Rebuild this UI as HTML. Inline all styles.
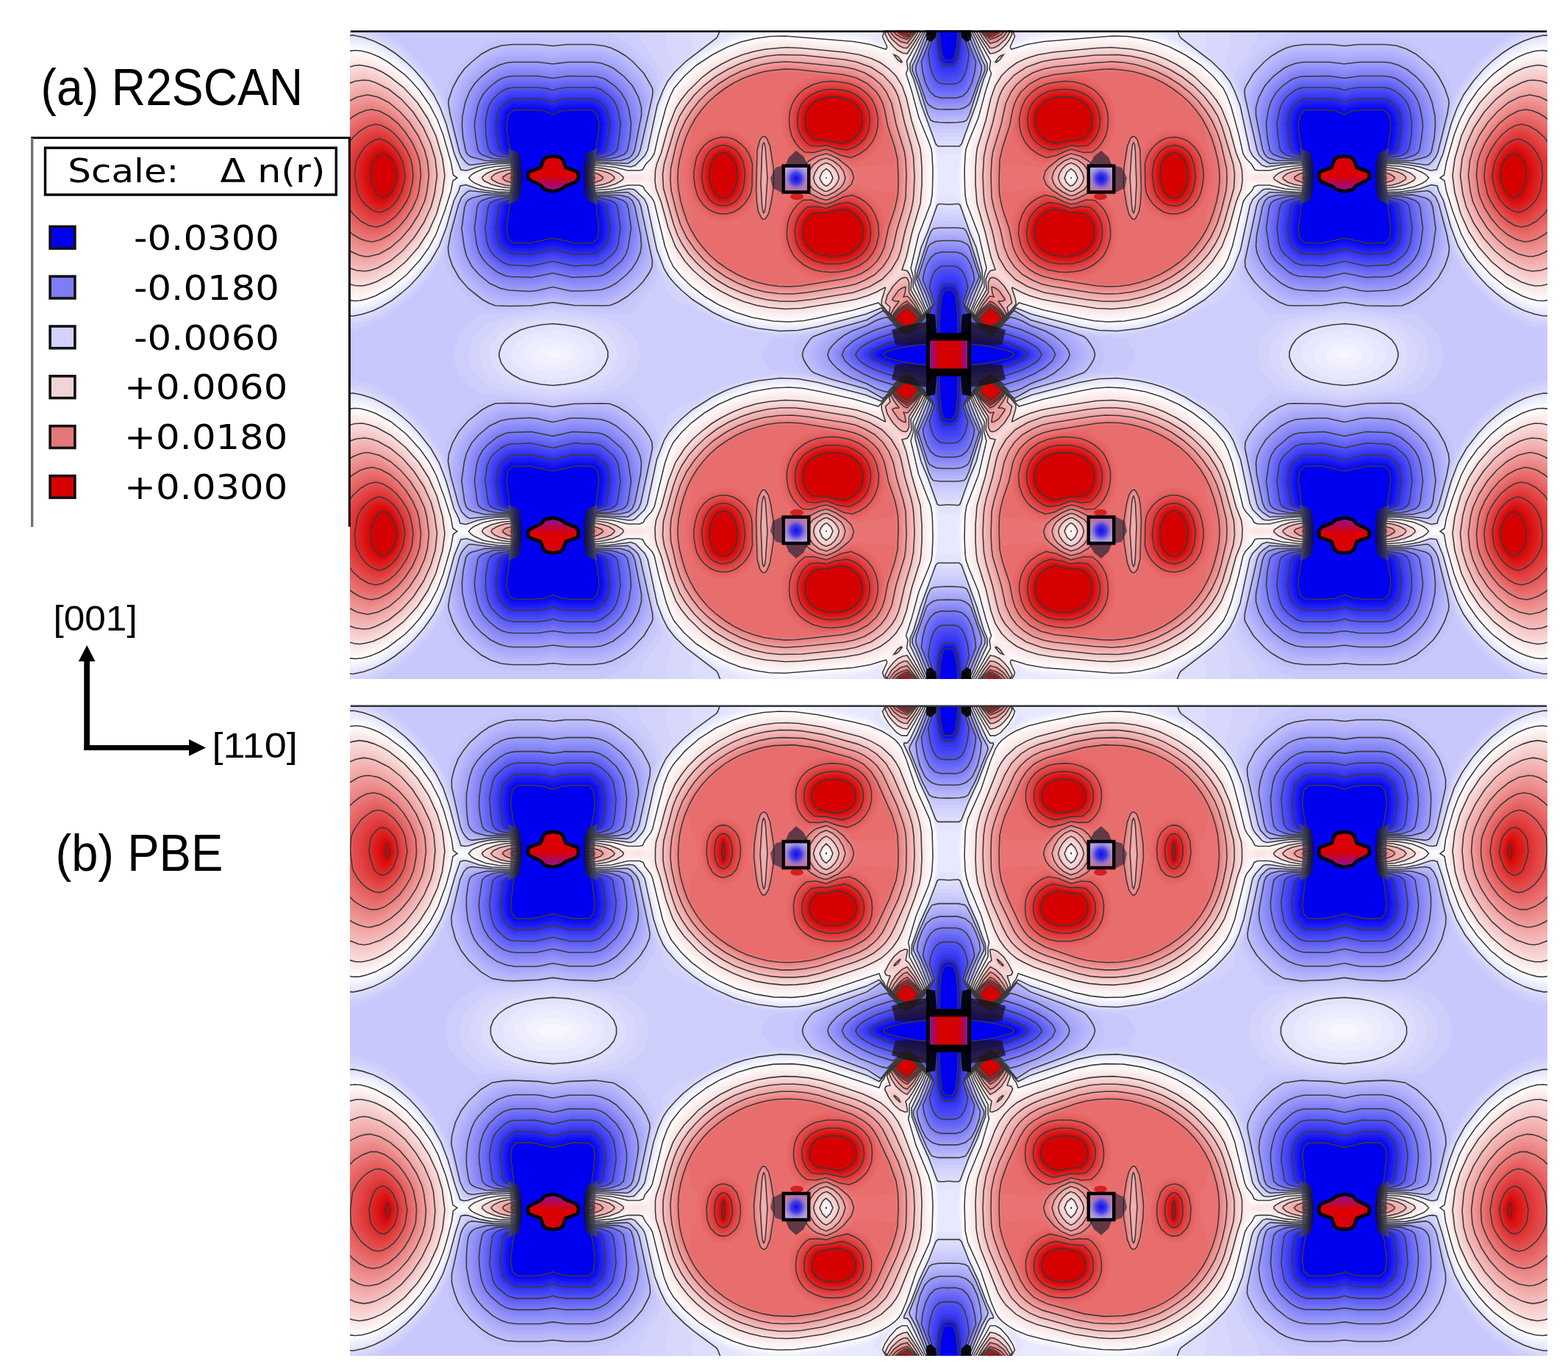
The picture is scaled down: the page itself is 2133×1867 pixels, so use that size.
<!DOCTYPE html>
<html><head><meta charset="utf-8"><title>Charge density difference</title>
<style>
html,body{margin:0;padding:0;background:#fff;}
body{width:2133px;height:1867px;position:relative;overflow:hidden;font-family:"Liberation Sans",sans-serif;color:#000;}
.t{position:absolute;white-space:nowrap;line-height:1;}
</style></head><body>
<svg width="2133" height="1867" viewBox="0 0 2133 1867" style="position:absolute;left:0;top:0">
<defs><linearGradient id="sgl" x1="0" y1="0" x2="0" y2="1"><stop offset="0" stop-color="#b0a8e8"/><stop offset="1" stop-color="#c07098"/></linearGradient><radialGradient id="sg" cx="0.5" cy="0.48" r="0.55"><stop offset="0" stop-color="#0c0cec"/><stop offset="0.45" stop-color="#3030ea" stop-opacity="0.85"/><stop offset="1" stop-color="#9080e0" stop-opacity="0"/></radialGradient><linearGradient id="hl" x1="0" y1="0" x2="1" y2="0"><stop offset="0" stop-color="#505060"/><stop offset="1" stop-color="#101020"/></linearGradient><linearGradient id="hr" x1="1" y1="0" x2="0" y2="0"><stop offset="0" stop-color="#505060"/><stop offset="1" stop-color="#101020"/></linearGradient><linearGradient id="bg1" x1="0" y1="0" x2="0" y2="1"><stop offset="0" stop-color="#d80010"/><stop offset="0.55" stop-color="#dc0000"/><stop offset="1" stop-color="#8a10a8"/></linearGradient><linearGradient id="cg" x1="0" y1="0" x2="1" y2="0"><stop offset="0" stop-color="#8a10a0"/><stop offset="0.35" stop-color="#d40000"/><stop offset="1" stop-color="#d80000"/></linearGradient><path id="a41" d="M1638 892l0-904 -80 0 3 8 -3 8 -43 80 2 20 -2 12 1 6 34 114 28 66 8 22 2 14 2 66 -2 42 -4 22 -35 86 -23 92 5 22 0 28 27 54 5 16 -7 14 -12 13 -16 14 -14 8 -14-7 -17-14 -45-50 -66 20 -78 18 -52 10 -44 4 -48-2 -46-7 -46-13 -44-17 -40-22 -38-27 -34-30 -26-31 -12-21 -13-40 -28-118 -6-12 -20-20 -6-10 -9-4 -24 0 -44 9 -48 4 -2-1 -7-12 -3-7 0-9 -2-2 0-18 2-2 4-14 4-5 50 4 46 9 24 0 8-4 7-10 19-20 7-12 17-75 13-49 12-34 11-20 24-29 30-28 34-25 36-21 42-19 44-13 44-8 46-3 41 2 155 14 36 6 46 17 2-7 -10-24 15-28 -1473 0 0 61 24-3 22 3 30 10 30 15 28 18 28 24 26 26 24 30 24 37 19 41 15 45 20 69 4 24 2 2 10 3 18 2 8-2 22-13 24-8 32-5 40-2 4 5 4 14 2 2 0 14 -5 22 -7 12 -2 1 -42-3 -28-5 -21-7 -23-13 -8-3 -20 2 -10 4 -6 26 -20 66 -22 57 -24 43 -34 44 -24 24 -24 21 -24 17 -26 15 -26 11 -24 6 -18 2 -22-3 0 153 1650 0z"/><path id="a40" d="M1638 892l0-904 -79 0 3 8 -2 6 -44 84 2 32 24 83 14 41 24 52 6 19 6 32 3 59 -3 44 -4 23 -36 85 -11 38 -13 54 4 20 0 28 28 56 4 14 -8 14 -12 14 -16 13 -14 8 -14-7 -16-13 -44-48 -92 27 -96 20 -54 6 -46-1 -48-8 -46-12 -46-19 -40-21 -38-27 -34-30 -26-31 -17-31 -11-34 -26-118 -7-12 -21-20 -6-9 -8-3 -20 0 -41 8 -51 4 -3-2 -6-12 -3-6 0-10 -2-2 0-18 2-2 4-14 4-6 54 4 42 8 20 0 8-3 6-10 20-19 8-12 30-128 9-26 15-28 24-29 30-28 34-25 36-21 42-19 44-13 44-8 48-3 46 2 150 13 36 7 42 17 3-1 0-4 -9-20 5-12 12-18 -1473 0 0 54 22-3 26 4 28 10 30 15 28 18 28 23 26 27 24 29 26 39 18 40 13 38 15 54 9 26 5 24 10 4 18 1 32-14 23-7 30-4 39-2 4 6 4 14 2 2 0 14 -2 16 -5 12 -7 8 -34-2 -31-4 -25-7 -30-14 -18 1 -11 4 -5 20 -22 70 -22 59 -24 43 -34 44 -24 25 -24 21 -24 17 -26 15 -26 11 -26 8 -20 2 -20-3 0 146 1650 0zM556 890l-17-2 -6-4 -1-4 6-6 12-2 12 1 9 5 1 4 -3 4 -13 4z"/><path id="a39" d="M1638 892l0-904 -79 0 4 8 -2 6 -43 86 2 30 23 78 16 44 17 37 12 39 7 42 2 46 -3 42 -6 34 -6 19 -18 38 -15 37 -19 76 3 16 0 28 27 56 5 14 -6 12 -13 16 -18 16 -14 8 -12-6 -16-13 -17-17 -13-16 -16-15 -42 14 -58 16 -90 20 -52 5 -48-1 -48-8 -48-13 -44-18 -42-23 -38-27 -34-30 -25-30 -13-24 -14-34 -28-128 -7-12 -17-15 -8-11 -8-4 -18-1 -42 8 -50 3 -3-2 -7-12 -2-6 0-10 -2-2 0-18 2-2 4-14 4-7 54 4 42 8 18-1 8-4 8-11 16-15 8-12 30-132 13-32 13-22 23-28 31-29 34-25 36-21 42-19 44-13 48-9 46-3 48 2 150 13 34 7 40 19 2-4 -7-18 8-16 9-14 -1472 0 0 47 22-2 26 4 28 9 30 15 28 19 28 23 26 26 24 29 26 39 18 39 16 46 14 52 11 30 5 20 10 3 14 1 35-14 24-6 65-5 4 7 4 14 2 2 0 14 -2 16 -5 12 -7 8 -40-1 -26-4 -24-7 -30-12 -16 1 -10 3 -30 98 -22 57 -24 42 -33 43 -24 24 -25 22 -24 17 -26 15 -26 12 -26 7 -20 2 -20-2 0 139 516 0 -3-6 -1-8 8-12 20-10 24-3 24 3 20 10 8 12 -1 8 -3 6 1038 0z"/><path id="a38" d="M1638 892l0-904 -79 0 4 8 -1 6 -43 86 3 28 22 74 32 83 15 47 8 52 1 32 -3 40 -8 38 -11 34 -28 64 -18 72 2 12 0 28 28 60 3 12 -6 12 -13 16 -16 15 -16 9 -14-7 -16-13 -42-45 -40 14 -70 19 -84 19 -50 5 -48-1 -48-7 -48-13 -46-19 -42-23 -38-27 -36-32 -25-30 -14-28 -17-46 -22-108 -3-10 -7-9 -15-13 -10-12 -7-2 -16-1 -38 7 -52 3 -10-15 -2-6 0-10 -2-2 0-18 2-2 3-14 5-7 46 2 46 8 18-1 6-2 26-26 6-8 4-10 24-113 15-41 15-28 24-29 32-30 36-26 38-22 44-20 46-14 46-8 48-3 42 1 150 14 32 7 38 21 2-1 -4-12 1-6 17-28 -1472 0 0 40 20-2 26 4 28 9 30 15 28 18 28 23 26 25 25 30 26 38 19 38 16 45 17 63 11 28 6 20 20 3 34-12 22-6 27-3 41-1 5 7 3 14 2 2 1 14 -5 22 -10 15 -42-2 -25-3 -23-6 -30-11 -12 0 -10 3 -5 18 -13 30 -16 58 -20 52 -24 42 -33 42 -23 24 -24 21 -26 19 -26 15 -26 12 -26 8 -22 3 -20-2 0 132 482 0 -2-10 2-11 6-10 10-9 14-8 16-5 36-5 36 5 16 5 14 8 10 9 6 10 2 11 -2 10 1004 0z"/><path id="a37" d="M1638 892l0-441 -30-2 -8 3 -24 74 -19 42 -8 24 -15 60 0 36 32 74 -12 22 -24 23 -16 9 -8-3 -26-21 -25-28 -13-11 -42 16 -122 31 -54 10 -46 3 -32-2 -32-5 -32-7 -30-9 -30-11 -30-14 -54-34 -28-22 -24-23 -17-20 -13-22 -22-57 -23-113 -4-10 -6-8 -25-24 -6-3 -14 0 -36 6 -32 2 -22 1 -4-4 -8-18 0-10 -3-4 1-16 2-2 0-6 3-8 5-8 48 2 46 7 14-1 6-2 29-30 6-12 23-111 9-27 11-26 10-20 10-14 18-20 40-35 46-31 52-27 67-27 -1109 0 0 32 20-1 26 5 28 9 30 15 28 18 28 23 26 25 24 28 27 38 19 38 16 44 20 74 17 44 19 2 30-10 26-6 28-3 38-1 8 16 0 6 2 2 1 14 -5 22 -10 16 -42-2 -24-3 -23-5 -31-11 -10 0 -9 3 -5 16 -12 26 -18 64 -20 54 -24 42 -33 42 -23 24 -24 22 -26 19 -26 15 -28 13 -26 8 -24 4 -18-1 0 124 450 0 -2-14 4-14 8-12 14-12 18-10 21-8 25-5 24-2 26 2 24 4 22 8 18 9 14 12 10 14 4 14 -2 14 972 0zM1438 22l7-14 13-20 -22 0 4 14 -5 16 1 4 2 0zM1619 336l19-4 0-344 -78 0 4 8 -1 4 -42 88 1 20 27 90 15 37 32 93 6 8 17 0z"/><path id="a36" d="M1638 892l0-419 -32-2 -6 0 -4 3 -26 73 -18 43 -16 62 -1 34 32 76 -6 12 -9 13 -24 22 -14 8 -12-6 -25-21 -33-36 -42 17 -130 34 -54 10 -50 2 -58-7 -35-8 -32-10 -25-10 -33-16 -54-34 -31-26 -20-20 -15-18 -12-20 -20-52 -26-122 -8-16 -25-24 -6-3 -12-1 -38 6 -36 3 -16 0 -4-5 -8-18 -3-18 3-21 8-15 38 0 62 8 12-4 26-26 8-16 26-121 15-39 13-26 20-26 31-30 82-62 4-6 6-16 6-10 -1023 0 0 25 20-1 28 6 28 10 28 14 28 18 28 22 26 25 25 29 27 38 18 36 16 43 22 81 18 44 16 2 31-10 21-4 32-4 36-1 3 1 7 15 0 7 2 2 1 14 -5 23 -10 16 -34-1 -34-4 -20-4 -32-11 -16 3 -4 14 -13 26 -21 74 -19 50 -23 40 -32 41 -24 26 -24 21 -26 20 -27 16 -25 12 -28 9 -24 5 -20-1 0 117 417 0 -1-16 6-19 12-17 18-14 22-12 22-7 34-7 32-3 32 3 34 6 26 8 20 10 20 16 11 16 7 18 -1 18 939 0zM1625 314l13-2 0-324 -78 0 4 8 0 4 -42 90 0 18 10 24 19 64 41 112 6 6 27 0z"/><path id="a35" d="M1638 892l0-406 -32-1 -8 1 -4 2 -39 102 -18 66 -1 28 32 76 -5 12 -10 14 -25 23 -14 8 -12-6 -23-19 -25-28 -10-8 -42 18 -132 36 -52 9 -52 1 -34-3 -32-6 -62-17 -58-27 -28-16 -28-20 -26-22 -21-21 -15-18 -12-20 -18-47 -28-128 -3-9 -6-8 -25-23 -8-3 -56 6 -40 2 -10-16 -3-18 -2-2 1-18 2-2 0-8 8-15 38 0 62 7 9-4 20-18 9-11 4-11 27-122 11-32 12-26 13-20 61-68 3-8 -4-18 0-14 3-14 7-14 -949 0 0 18 24 0 32 8 32 13 34 20 46 36 42 45 28 38 20 39 14 38 24 91 19 42 9 2 8-1 29-9 29-5 58-3 3 2 7 14 0 8 2 2 1 14 -5 24 -10 16 -34-1 -32-4 -22-4 -32-9 -13 2 -18 40 -23 81 -16 43 -24 42 -32 42 -24 25 -26 24 -26 19 -26 16 -28 13 -26 9 -24 4 -20 0 0 110 391 0 0-22 7-20 14-18 22-18 22-10 24-8 42-8 40-4 42 4 44 8 25 8 20 10 21 16 16 20 8 20 0 22 912 0zM1633 300l5 0 0-312 -78 0 5 12 -42 92 0 16 13 31 36 112 18 45 4 3 6 1 33 0z"/><path id="a34" d="M1638 892l0-395 -28-1 -16 2 -4 4 -6 14 -28 78 -19 70 0 22 27 60 4 16 -9 16 -13 16 -18 16 -14 7 -12-6 -18-14 -38-40 -44 20 -110 31 -50 10 -36 5 -34 0 -36-2 -36-6 -32-8 -32-10 -34-14 -30-16 -30-18 -28-20 -26-23 -21-22 -20-32 -16-40 -30-136 -9-18 -24-22 -8-3 -56 6 -38 1 -10-16 -5-22 1-16 2-2 0-8 7-14 3-2 40 1 56 6 7-3 16-14 15-18 34-144 12-32 33-62 -1-7 -14-37 -4-20 1-22 7-20 -878 0 0 10 22 1 30 6 30 12 32 18 26 18 24 20 24 23 23 26 28 38 20 38 14 40 26 96 19 40 14 1 28-8 30-5 58-3 3 3 7 14 0 8 2 2 1 14 -5 24 -10 16 -56-2 -30-5 -30-9 -8 0 -5 2 -20 40 -25 88 -16 42 -21 38 -32 42 -25 26 -26 24 -26 19 -26 16 -28 14 -26 9 -26 6 -20 0 0 102 362 0 1-24 8-22 16-22 23-18 24-11 34-10 94-13 94 13 36 9 27 12 23 18 16 22 8 22 0 24 884 0zM1638 288l0-300 -77 0 5 10 -1 4 -41 90 0 16 18 44 30 95 16 38 4 3 12 1 34-1z"/><path id="a33" d="M1638 892l0-385 -28 0 -18 1 -4 5 -6 13 -16 44 -28 94 0 20 26 59 5 17 -8 16 -13 16 -18 16 -16 10 -12-6 -16-12 -40-42 -44 22 -114 32 -34 7 -34 6 -32 2 -32 0 -36-4 -56-12 -52-17 -34-16 -50-26 -36-14 -12-7 -10-9 -11-18 -5-22 -25-64 -32-142 -5-14 -14-14 -14-12 -6-2 -56 6 -36 1 -10-17 -3-18 -2-2 1-18 2-2 0-8 6-14 4-3 38 1 58 5 26-21 6-8 5-10 32-140 19-48 2-14 -3-10 -12-22 -44-64 -6-20 0-20 -797 0 0 1 28 2 24 6 26 10 26 14 28 18 26 20 26 24 24 27 31 40 20 38 15 42 28 104 19 38 11 1 27-7 29-4 60-3 4 3 6 14 0 8 2 2 1 14 -5 24 -9 16 -3 1 -58-3 -27-4 -29-8 -10 2 -21 38 -26 94 -16 44 -20 36 -32 42 -23 25 -26 23 -26 21 -28 17 -28 14 -28 11 -26 5 -20 1 0 93 333 0 0-26 10-26 18-24 23-19 28-11 44-10 106-14 108 14 48 10 28 11 25 19 18 24 9 26 -1 26 853 0zM1638 278l0-290 -77 0 5 10 0 4 -41 92 0 14 17 41 24 77 18 46 4 4 8 2 42 0z"/><path id="a32" d="M281 892l0-16 2-16 6-18 8-16 12-16 15-15 18-14 16-8 56-3 136-16 134 15 30 2 24-2 18 3 18-17 30-34 17-23 13-24 4-10 -1-12 -11-34 -32-142 -5-14 -11-12 -20-14 -60 5 -32 0 -10-17 -3-18 -2-2 1-18 2-2 0-8 6-14 4-4 40 1 53 5 5-2 25-22 7-14 32-142 13-38 0-10 -6-14 -14-22 -17-21 -42-39 -20-15 -22-12 -34-14 -44-11 -587 0 25 11 24 14 44 32 40 39 37 46 21 38 12 34 36 132 21 36 7 1 30-7 28-4 58-2 4 4 6 14 3 20 -3 20 -7 18 -7 8 -56-3 -30-4 -26-6 -9 1 -15 24 -6 12 -28 102 -21 58 -16 28 -14 20 -19 24 -26 27 -46 38 -46 28 -24 10 -24 8 -20 4 -18 1 0 78 293 0zM1638 268l0-280 -77 0 6 14 -41 92 0 14 17 40 23 76 16 38 4 4 12 2 40 0zM1638 892l0-375 -22 0 -26 2 -6 7 -17 42 -27 90 -1 26 31 74 -5 12 -11 16 -24 23 -16 9 -8-3 -26-20 -28-32 -6-3 -42 22 -122 34 -64 14 -73 8 -5 4 -9 14 -20 36 527 0z"/><path id="a31" d="M1638 258l0-270 -76 0 5 10 0 6 -31 74 -9 18 0 12 17 40 24 77 12 28 6 3 14 3 38-1zM694 758l34-3 18-10 20-14 26-25 19-22 16-28 2-14 -38-166 -7-16 -10-10 -18-12 -88 4 -4-2 -8-16 -3-18 -2-2 0-18 3-2 0-8 2-6 4-8 4-5 90 6 7-3 23-20 7-16 38-162 1-12 -2-8 -22-36 -32-34 -22-18 -18-11 -20-9 -22-7 -36-5 -68-1 -38 3 -38-4 -72 0 -32 3 -34 11 -20 11 -18 12 -24 21 -21 22 -16 24 -12 24 -8 22 1 14 38 148 8 16 16 20 58-8 60-3 4 5 6 14 0 8 3 2 0 18 -2 2 -3 18 -8 16 -4 3 -60-3 -54-9 -16 18 -7 11 -4 12 -37 138 0 14 9 24 17 32 24 28 38 33 32 17 14-1 34 1 68-4 60-9 52 8 92 5zM1638 892l0-366 -32 0 -18 3 -6 7 -10 22 -32 102 -1 16 1 7 25 57 6 18 -6 12 -11 16 -20 20 -18 12 -8-2 -28-21 -32-34 -46 24 -172 49 -9 6 -10 14 -6 14 -3 12 2 12 434 0z"/><path id="a30" d="M1638 248l0-260 -76 0 5 10 1 6 -30 72 -10 20 0 11 18 44 24 76 8 16 8 4 16 2 36 1 0-2zM687 748l19-1 22-9 24-15 26-22 18-19 16-23 8-17 1-16 -32-150 -6-14 -11-11 -18-12 -86 4 -4-3 -8-16 -3-18 -2-2 0-18 2-2 3-14 8-13 90 4 18-12 10-11 6-14 33-146 1-18 -4-10 -20-34 -30-32 -20-16 -18-11 -20-10 -20-6 -32-4 -70 0 -38 4 -38-4 -72 0 -30 3 -28 9 -26 14 -26 21 -21 20 -16 22 -15 28 -11 32 -1 12 4 27 26 105 6 13 10 13 8 7 6 2 56-7 54-1 5 5 5 14 1 8 2 2 0 18 -2 2 0 10 -3 2 -2 11 -6 11 -4 3 -50-2 -58-6 -8 4 -14 14 -9 21 -21 78 -7 38 2 20 10 30 18 32 25 29 38 30 18 10 18 7 38 1 58-1 60-9 58 8 79 1zM1638 892l0-356 -34 0 -18 2 -6 6 -8 18 -31 98 -1 16 32 80 -5 12 -9 14 -22 23 -18 12 -4 2 -4-1 -28-20 -30-34 -4-2 -44 25 -103 29 -42 16 -9 8 -10 14 -8 14 -3 12 3 12 406 0z"/><path id="a29" d="M1638 242l0-254 -76 0 7 12 0 6 -29 70 -11 22 0 8 17 42 22 70 8 18 8 4 14 2 40 0zM688 742l22-6 22-10 18-12 27-24 17-19 14-21 8-18 0-14 -30-142 -6-14 -16-15 -12-6 -84 3 -4-4 -8-16 -3-18 -2-2 0-18 2-2 3-15 8-13 88 3 10-5 18-16 6-14 30-138 1-18 -5-14 -21-34 -29-30 -20-16 -16-10 -18-8 -20-6 -30-3 -70 0 -38 4 -38-5 -72 0 -28 4 -28 9 -24 13 -26 21 -20 20 -15 21 -14 28 -10 32 -3 18 4 24 22 94 6 12 8 10 10 7 16 3 52-5 46-1 5 6 5 14 1 8 2 2 0 18 -2 2 0 10 -2 2 -3 12 -6 10 -4 4 -98-6 -18 5 -13 13 -8 20 -17 66 -6 34 3 30 11 32 19 32 24 26 37 29 18 9 20 7 12 2 74-2 60-9 58 9 80 1zM1638 892l0-350 -34 0 -20 4 -6 6 -6 13 -30 95 -1 14 0 6 21 46 11 30 -15 26 -20 22 -20 14 -4 2 -4-2 -26-18 -32-35 -4-1 -44 26 -87 24 -37 14 -12 10 -13 16 -8 14 -3 12 2 12 392 0z"/><path id="a28" d="M1638 236l0-248 -75 0 7 14 0 4 -27 66 -13 27 0 7 16 40 28 82 8 5 16 4 38 0 2-1zM678 736l20-4 18-7 18-10 16-11 22-20 16-17 14-22 9-21 -1-23 -27-125 -6-14 -15-14 -13-6 -81 2 -10-14 -7-28 0-16 2-2 1-8 5-14 5-7 84 3 14-6 16-16 6-14 28-130 0-16 -6-16 -20-34 -26-28 -36-26 -18-8 -20-6 -26-3 -68-1 -42 5 -38-4 -72-1 -26 4 -26 8 -24 13 -26 21 -20 20 -14 20 -12 24 -10 30 -4 26 2 22 20 86 6 12 6 8 10 7 22 4 92-4 5 7 5 14 1 8 2 2 0 18 -2 2 0 10 -2 2 -3 12 -10 14 -90-3 -24 5 -13 12 -8 18 -15 61 -5 27 5 36 10 32 17 30 23 26 36 29 18 9 20 7 24 4 32-3 28 1 60-9 54 9 74 1zM1638 892l0-344 -34 0 -20 4 -6 4 -6 13 -29 93 -2 12 25 58 7 24 -14 26 -19 20 -22 16 -4 2 -4-1 -28-20 -32-35 -46 28 -77 22 -32 12 -13 10 -14 16 -9 14 -4 14 3 12 380 0z"/><path id="a27" d="M1638 230l0-242 -75 0 8 18 -25 63 -15 31 0 6 16 38 21 66 6 12 10 5 14 4 40 1 0-2zM679 728l23-6 20-9 18-11 22-19 14-14 13-17 10-18 7-18 -1-24 -24-116 -6-14 -15-13 -14-5 -78 1 -10-15 -3-12 -2-2 0-10 -2-2 0-18 2-2 1-8 5-14 5-7 82 1 14-5 15-15 6-14 25-122 1-16 -8-22 -19-32 -26-27 -34-24 -18-9 -18-5 -24-3 -68 0 -42 5 -38-5 -72 0 -26 4 -24 8 -22 12 -24 19 -18 18 -15 19 -11 22 -9 26 -7 36 0 16 19 84 3 10 6 8 10 7 28 6 86-2 5 7 3 12 2 2 1 8 2 2 0 18 -2 2 0 10 -2 2 -3 12 -10 15 -84-2 -30 7 -12 11 -6 16 -17 77 6 44 10 32 17 30 22 23 34 27 18 9 18 6 26 4 46 0 22-1 48-8 58 9 52 1 19-2zM1638 892l0-338 -30 0 -18 2 -10 3 -6 9 -31 94 -1 10 1 6 22 48 9 28 -5 12 -10 16 -19 21 -22 16 -4 2 -4-2 -26-18 -34-35 -46 29 -67 19 -30 12 -15 12 -14 16 -8 14 -4 12 3 12 369 0z"/><path id="a26" d="M1638 224l0-236 -75 0 7 12 2 7 -38 91 -1 10 15 36 24 70 10 7 16 4 40 1 0-2zM638 722l30 0 20-4 22-7 20-11 29-24 15-16 16-24 10-24 2-12 -2-15 -22-107 -6-16 -14-12 -16-5 -74 1 -10-16 -7-28 0-16 2-2 1-8 2-2 3-12 5-8 78 1 18-6 13-13 5-14 23-110 1-18 -6-20 -16-32 -26-29 -34-26 -16-8 -18-5 -28-4 -70 0 -38 5 -38-5 -70 0 -22 2 -20 6 -24 12 -24 18 -20 19 -14 19 -12 22 -9 28 -7 38 0 20 16 72 4 10 6 8 14 6 27 6 79-2 5 8 3 12 3 2 0 8 2 2 0 18 -2 2 0 10 -2 2 -3 12 -10 16 -78-2 -32 8 -8 4 -5 6 -6 14 -14 68 6 48 7 26 15 30 21 25 34 28 32 15 26 5 56 3 22-2 42-9 52 10 18 1 18-2zM1638 892l0-333 -30 0 -18 3 -12 5 -6 10 -28 87 -1 8 23 54 9 28 -15 28 -18 20 -20 15 -8 4 -2-1 -26-17 -35-35 -47 29 -68 21 -16 8 -17 14 -14 14 -8 14 -4 12 3 12 358 0z"/><path id="a25" d="M1638 220l0-232 -74 0 7 12 2 8 -37 88 -1 8 1 8 14 36 16 48 6 12 10 6 14 5 42 1zM622 716l60-4 20-6 20-10 30-24 16-16 15-22 11-26 2-20 -4-30 -16-80 -6-14 -12-12 -20-6 -70 0 -10-16 -7-28 0-16 2-2 0-8 2-2 3-12 6-8 72 0 22-6 12-12 6-14 20-102 0-20 -5-20 -8-18 -9-15 -24-28 -33-25 -17-8 -16-5 -24-3 -68 0 -42 5 -38-5 -70 0 -20 2 -18 5 -24 11 -24 18 -20 20 -14 19 -10 21 -9 26 -7 38 0 26 12 60 9 16 15 8 28 6 76 0 6 8 3 12 2 2 0 8 2 2 0 18 -2 2 0 10 -2 2 -3 12 -10 16 -74 0 -33 8 -8 4 -5 5 -6 17 -10 56 0 18 5 32 6 26 15 30 19 24 33 27 30 15 26 6 58 2 20-2 42-9 46 10 26 1zM1638 892l0-327 -30 0 -16 2 -14 6 -6 8 -28 89 1 6 20 44 11 32 -15 28 -19 22 -16 13 -12 7 -12-6 -13-10 -33-32 -6 0 -14 6 -30 19 -53 17 -20 10 -18 14 -14 14 -9 14 -4 12 3 12 347 0z"/><path id="a24" d="M1638 214l0-226 -74 0 10 20 -36 88 0 10 2 12 26 74 6 9 12 8 12 4 42 1zM626 708l40-2 18-2 20-7 18-10 28-23 15-16 14-22 9-22 3-18 -2-30 -16-78 -7-16 -10-9 -24-6 -64 0 -10-17 -7-28 0-16 2-2 0-8 2-2 3-12 6-9 70 0 23-7 7-6 4-6 5-12 18-92 0-22 -8-28 -16-30 -23-26 -30-23 -18-8 -14-5 -22-3 -68 0 -42 5 -40-5 -68 0 -18 2 -20 6 -24 12 -24 19 -19 20 -14 22 -11 28 -8 38 -1 26 3 34 8 38 6 8 8 5 38 10 71 1 5 8 3 12 2 2 0 8 2 2 0 18 -2 2 0 10 -2 2 0 6 -5 12 -8 11 -68-1 -34 9 -9 5 -6 6 -5 14 -8 58 7 50 6 24 14 28 19 22 30 25 30 14 24 5 56 3 18-2 44-10 48 11 28 0zM1638 892l0-321 -30 0 -16 2 -16 8 -6 9 -26 80 22 49 11 33 -15 28 -20 23 -16 12 -12 7 -22-13 -32-30 -16 4 -16 6 -24 13 -40 15 -22 12 -18 14 -13 13 -9 12 -4 12 4 12 336 0z"/><path id="a23" d="M1638 208l0-220 -73 0 8 16 2 6 -34 84 0 16 5 21 18 51 4 8 6 7 10 6 14 5 20 1 20-1zM622 702l56-4 20-5 18-9 29-24 14-14 13-20 10-24 4-22 0-26 -15-76 -6-14 -11-9 -25-7 -61-1 -10-17 -7-28 0-16 2-2 0-8 2-2 3-12 6-9 66-1 26-8 10-10 5-14 16-84 0-20 -9-32 -15-30 -23-25 -30-23 -30-12 -20-2 -68 0 -42 5 -38-5 -70 0 -18 2 -16 4 -22 11 -26 20 -18 19 -14 22 -11 30 -8 38 0 22 3 36 6 32 6 8 10 6 36 10 64 0 4 2 9 22 0 8 2 2 0 18 -2 2 0 10 -2 2 0 6 -5 12 -8 11 -66 1 -32 9 -9 5 -5 6 -5 12 -7 58 6 48 6 22 12 26 18 22 32 26 28 13 22 5 58 2 16-2 44-9 48 10 24 1zM1638 892l0-316 -30 0 -16 3 -14 6 -8 10 -24 75 22 50 10 30 -5 12 -11 18 -20 23 -16 13 -12 7 -19-11 -33-30 -22 7 -66 27 -28 16 -28 24 -9 12 -4 12 3 12 330 0z"/><path id="a22" d="M1638 202l0-214 -73 0 11 22 -15 40 -15 34 -3 12 3 26 6 21 14 37 14 15 10 5 14 3 34 1 0-2zM617 696l59-4 18-4 18-9 29-23 13-14 14-20 9-22 5-30 0-20 -14-72 -4-12 -5-6 -7-4 -26-7 -58-1 -8-12 -5-12 -2-18 -2-4 0-16 2-2 0-8 2-2 3-13 6-8 64-3 24-7 8-5 4-5 4-13 15-78 -2-22 -8-34 -15-28 -21-24 -29-22 -14-7 -16-5 -20-2 -66 0 -42 5 -38-5 -70 0 -16 2 -16 4 -22 10 -25 20 -17 18 -14 22 -10 28 -7 36 -1 20 3 36 6 32 5 8 9 6 17 7 20 4 60 1 4 2 6 14 3 16 2 2 0 18 -2 2 0 10 -2 2 -3 12 -10 18 -62 1 -30 9 -14 10 -5 12 -7 58 6 46 5 22 13 26 17 20 29 24 28 14 22 4 56 2 16-2 44-10 46 10 21 2zM1638 892l0-311 -30 0 -16 3 -16 9 -8 11 -21 66 25 56 7 24 -15 28 -22 25 -15 13 -13 7 -19-11 -29-26 -28 8 -55 22 -33 19 -27 23 -8 12 -3 10 3 12 323 0z"/><path id="a21" d="M1638 198l0-210 -72 0 8 16 3 8 -14 36 -15 34 -3 12 4 30 7 25 12 27 8 10 8 6 20 6 34 0zM633 688l29 0 16-2 18-6 18-10 26-21 12-14 12-19 8-22 6-34 0-16 -12-64 -5-14 -11-8 -27-8 -55-2 -11-18 -2-12 -2-2 0-10 -2-2 0-18 2-2 0-8 2-2 3-14 6-8 62-3 24-7 8-6 4-5 10-42 7-45 -6-36 -7-24 -14-25 -20-21 -28-21 -28-11 -18-2 -66 0 -42 6 -40-6 -68 0 -18 2 -16 5 -20 11 -23 18 -16 18 -12 20 -9 26 -7 36 -1 20 3 34 6 32 6 8 7 5 16 7 20 4 56 1 4 3 4 6 3 14 2 2 0 8 2 2 0 18 -2 2 0 10 -2 2 -2 12 -11 19 -60 1 -30 10 -11 10 -4 12 -7 58 6 46 6 22 12 22 18 20 28 23 28 12 18 3 56 2 58-12 52 11 16 1 15-2zM1638 892l0-306 -32 1 -16 3 -14 10 -10 15 -16 47 -1 8 25 59 6 19 -6 14 -10 16 -22 26 -15 12 -13 8 -17-10 -29-25 -32 10 -48 19 -35 20 -25 22 -7 10 -3 10 3 12 317 0z"/><path id="a20" d="M1638 192l0-204 -72 0 12 24 -12 33 -16 35 -2 10 4 31 8 29 12 24 8 9 8 5 20 5 30 1 0-2zM631 682l45-2 18-6 16-8 26-22 12-13 12-19 7-20 6-38 0-14 -10-60 -4-12 -11-9 -26-8 -12-1 -42-1 -6-8 -5-11 -2-12 -2-2 0-10 -2-2 0-18 2-2 0-8 2-2 3-14 6-8 47-2 17-3 22-8 10-11 8-36 6-42 -6-40 -7-22 -13-24 -20-22 -27-20 -27-10 -16-2 -66 0 -42 6 -40-6 -68 0 -16 2 -16 5 -18 9 -24 20 -15 16 -11 20 -9 24 -7 36 0 18 3 34 6 32 6 8 10 6 15 6 18 4 50 1 4 2 4 7 3 14 2 2 0 8 2 2 0 18 -2 2 0 10 -2 2 -2 12 -5 11 -6 8 -44 1 -14 2 -24 8 -13 10 -4 12 -7 56 6 46 5 20 11 22 16 18 28 23 26 11 18 3 54 3 60-13 52 12 29-1zM1638 892l0-300 -30 0 -16 3 -14 9 -12 17 -12 35 -3 16 3 10 24 54 3 12 -16 30 -23 26 -14 12 -14 8 -16-9 -28-23 -36 12 -42 17 -34 19 -23 20 -7 10 -4 10 4 12 310 0z"/><path id="a19" d="M1638 188l0-200 -72 0 10 16 3 10 -8 22 -19 44 -2 8 5 30 7 28 12 24 14 12 18 6 32 0zM629 676l45-2 16-5 16-8 26-21 11-12 11-18 7-20 7-38 0-16 -8-54 -4-12 -10-9 -22-7 -16-3 -40-1 -6-8 -5-12 -2-12 -2-2 0-10 -2-2 0-18 2-2 0-8 2-2 3-14 6-9 44-2 18-4 22-8 9-11 8-38 3-36 -6-40 -7-22 -13-24 -18-19 -26-20 -26-9 -14-1 -68 0 -40 6 -40-6 -68 0 -16 1 -14 5 -18 9 -22 18 -14 16 -11 18 -8 24 -7 34 0 16 2 34 6 32 5 8 8 6 13 6 18 4 50 2 4 3 4 7 3 14 2 2 0 8 2 2 0 18 -2 2 0 10 -2 2 -2 12 -5 12 -6 8 -42 1 -16 3 -23 8 -9 10 -4 10 -6 56 5 44 6 20 10 20 15 18 28 22 24 11 16 2 54 2 60-12 52 12 27-1zM1638 892l0-295 -32 0 -16 5 -13 10 -11 17 -8 25 -4 22 28 70 -6 14 -11 18 -10 14 -13 13 -16 13 -12 6 -16-8 -24-20 -41 12 -39 16 -32 19 -22 19 -7 10 -2 8 3 12 304 0z"/><path id="a18" d="M1638 182l0-194 -71 0 13 26 -27 70 3 26 8 32 12 23 14 13 18 5 30-1zM628 670l44-2 16-4 14-8 35-30 12-18 6-18 8-54 -8-54 -4-12 -9-8 -23-8 -17-3 -34-1 -6-8 -5-12 -2-12 -2-2 0-10 -2-2 0-18 2-2 0-8 2-2 3-14 6-9 2-1 40-2 18-4 20-8 9-10 7-36 3-38 -6-38 -8-24 -13-22 -18-19 -26-18 -24-7 -78-1 -40 6 -40-6 -68 0 -16 2 -14 4 -14 8 -22 18 -15 17 -9 16 -7 20 -7 36 -1 16 4 34 5 30 5 8 8 6 29 10 46 2 5 4 6 14 0 6 2 2 0 8 2 2 0 18 -2 2 0 10 -2 2 -2 12 -5 12 -6 8 -36 1 -17 3 -22 8 -9 8 -4 12 -7 56 6 44 6 20 10 18 15 17 24 19 24 11 14 2 56 2 58-12 54 12 24-1zM1638 892l0-290 -30 0 -16 4 -14 11 -10 17 -8 24 -3 20 22 54 4 14 -6 14 -12 18 -22 26 -17 14 -12 7 -12-6 -26-20 -46 14 -36 16 -29 17 -20 18 -8 16 4 12 297 0z"/><path id="a17" d="M1638 176l0-188 -71 0 11 18 3 10 -25 64 4 30 8 30 11 20 13 12 18 4 28 0zM617 666l53-3 14-3 14-7 26-21 10-10 10-16 7-18 7-52 -7-54 -3-10 -8-8 -20-8 -19-4 -33-1 -6-9 -5-12 -2-12 -2-2 0-10 -2-2 0-18 2-2 0-8 2-2 3-14 6-9 2-2 36-1 23-6 16-8 8-10 6-34 3-38 -6-38 -6-18 -11-22 -17-18 -24-18 -24-9 -80-1 -26 3 -14 3 -14-3 -26-3 -66 0 -26 4 -16 8 -20 16 -15 16 -10 16 -8 22 -6 32 -1 16 3 30 5 34 4 8 7 6 13 6 20 5 40 2 6 5 2 6 1 6 2 2 0 6 2 2 0 8 2 2 0 18 -2 2 0 10 -2 2 -2 12 -5 12 -6 9 -35 1 -17 4 -18 6 -10 10 -3 10 -7 56 5 42 5 16 9 18 13 16 26 22 22 9 14 3 54 2 60-13 50 12 17 1zM1638 892l0-284 -28 1 -15 3 -13 9 -10 15 -8 24 -4 22 24 62 -6 14 -13 22 -23 26 -16 13 -12 6 -12-6 -22-16 -50 15 -34 14 -26 16 -18 16 -6 8 -3 8 4 12 291 0z"/><path id="a16" d="M1638 170l0-182 -70 0 10 18 4 10 -22 60 3 30 8 30 11 20 12 10 16 4 28 0zM625 660l45-2 14-4 12-6 34-29 10-15 6-18 7-50 -7-52 -3-12 -8-8 -19-7 -18-4 -30-2 -6-9 -5-12 -2-12 -2-2 0-10 -2-2 0-18 2-2 0-8 2-2 3-14 6-10 2-2 34-1 19-5 17-8 8-10 6-34 3-38 -6-36 -6-20 -11-20 -16-17 -23-17 -23-8 -78-1 -26 3 -14 4 -14-4 -26-3 -68 0 -24 5 -15 8 -20 16 -13 14 -9 16 -7 20 -7 32 2 44 6 34 9 12 10 6 21 6 39 2 6 6 3 12 2 2 0 6 2 2 0 8 2 2 0 18 -2 2 0 10 -2 2 -2 12 -2 2 -3 10 -6 10 -30 1 -17 3 -19 7 -9 9 -3 12 -7 54 5 42 5 16 9 17 13 15 25 20 22 9 66 4 58-13 52 12 23 0zM1638 892l0-277 -26 0 -15 3 -12 8 -10 14 -7 20 -5 24 21 60 -6 14 -13 22 -21 24 -18 15 -12 7 -32-20 -56 17 -30 14 -24 15 -15 14 -7 14 4 12 284 0z"/><path id="a15" d="M1638 164l0-176 -70 0 14 28 -3 12 -14 36 -3 10 5 30 7 28 10 18 12 10 14 4 28 0zM629 654l39-1 14-4 12-6 24-19 9-10 10-16 5-16 6-48 -6-50 -4-12 -9-8 -15-6 -18-4 -28-2 -6-10 -3-10 -2-2 -2-12 -2-2 0-10 -2-2 0-18 2-2 0-8 2-2 0-6 2-2 3-12 4-5 2-1 30-2 23-6 14-8 7-10 6-34 2-36 -6-36 -6-20 -10-17 -16-17 -22-16 -22-7 -76-1 -26 3 -14 4 -14-4 -26-3 -68 0 -24 5 -14 8 -18 15 -12 13 -9 15 -7 20 -6 30 2 44 6 32 3 8 6 6 11 6 18 5 36 3 6 6 3 12 2 2 0 6 2 2 0 8 2 2 0 18 -2 2 -2 18 -7 18 -6 10 -28 2 -18 4 -16 6 -8 8 -4 12 -6 54 5 40 5 18 12 20 24 22 14 9 16 5 64 3 58-12 54 12 25-1zM1638 892l0-271 -26 0 -14 3 -11 8 -9 13 -8 21 -4 22 17 46 2 10 -6 14 -12 20 -10 14 -10 10 -19 16 -14 8 -30-17 -60 19 -26 12 -22 14 -15 14 -5 12 4 12 278 0z"/><path id="a14" d="M1638 156l0-168 -69 0 10 18 4 12 -15 41 -2 11 4 32 8 27 10 17 12 9 18 3 20 0 0-2zM622 650l46-2 22-8 33-28 9-14 5-16 6-34 0-14 -6-50 -4-12 -9-8 -14-5 -20-5 -24-3 -11-27 -2-18 -2-2 0-18 2-2 0-8 2-2 0-6 2-2 3-13 4-4 2-2 28-2 22-6 12-7 7-10 6-34 2-36 -5-34 -6-19 -10-17 -14-15 -22-16 -20-7 -76 0 -26 3 -14 4 -16-5 -26-2 -68 0 -20 4 -12 7 -18 14 -12 13 -9 14 -6 18 -6 30 2 42 6 34 7 12 9 6 19 6 34 3 6 6 3 13 2 2 0 6 2 2 0 8 2 2 0 18 -2 2 -2 18 -11 27 -26 3 -22 6 -13 6 -7 8 -3 10 -6 54 5 40 4 15 8 14 11 13 23 19 20 8 62 3 60-12 54 12 18 0zM1638 892l0-265 -26 1 -12 2 -11 8 -9 13 -7 21 -4 20 17 50 -9 20 -22 34 -27 22 -14 9 -26-15 -36 10 -32 12 -24 12 -18 12 -11 12 -5 10 5 12 271 0z"/><path id="a13" d="M1638 150l0-162 -69 0 15 30 -14 40 -1 8 4 32 8 26 9 16 10 8 16 3 22 0 0-1zM626 644l40-1 22-8 31-27 9-14 5-14 6-44 -7-52 -3-10 -7-8 -13-6 -43-8 -11-28 -2-18 -2-2 0-18 2-2 0-8 2-2 0-6 2-2 3-13 4-5 2-1 26-3 20-6 13-8 5-10 6-34 3-34 -6-34 -6-18 -9-15 -14-15 -20-14 -20-7 -74 0 -24 3 -16 4 -16-4 -26-3 -66 0 -20 4 -12 6 -18 15 -11 12 -8 14 -5 16 -6 30 2 40 5 32 3 8 5 6 10 6 13 4 34 4 6 6 3 14 2 2 0 6 2 2 0 8 2 2 0 18 -2 2 -2 18 -11 28 -24 3 -19 5 -13 6 -7 8 -3 11 -7 53 5 38 5 16 11 18 22 20 12 7 14 5 60 3 60-13 56 13 20-1zM1638 892l0-258 -24 0 -12 2 -11 8 -9 14 -6 18 -4 20 15 46 -8 18 -15 24 -4 14 -16 8 -18 14 -12 7 -20-11 -4-1 -36 11 -30 11 -22 10 -17 11 -12 12 -5 10 5 12 265 0z"/><path id="a12" d="M1638 144l0-156 -68 0 15 30 -12 36 -1 10 4 30 8 27 8 13 10 8 14 3 22-1zM618 640l12-2 34 0 20-6 31-26 8-12 5-14 6-44 -7-50 -3-12 -5-6 -11-6 -42-10 -11-28 -2-18 -3-2 1-18 2-2 0-8 2-2 0-6 2-2 3-14 4-5 30-5 17-6 11-8 4-8 5-34 3-34 -6-32 -5-16 -7-14 -14-15 -20-15 -18-6 -74 0 -24 3 -16 5 -16-5 -26-3 -66 0 -18 4 -12 6 -16 13 -12 13 -7 12 -5 16 -5 28 1 38 6 34 6 12 8 6 14 5 32 5 6 6 3 14 2 2 0 6 2 2 0 8 2 2 1 18 -3 2 -2 18 -11 28 -40 9 -12 6 -6 7 -3 12 -7 52 5 38 4 12 7 14 9 10 21 17 18 8 60 3 60-13 54 12 14 1zM1638 892l0-252 -1 0 -21 0 -12 2 -11 8 -9 14 -6 19 -3 17 13 40 -6 14 -14 26 -2 16 -4 7 -22 7 -26 17 -20-9 -34 10 -30 10 -22 11 -18 11 -10 10 -6 10 6 12 258 0z"/><path id="a11" d="M1638 136l0-148 -66 0 14 32 -10 38 4 32 8 25 8 13 10 7 12 2 20-1zM624 634l40-1 18-6 30-25 7-12 4-12 6-42 -7-50 -3-12 -5-6 -11-6 -33-7 -5-3 -10-28 -3-18 -2-2 1-18 2-2 0-8 2-2 0-6 2-2 3-14 4-5 24-5 18-6 9-6 5-8 6-36 3-32 -6-34 -5-16 -10-16 -20-17 -12-8 -14-4 -72 0 -24 3 -16 5 -16-5 -26-3 -66 0 -18 4 -26 19 -9 10 -7 12 -5 16 -6 28 2 36 5 32 3 8 4 6 7 5 12 5 30 5 6 7 3 14 2 2 0 6 2 2 0 8 2 2 1 18 -2 2 -3 18 -10 28 -5 3 -12 1 -21 6 -11 6 -5 6 -3 12 -7 52 5 36 4 14 10 16 20 17 10 7 12 4 58 3 60-13 56 12 18 0zM1638 892l0-244 -2 0 -22 1 -10 2 -9 7 -7 12 -6 16 -3 18 9 36 -14 30 -3 26 -5 10 -8 4 -22 4 -22 14 -16-7 -32 9 -30 10 -22 10 -17 10 -11 10 -5 10 1 6 4 6 252 0z"/><path id="a10" d="M1638 128l0-140 -62 0 0 8 11 24 -7 26 0 8 4 32 7 22 7 12 10 7 12 2 18-1zM627 628l35 0 18-6 28-24 7-10 4-12 5-40 -9-60 -4-6 -9-6 -32-8 -5-4 -10-28 -3-18 -2-2 0-18 3-2 0-8 2-2 5-22 4-6 36-10 10-6 5-8 7-36 2-32 -5-32 -5-16 -8-12 -12-12 -16-12 -16-5 -72-1 -22 3 -18 5 -18-5 -24-3 -66 0 -16 4 -24 17 -10 11 -6 11 -5 15 -5 26 2 36 5 32 3 8 4 6 18 9 26 6 6 7 5 22 2 2 0 8 3 2 0 18 -2 2 -3 18 -8 20 -2 8 -5 4 -32 8 -9 6 -4 6 -9 62 5 36 3 12 9 14 19 17 10 6 12 4 56 3 60-13 58 12 19-1zM1638 892l0-235 -2-1 -20 1 -10 2 -8 7 -7 12 -8 32 6 30 -11 24 -3 34 -5 11 -10 4 -28 5 -18 10 -12-4 -62 18 -22 10 -16 10 -11 10 -4 8 1 6 5 6 245 0z"/><path id="a9" d="M1638 120l0-132 -58 0 1 14 7 20 -4 20 1 18 4 24 6 18 7 12 8 5 10 2 18-1zM621 624l41-2 16-5 26-22 6-9 4-12 5-38 -9-60 -4-6 -6-4 -10-4 -20-5 -6-5 -1-8 -8-20 -3-18 -2-2 0-18 2-2 1-8 2-2 4-22 4-6 36-12 6-4 5-8 7-38 2-30 -5-30 -5-16 -6-10 -11-11 -16-12 -14-5 -70-1 -24 3 -18 6 -18-6 -24-3 -66 0 -14 4 -24 17 -9 10 -5 10 -9 40 2 32 5 32 6 14 6 5 10 5 24 6 7 8 4 22 2 2 1 8 2 2 0 18 -2 2 -3 18 -8 20 -1 8 -6 5 -18 4 -13 5 -5 4 -4 6 -9 62 4 34 4 12 9 14 18 15 10 6 10 3 54 2 60-13 56 13 15 0zM1638 892l0-227 -4 0 -18 0 -8 2 -8 7 -6 11 -8 31 4 22 -8 22 -2 40 -5 12 -11 5 -36 6 -14 6 -8-2 -18 4 -42 13 -37 18 -12 10 -4 8 2 6 4 6 239 0z"/><path id="a8" d="M1637 112l1-124 -53 0 0 20 4 14 -2 16 2 18 4 22 5 17 6 10 8 6 25 1zM624 618l38-1 14-4 24-21 7-10 3-10 5-36 -10-60 -7-8 -12-6 -16-4 -6-6 -1-8 -9-20 -2-18 -2-2 0-18 2-2 0-8 2-2 5-22 4-6 5-4 16-4 13-6 9-12 6-36 3-30 -6-30 -4-14 -8-12 -19-16 -8-5 -10-2 -68 0 -24 2 -18 6 -18-6 -24-2 -66 0 -12 2 -22 16 -8 9 -6 10 -8 38 2 32 5 32 6 14 11 8 22 6 5 4 4 6 5 22 2 2 0 8 2 2 0 18 -2 2 -2 18 -9 20 -1 8 -6 6 -25 8 -6 4 -4 6 -10 62 5 34 3 10 8 12 17 14 8 6 10 3 54 2 60-13 58 13 16-1zM1638 892l0-219 -4 0 -16 0 -8 2 -8 7 -5 10 -7 28 2 16 -5 16 -3 52 -2 8 -3 4 -13 5 -72 13 -42 12 -36 16 -12 10 -5 8 2 6 5 6 232 0z"/><path id="a7" d="M1634 104l4-1 0-115 -49 0 4 60 7 38 6 11 6 5 8 2 14 0zM618 614l8-2 34 0 12-3 24-20 5-7 4-10 5-36 -10-60 -7-8 -23-9 -6-6 -1-9 -9-20 -2-18 -2-2 0-18 2-2 0-8 2-2 5-22 4-6 5-5 24-9 4-4 5-8 6-36 3-30 -5-28 -5-14 -6-10 -18-15 -16-7 -68 0 -22 2 -20 7 -20-7 -22-2 -64 0 -12 2 -19 14 -12 14 -6 16 -5 32 3 26 7 38 8 10 24 9 6 5 5 14 3 14 2 2 0 8 2 2 0 18 -2 2 -2 18 -9 20 -1 9 -6 6 -23 9 -7 8 -10 62 5 32 3 10 6 10 18 15 16 7 52 2 60-13 58 13 10 0zM1638 892l0-210 -6-1 -20 2 -6 5 -6 12 -5 18 -3 24 -4 66 -4 11 -10 4 -68 12 -50 13 -35 16 -10 8 -5 8 1 6 6 6 225 0z"/><path id="a6" d="M1638 94l0-106 -45 0 4 62 4 22 4 12 5 8 6 3 20 1 2-2zM622 608l38-1 10-3 22-18 6-8 2-8 5-34 -9-60 -4-5 -7-5 -15-5 -6-7 -1-10 -2-2 -5-16 -2-2 0-6 -2-2 0-10 -2-2 0-18 2-2 0-8 2-2 3-14 5-14 6-7 11-3 10-6 6-8 3-10 7-58 -5-28 -4-12 -6-8 -18-16 -14-5 -66 0 -22 3 -20 6 -20-6 -22-3 -64 0 -12 3 -16 12 -11 12 -5 14 -5 30 2 26 7 38 7 10 10 6 11 3 6 7 5 14 3 14 2 2 0 8 2 2 0 18 -2 2 0 10 -2 2 0 6 -2 2 -5 16 -2 2 -1 10 -6 7 -10 3 -11 6 -5 8 -9 60 7 40 6 8 16 14 14 7 38 0 12 2 62-14 60 14 12-1zM1638 892l0-202 -6-1 -18 1 -7 8 -4 8 -6 32 -5 77 -4 7 -10 5 -66 10 -50 13 -36 16 -10 7 -4 7 2 6 6 6 218 0z"/><path id="a5" d="M1638 92l0-104 -43 0 3 54 3 22 5 16 4 8 6 4 14 1 8-1zM624 602l36 0 8-2 21-18 7-14 4-32 -9-58 -6-8 -15-7 -6-9 -1-10 -9-20 -2-18 -2-2 0-18 2-2 0-8 2-2 3-14 2-2 0-6 3-7 6-7 18-10 5-8 2-10 7-56 -5-26 -4-12 -9-11 -12-10 -12-5 -66 0 -20 2 -22 8 -22-8 -20-2 -64 0 -10 2 -16 13 -9 11 -4 12 -5 28 2 26 7 38 7 10 16 8 6 7 3 7 0 6 2 2 1 6 2 2 0 6 2 2 0 8 2 2 0 18 -2 2 -2 18 -9 20 -1 10 -6 9 -16 7 -5 8 -9 60 7 38 5 7 16 14 12 5 36 0 12 2 62-14 60 14 14-2zM1638 892l0-199 -6-1 -12 0 -6 2 -6 6 -4 10 -6 34 -4 74 -2 8 -10 4 -66 10 -48 12 -35 14 -11 8 -4 6 2 6 7 6 211 0z"/><path id="a4" d="M1637 90l1 0 0-102 -42 0 3 56 8 34 4 8 5 4 21 0zM619 598l45-2 22-18 5-10 4-32 -9-58 -3-6 -14-8 -6-10 0-10 -9-20 -2-18 -2-2 0-18 2-2 0-8 2-2 5-22 7-14 17-12 6-18 6-54 -5-26 -3-10 -9-10 -10-8 -10-5 -66 0 -20 3 -22 7 -22-7 -20-3 -64 0 -8 2 -14 11 -9 10 -8 34 2 28 6 38 6 10 15 10 4 6 3 8 1 6 2 2 0 6 2 2 0 6 2 2 0 8 2 2 0 18 -2 2 0 10 -2 2 0 6 -2 2 -4 16 -2 2 -1 10 -6 10 -16 10 -4 16 -6 48 6 36 19 18 10 5 36 0 12 2 62-14 60 13 9 0zM1638 892l0-197 -6-1 -12 0 -6 3 -6 7 -4 10 -5 32 -4 76 -2 10 -75 12 -42 9 -36 14 -11 7 -5 6 3 6 7 6 204 0z"/><path id="a3" d="M1634 88l4-1 0-99 -40 0 3 54 6 32 4 8 5 5 18 1zM620 592l42-1 20-16 4-9 4-28 -8-60 -3-4 -11-10 -2-8 -3-2 -1-10 -8-20 -2-18 -2-2 0-18 2-2 0-8 2-2 5-22 6-14 13-12 6-20 6-52 -7-32 -8-10 -11-9 -6-2 -66 0 -20 2 -22 8 -22-8 -20-2 -64-1 -6 2 -20 18 -8 32 2 28 6 38 4 8 8 6 8 12 4 14 2 2 0 6 2 2 0 6 2 2 0 8 2 2 0 18 -2 2 0 10 -2 2 0 6 -2 2 -4 16 -2 2 -1 10 -3 2 -2 8 -13 12 -3 14 -6 48 5 32 3 5 15 13 7 3 38 1 10 1 64-13 60 13 8-1zM1638 892l0-194 -6-1 -12 0 -6 3 -5 6 -4 10 -5 32 -3 78 -3 10 -72 11 -42 9 -35 12 -10 6 -4 6 2 6 9 6 196 0z"/><path id="a2" d="M1638 84l0-96 -39 0 3 54 7 32 3 6 6 5 14 1 6-2zM616 588l4-2 40 0 18-14 3-6 5-28 -7-46 -3-16 -10-12 -1-8 -2-2 -1-10 -8-20 -2-18 -2-2 0-18 2-2 0-8 2-2 4-22 6-14 10-14 5-18 7-52 -7-30 -7-8 -12-9 -4-1 -62 0 -6 2 -14 0 -24 8 -24-8 -14 0 -6-2 -66 1 -18 15 -8 32 2 8 1 18 6 36 3 8 5 6 8 14 3 14 2 2 0 6 2 2 0 6 2 2 0 8 2 2 0 18 -2 2 -2 18 -8 20 -1 10 -2 2 -1 8 -10 12 -3 16 -7 46 5 30 17 16 6 2 38 0 6 2 50-12 16-2 64 14zM1638 892l0-191 -6-2 -12 1 -5 2 -5 6 -4 11 -5 33 -3 78 -3 10 -3 2 -68 8 -40 8 -32 11 -10 5 -5 6 3 6 9 6 189 0z"/><path id="a1" d="M1637 82l1-1 0-93 -38 0 3 54 7 30 4 7 4 3 12 1 7-1zM617 582l43-1 15-13 2-4 0-10 4-16 -6-34 0-10 -3-16 -6-12 -1-10 -3-2 0-10 -8-20 -2-18 -2-2 0-18 2-2 0-8 2-2 0-6 2-2 5-22 11-28 7-38 0-18 2-6 -7-28 -18-15 -62 0 -4 2 -14 0 -26 8 -26-8 -14 0 -4-2 -64 0 -16 15 -7 28 2 6 0 18 6 36 7 20 3 2 0 6 2 2 5 22 2 2 0 6 2 2 0 8 2 2 0 18 -2 2 0 10 -2 2 0 6 -2 2 -4 16 -2 2 0 10 -3 2 -1 10 -6 12 -3 16 0 10 -6 34 5 28 18 15 40 0 4 2 48-12 20-2 60 14 3-1zM1638 892l0-188 -6-2 -10 0 -6 2 -5 6 -4 12 -5 40 -3 72 -3 11 -66 8 -40 7 -32 10 -10 5 -5 5 4 6 11 6 180 0z"/><path id="a0" d="M1635 80l3-2 0-90 -37 0 3 50 6 30 4 8 4 4 17 0zM615 578l43-1 15-13 0-12 2-2 0-10 2-2 -2-2 -2-26 -2-2 -2-30 -2-2 0-8 -3-2 -2-22 -8-20 -2-18 -2-2 0-18 2-2 0-8 2-2 4-22 2-2 5-24 2-2 2-18 2-2 0-12 2-2 0-10 2-2 0-22 2-2 -2-2 0-8 -2-2 -2-14 -15-13 -62 0 -2 2 -16 0 -26 10 -26-10 -16 0 -2-2 -62 0 -15 13 -2 14 -2 2 0 8 -2 2 2 2 0 22 2 2 4 34 2 2 0 8 2 2 5 24 2 2 0 6 2 2 0 6 2 2 0 6 2 2 0 8 2 2 0 18 -2 2 0 10 -2 2 0 6 -2 2 -4 16 -2 2 -2 22 -3 2 0 8 -2 2 0 14 -2 2 0 14 -2 2 -2 26 -2 2 2 2 0 10 2 2 0 12 15 13 42 0 2 2 10-4 8 0 2-2 16-2 10-4 8 0 2-2 16 0 2 2 8 0 10 4 8 0 10 4 8 0 2 2 9 1zM1638 892l0-185 -8-3 -10 1 -4 2 -5 7 -4 12 -4 40 -2 72 -3 10 -4 2 -56 5 -44 8 -30 8 -11 5 -4 4 4 6 14 6 171 0z"/><path id="a42" d="M1514 815l-14-8 -18-15 -46-52 -68 20 -94 21 -42 8 -38 3 -44-2 -58-10 -45-14 -45-20 -40-24 -34-26 -28-27 -22-27 -11-22 -12-34 -29-120 -7-12 -18-20 -5-10 -10-4 -32 0 -42 10 -48 4 -7-12 -3-7 0-9 -2-2 0-18 2-2 4-14 4-4 16 1 40 4 36 9 30 0 10-2 8-14 17-18 7-12 12-53 20-73 11-30 11-22 27-32 33-30 44-29 41-21 37-14 38-9 40-6 42-1 186 15 46 8 42 13 3-4 0-4 -12-26 3-10 12-18 96 0 3 6 -4 10 -44 78 3 22 -5 12 15 46 20 74 27 66 7 20 2 16 2 42 -1 48 -1 20 -4 22 -33 86 -21 90 7 24 -1 28 27 52 6 16 -6 12 -13 15 -16 14 -14 8zM26 734l-16 1 -22-3 0-676 24-3 20 2 22 6 24 10 24 14 44 33 22 22 20 23 27 39 21 40 16 42 21 74 6 34 11 8 -12 8 -5 28 -17 54 -23 62 -19 36 -24 34 -38 42 -42 34 -42 23 -22 8 -20 5zM436 434l-44-3 -32-7 -23-10 -9-6 -7-8 7-8 9-6 25-11 32-6 44-3 4 4 4 14 2 2 0 18 -2 2 0 9 -3 7 -7 12zM1294 402l0-4 0 4z"/><path id="a43" d="M1514 814l-16-9 -18-15 -46-55 -66 21 -88 19 -46 8 -40 3 -48-2 -48-9 -48-14 -44-20 -38-22 -34-26 -30-28 -23-29 -11-22 -10-28 -30-120 -7-12 -17-20 -6-14 -6-3 -40 0 -39 11 -51 5 -7-11 -3-8 0-8 -2-2 0-17 7-17 3-3 41 3 22 4 29 9 40 0 6-3 6-14 18-22 6-10 12-52 20-72 10-27 11-21 27-33 35-31 41-28 42-21 38-14 38-9 40-5 40-1 182 14 48 9 42 13 5-6 1-6 -14-30 14-26 96 0 2 6 -6 14 -36 63 -4 6 -4 1 5 24 -1 3 -6 4 -2 3 17 50 19 74 29 72 6 28 1 70 -3 56 -6 22 -27 72 -20 88 8 26 -1 28 27 52 6 16 -6 12 -12 15 -16 13 -14 8zM20 728l-14 0 -18-4 0-660 26-4 20 2 24 7 22 9 24 14 24 17 22 19 22 23 19 23 29 43 22 49 28 94 6 40 -8 40 -17 56 -12 34 -21 44 -28 42 -40 44 -42 33 -24 15 -22 10 -22 7 -20 3zM436 433l-42-3 -32-8 -25-12 -7-6 -1-6 14-12 24-10 30-6 41-3 3 3 7 17 0 17 -2 2 0 8 -3 8 -7 11zM1294 406l4-6 -4-7 -4 7 4 6z"/><path id="a44" d="M1518 812l-4 2 -8-4 -26-20 -36-42 -6-10 -2-8 -68 21 -84 18 -48 8 -42 3 -48-2 -46-8 -46-14 -44-19 -38-22 -34-26 -30-29 -24-30 -10-19 -10-28 -31-119 -6-10 -15-20 -6-18 -6-3 -34 3 -12-2 -40 13 -50 5 -7-10 -3-8 0-8 -2-2 0-16 7-18 3-2 45 4 21 5 26 9 12-2 32 3 6-1 3-4 5-16 20-30 34-123 9-25 11-20 28-34 34-31 40-27 43-22 39-14 40-9 40-5 44-1 178 15 50 12 42 16 -2-12 4-8 0-4 -17-30 4-10 10-16 95 0 1 6 -3 7 -34 61 -8 11 -8 2 7 25 -1 2 -10 3 -2 3 19 52 22 82 27 74 4 20 1 42 -2 70 -2 18 -30 88 -20 88 10 30 -1 28 28 53 6 15 -7 12 -11 12 -26 20zM32 720l-20 1 -24-4 0-646 28-5 20 3 22 6 22 10 24 13 22 16 22 19 40 44 30 45 22 48 12 36 14 52 5 36 -5 40 -22 74 -22 51 -28 44 -36 43 -42 36 -42 24 -22 9 -20 5zM436 432l-40-4 -28-6 -25-12 -6-6 -2-6 5-6 9-6 25-10 28-5 36-3 3 2 7 17 0 17 -2 2 0 8 -3 8 -7 10zM1294 410l6-10 -2-6 -4-5 -4 5 -2 6 2 6 4 4z"/><path id="a45" d="M1516 813l-6-1 -12-7 -27-25 -13-18 -16-18 -3-6 1-10 -2-4 -46 15 -46 12 -94 18 -56 5 -48-2 -46-8 -46-13 -44-20 -38-22 -35-27 -31-30 -22-29 -18-41 -33-118 -5-12 -13-20 -7-22 -6-2 -14 4 -18 1 -18-3 -38 14 -52 7 -7-9 -3-16 -2-2 0-16 7-18 3-1 10 0 37 5 22 6 23 10 18-3 18 1 14 4 6-2 7-24 13-19 5-11 14-54 21-67 9-23 10-18 27-34 34-31 40-27 44-23 42-15 42-9 44-4 48 0 138 12 34 5 30 7 24 8 19 9 23 14 1 0 -1-4 -12-24 5-10 -15-23 -6-13 13-24 94 0 1 6 -4 9 -38 65 -4 3 -10-1 -1 2 9 20 1 6 -9 1 -13-3 15 32 10 27 23 87 24 68 5 26 1 70 -2 56 -6 22 -24 70 -19 86 1 6 11 26 -1 30 28 50 6 16 -7 12 -10 12 -14 12 -14 9zM28 714l-18 0 -22-4 0-632 30-5 20 3 22 6 22 10 22 12 22 16 21 18 39 43 30 45 22 48 12 36 12 46 5 38 -5 42 -22 72 -22 50 -28 44 -37 42 -41 34 -42 24 -22 8 -20 4zM436 431l-38-4 -29-7 -22-12 -6-6 0-4 11-10 23-10 27-6 36-3 3 1 7 18 0 16 -2 2 0 8 -3 8 -7 9zM1297 412l6-12 -3-9 -6-6 -6 6 -3 9 5 11 4 3 3-2z"/><path id="a46" d="M1508 95l-8 0 -8-4 -9-9 -10-14 -4-8 3-4 6-1 0-3 -22-31 -4-9 1-6 11-18 93 0 1 4 -6 13 -36 60 -4 3 -16-3 -2 1 12 21 2 8zM1516 813l-4 0 -8-5 -18-13 -41-47 -4-8 2-20 -1-3 -36 13 -38 11 -112 22 -60 5 -60-3 -34-7 -32-9 -32-12 -30-15 -28-16 -28-21 -24-21 -22-24 -19-26 -11-24 -22-66 -16-60 -17-34 -6-30 6-30 17-34 18-66 28-76 10-18 17-22 40-38 24-18 25-15 26-14 28-11 28-9 30-7 60-6 44 1 124 11 44 6 34 9 26 11 24 15 18 17 14 22 12 32 21 82 23 68 5 28 1 70 -3 56 -5 22 -22 66 -20 88 16 34 -2 28 28 50 6 16 -4 10 -12 14 -14 12 -14 9zM22 708l-16-1 -18-5 0-616 32-6 18 2 22 6 22 10 22 12 42 33 38 42 30 45 23 50 12 36 9 38 6 40 -6 44 -20 67 -23 51 -29 44 -38 43 -42 33 -22 13 -22 10 -20 6 -20 3zM436 430l-38-4 -24-7 -21-11 -6-6 0-4 12-10 24-10 25-5 32-3 8 18 0 16 -2 2 -3 16 -7 8zM670 430l-6 0 -3-2 -9-24 0-16 8-18 24 1 32 7 18 6 20 11 20-5 14 2 12 4 5 4 -5 4 -12 4 -14 2 -20-5 -20 11 -17 6 -47 8zM1296 416l6-6 4-10 -4-11 -8-7 -8 7 -4 11 6 13 6 4 2-1z"/><path id="a47" d="M1514 65l-12-2 -14-7 -12-10 -14-19 -9-17 4-10 7-12 93 0 -1 7 -12 22 -30 48zM1516 812l-2 1 -8-4 -20-15 -42-48 -2-8 6-30 -40 16 -38 12 -108 20 -62 6 -60-3 -34-6 -32-9 -32-12 -30-14 -30-18 -27-20 -25-22 -20-22 -22-32 -23-56 -23-82 -15-36 -3-20 1-26 2-16 15-34 20-74 25-62 13-20 16-20 38-37 24-18 26-16 26-13 28-12 28-9 30-6 60-6 40 1 124 11 44 7 32 9 28 12 22 15 18 17 14 21 10 25 22 87 20 60 5 26 2 42 1 44 -5 52 -23 80 -23 94 9 9 10 20 -1 31 29 50 6 16 -8 12 -10 12 -14 11 -12 7zM1504 91l-8-2 -10-8 -13-17 1-3 8 1 8 5 11 15 3 6 0 3zM34 700l-20 1 -26-6 0-602 18-5 16-1 18 2 22 6 20 9 22 13 40 31 38 41 30 45 22 48 20 66 6 44 -5 44 -17 60 -22 50 -28 44 -34 40 -40 35 -40 23 -20 8 -20 4zM438 429l-28-2 -30-8 -21-11 -6-6 0-4 11-10 22-9 24-6 30-3 8 18 0 16 -2 2 -4 16 -4 7zM680 428l-18 1 -7-15 -1-8 -2-2 0-13 4-13 4-8 30 3 24 6 22 9 11 10 0 4 -3 4 -16 10 -20 7 -28 5zM1295 420l9-8 5-12 -6-14 -9-8 -9 8 -6 14 7 14 9 6zM786 404l-8 1 -10-5 12-5 12 3 1 2 -1 2 -6 2z"/><path id="a48" d="M1514 62l-12-2 -14-7 -12-11 -13-16 -9-18 11-20 91 0 -1 8 -13 23 -28 43zM1514 813l-14-8 -18-15 -38-46 1-12 10-32 -1-2 -24 13 -24 10 -30 9 -30 6 -120 19 -44 2 -44-4 -34-6 -34-10 -30-12 -32-16 -26-16 -26-20 -26-23 -21-24 -25-38 -20-52 -19-70 -14-36 -3-22 1-28 4-18 12-30 18-66 22-56 14-22 19-24 40-39 24-18 26-16 28-14 30-12 32-9 30-6 56-5 42 2 116 11 42 7 32 10 26 12 22 16 19 19 17 27 12 34 14 61 23 74 3 22 2 34 0 44 -4 52 -23 80 -15 65 -12 35 14 3 6 9 6 14 -2 29 28 48 7 17 -5 10 -12 13 -14 12 -14 8zM1498 86l-10-7 -10-14 6 2 6 4 10 13 -2 2zM1500 86l0-1 0 1zM32 694l-20-1 -24-6 0-586 20-6 16-2 18 3 20 5 22 10 20 12 40 31 38 42 28 43 22 47 18 62 6 46 -6 46 -16 57 -22 49 -27 42 -35 40 -40 33 -40 22 -20 7 -18 4zM438 428l-28-3 -27-7 -20-10 -5-6 0-4 12-10 18-8 25-6 27-3 7 17 1 16 -2 2 -4 16 -4 6zM672 428l-10 0 -4-6 -4-16 -2-2 1-16 7-17 27 3 25 6 18 8 12 10 0 4 -3 4 -17 10 -24 8 -26 4zM1297 422l10-10 5-12 -7-16 -11-9 -11 9 -7 16 4 10 6 8 6 4 5 0z"/><path id="a49" d="M1514 59l-12-1 -12-6 -12-10 -13-16 -10-18 3-8 7-12 91 0 -2 8 -16 28 -24 35zM1514 812l-14-7 -18-15 -13-14 -10-16 -13-14 -1-6 2-10 16-38 1-2 -2-2 -24 15 -24 11 -29 10 -29 7 -128 21 -40 1 -40-2 -34-6 -34-8 -32-12 -31-15 -29-17 -28-21 -26-23 -22-25 -25-38 -21-52 -18-68 -14-36 -2-22 0-28 3-16 12-30 18-64 22-56 13-22 17-22 21-22 22-20 24-18 26-16 28-14 28-11 28-9 30-6 30-4 32-2 40 2 112 11 44 7 32 10 26 13 22 15 20 20 14 23 12 30 15 65 21 70 6 42 1 54 -4 60 -23 78 -15 66 -17 44 2 1 16-4 4 1 4 6 7 16 -2 28 21 34 14 30 -5 10 -11 13 -16 13 -12 6zM42 686l-24 1 -30-7 0-572 18-5 18-3 18 2 20 6 20 8 20 11 40 32 36 39 28 42 23 48 17 54 4 26 3 24 -5 44 -14 51 -21 49 -26 42 -33 40 -36 31 -38 24 -20 8 -18 5zM438 428l-30-4 -24-7 -19-11 -3-4 0-4 12-10 18-8 22-5 26-3 7 16 1 16 -2 2 -4 16 -4 6zM662 428l-4-6 -4-16 -2-2 1-16 7-16 26 3 22 5 18 8 12 10 0 4 -3 4 -19 11 -25 7 -29 4zM1298 424l11-10 6-14 -8-18 -7-7 -6-3 -6 3 -7 7 -8 18 4 10 7 10 8 5 6-1z"/><path id="a50" d="M1514 57l-12-2 -12-6 -12-10 -12-15 -10-18 9-18 90 0 -3 9 -16 28 -22 32zM1190 750l-38-2 -36-6 -36-9 -34-13 -34-17 -31-19 -29-23 -26-26 -19-23 -16-24 -11-24 -12-34 -17-64 -14-38 -2-36 4-28 11-28 13-52 11-32 13-32 13-22 23-30 29-29 32-25 36-22 36-16 36-12 38-8 38-4 50 1 118 11 28 4 26 6 32 12 26 14 22 19 18 23 10 19 8 21 14 64 21 72 4 26 2 44 -2 70 -5 26 -19 64 -14 64 -13 31 -19 27 -26 22 -31 17 -36 13 -34 8 -104 16 -54 4zM40 680l-22 0 -30-8 0-556 20-7 18-2 16 1 20 6 20 8 20 12 38 29 36 39 28 42 23 48 15 50 7 50 -5 44 -12 48 -21 48 -27 43 -32 38 -36 32 -38 23 -20 8 -18 4zM1295 428l7-4 8-7 8-17 -3-10 -6-10 -7-7 -8-4 -8 4 -7 7 -6 10 -3 10 4 10 6 9 8 7 7 2zM438 427l-28-4 -23-7 -18-10 -3-4 0-4 9-8 17-8 22-6 26-3 7 15 1 15 -6 19 -4 5zM672 426l-10 1 -4-5 -6-19 1-15 7-15 26 3 22 6 17 8 9 8 0 4 -3 4 -13 8 -22 8 -24 4zM1518 810l-4 2 -6-2 -22-16 -18-20 -8-16 -14-14 2-12 6-17 18-31 8-9 12-10 16-7 6 1 9 19 -1 29 20 32 16 31 -3 8 -11 13 -14 12 -12 7z"/><path id="a51" d="M1514 54l-10-1 -14-7 -10-8 -12-14 -11-18 2-6 7-12 89 0 -21 38 -20 28zM1210 746l-38 0 -38-4 -38-8 -36-12 -34-15 -33-19 -31-23 -27-25 -21-24 -18-26 -11-22 -12-30 -20-74 -12-34 -2-34 3-30 11-30 13-50 10-30 13-32 12-22 23-30 28-28 30-24 35-22 33-16 36-13 38-9 38-4 32-1 32 2 116 11 34 6 44 15 34 21 14 13 12 14 10 16 8 17 8 26 11 52 18 60 6 30 3 76 -2 44 -5 26 -19 64 -12 55 -8 23 -17 30 -11 14 -14 12 -17 12 -19 10 -48 17 -114 20 -48 5zM36 674l-22-1 -26-8 0-542 20-6 20-4 16 2 20 6 38 19 38 29 34 37 29 44 21 44 15 48 6 50 -5 48 -12 44 -21 48 -27 42 -34 39 -36 30 -38 21 -18 7 -18 3zM1296 430l8-4 8-8 5-8 3-10 -3-12 -7-10 -8-8 -8-4 -8 4 -9 8 -6 10 -4 12 5 12 6 9 10 8 8 1zM438 426l-26-4 -21-6 -18-10 -3-4 0-4 9-8 18-8 21-6 22-2 7 14 1 14 -3 12 -7 12zM664 426l-2 0 -3-4 -7-20 1-14 7-14 22 2 21 6 18 8 9 8 0 4 -3 4 -15 9 -23 7 -25 4zM1516 811l-4 0 -10-5 -21-18 -15-18 -5-14 -12-10 -1-4 8-26 15-26 19-20 10-7 8-2 6 1 8 16 -1 30 23 36 13 28 -6 10 -9 10 -16 13 -10 6z"/><path id="a52" d="M1512 52l-12-3 -12-7 -20-20 -10-18 8-16 88 0 -22 39 -16 23 -4 2zM1220 742l-36 1 -34-2 -34-5 -34-9 -32-12 -32-16 -30-19 -27-20 -21-20 -18-20 -17-22 -13-22 -20-52 -16-60 -10-28 -3-14 -1-30 2-24 12-32 16-61 22-54 14-23 16-21 22-23 24-21 27-19 29-17 30-14 30-10 32-8 32-5 32-2 34 1 140 14 24 5 26 9 20 9 19 12 17 14 12 14 12 17 9 19 7 24 12 54 18 59 6 33 3 66 -2 44 -3 20 -21 76 -15 63 -10 25 -15 22 -15 16 -20 15 -24 13 -26 10 -44 11 -126 19zM46 666l-14 2 -12-1 -32-10 0-526 22-8 20-3 16 2 18 5 38 19 36 28 34 36 28 42 22 46 14 46 6 48 -5 46 -11 41 -20 46 -25 41 -31 37 -34 30 -36 22 -34 11zM1297 432l9-5 8-7 6-10 3-10 -3-11 -6-11 -10-10 -10-5 -10 5 -9 8 -7 12 -3 12 4 12 7 11 12 8 6 2 3-1zM438 425l-26-4 -21-7 -14-8 -3-4 0-4 9-8 15-7 20-5 22-3 7 13 1 14 -3 12 -7 11zM672 424l-10 1 -2-2 -8-21 1-14 7-13 22 3 20 5 15 7 9 8 -1 6 -13 9 -18 6 -22 5zM1516 811l-4 0 -10-5 -23-20 -15-20 0-10 -14-14 2-10 4-12 16-28 19-20 9-5 8-3 6 1 8 17 -2 27 20 31 16 32 -5 10 -9 10 -16 13 -10 6z"/><path id="a53" d="M1514 50l-10-2 -12-6 -11-8 -11-12 -11-18 2-6 6-10 87 0 -22 37 -18 25zM1226 738l-36 2 -34-2 -34-5 -34-8 -32-12 -32-15 -30-18 -28-21 -22-20 -20-21 -16-22 -14-23 -20-52 -27-97 -1-30 2-24 25-88 21-54 14-24 17-22 20-22 23-21 26-19 28-17 30-14 30-12 30-8 32-5 34-3 34 1 140 14 24 5 26 8 20 9 19 12 17 14 13 14 11 16 10 20 7 24 11 52 19 60 6 30 2 66 -2 44 -3 22 -21 76 -14 60 -10 24 -14 22 -17 18 -18 14 -22 12 -26 11 -42 10 -122 19zM44 660l-12 1 -12-1 -32-11 0-510 24-9 20-3 16 2 18 5 36 18 36 28 33 36 28 42 21 45 12 41 6 48 -5 48 -10 36 -19 45 -26 42 -30 36 -34 29 -36 21 -34 11zM1298 434l10-6 9-8 6-10 3-10 -3-12 -8-12 -10-10 -11-5 -10 4 -10 9 -8 12 -4 14 4 13 8 11 14 9 6 2 4-1zM438 424l-24-4 -19-6 -14-8 -3-4 0-4 9-8 13-6 22-6 18-2 3 2 4 10 1 14 -4 12 -6 10zM662 424l-6-10 -4-12 1-14 4-10 3-2 18 2 22 6 13 6 9 8 0 4 -3 4 -14 8 -19 6 -24 4zM1516 810l-2 1 -12-6 -25-21 -13-18 2-12 -13-12 4-20 15-26 18-20 10-6 8-3 6 2 6 13 -1 28 19 28 18 34 -5 10 -11 12 -12 10 -12 6z"/><path id="a54" d="M1514 47l-10-1 -12-6 -20-18 -12-20 7-14 86 0 -21 35 -18 24zM1208 736l-38 0 -36-4 -36-8 -36-12 -34-15 -32-19 -30-23 -26-25 -21-24 -17-26 -12-23 -12-33 -27-96 -2-38 4-28 30-100 12-30 16-26 23-30 26-26 32-25 34-20 34-16 34-12 36-8 36-4 62 1 114 12 32 6 42 15 32 21 24 26 10 16 8 18 6 22 11 48 18 62 6 30 3 54 -2 46 -2 22 -5 24 -17 58 -11 50 -7 22 -19 32 -25 26 -34 20 -44 16 -114 19 -46 5zM40 654l-24-2 -28-10 0-496 24-9 22-3 16 1 18 6 36 18 34 27 32 35 28 43 20 44 12 40 5 46 -7 50 -9 34 -20 44 -26 40 -31 36 -34 28 -34 19 -18 6 -16 3zM1298 436l11-6 9-8 7-10 4-12 -4-14 -8-12 -11-10 -12-5 -12 5 -10 8 -9 14 -4 14 4 14 9 12 16 10 6 1 4-1zM440 422l-19-2 -20-6 -15-8 -3-4 0-4 9-8 14-6 20-5 16-1 5 10 0 14 -7 20zM666 422l-6 0 -7-20 1-14 4-10 16 1 20 5 14 6 9 8 1 2 -2 4 -12 8 -17 6 -21 4zM1516 810l-6 0 -10-6 -24-22 -11-16 3-14 -13-12 5-20 15-24 17-18 8-5 8-2 6 2 5 11 0 28 21 32 15 30 -6 10 -11 12 -22 14z"/><path id="a55" d="M1514 45l-10-1 -12-6 -20-18 -11-18 6-14 86 0 -21 33 -18 24zM1218 732l-34 1 -34-2 -34-6 -32-8 -32-13 -30-14 -28-18 -26-20 -22-20 -19-22 -17-23 -14-25 -20-53 -20-71 -3-16 0-30 2-24 24-88 21-50 16-26 17-22 23-23 24-21 26-18 28-16 30-13 30-10 30-7 32-5 30-1 32 1 136 14 23 5 23 8 20 9 18 12 15 13 13 14 11 18 9 18 7 22 10 50 19 60 6 36 2 62 -2 40 -3 22 -20 74 -14 58 -11 25 -14 22 -16 16 -19 15 -22 12 -25 10 -40 9 -126 19zM50 646l-14 2 -14-2 -34-12 0-480 26-10 22-4 14 2 18 5 36 18 34 27 30 34 27 40 20 44 11 38 5 44 -6 48 -8 32 -18 42 -23 38 -28 34 -32 28 -34 21 -32 11zM1298 438l14-8 9-8 7-10 4-12 -4-14 -8-12 -12-11 -14-7 -14 6 -11 10 -9 14 -4 14 5 16 10 12 17 10 6 1 4-1zM440 422l-20-4 -18-6 -12-8 -3-4 1-2 7-6 12-6 35-8 4 10 1 14 -7 20zM670 420l-10 2 -4-8 -3-18 1-8 4-10 35 8 12 6 7 6 1 2 -3 4 -8 6 -15 6 -17 4zM1514 811l-22-13 -21-22 -5-10 5-14 -11-10 -2-4 6-20 10-17 16-18 14-8 8 1 4 5 2 7 -1 24 21 30 17 32 -6 10 -11 11 -16 12 -8 4z"/><path id="a56" d="M1514 43l-10-2 -10-4 -10-7 -10-10 -12-20 6-12 84 0 -38 55zM1224 728l-34 2 -34-2 -34-5 -32-8 -32-12 -30-14 -28-17 -27-20 -23-21 -20-22 -17-23 -15-26 -19-52 -22-84 -1-30 2-26 22-82 11-30 11-22 14-24 17-22 21-23 24-21 25-18 27-16 28-13 30-11 30-8 32-5 32-2 32 1 138 14 22 5 22 7 20 9 18 12 16 13 12 14 11 16 9 18 7 24 10 48 19 60 6 32 2 62 -1 42 -3 22 -21 76 -14 56 -10 24 -13 21 -16 17 -18 14 -21 12 -25 10 -38 9 -122 19zM48 640l-12 1 -14-2 -34-13 0-464 26-11 24-4 16 2 16 5 34 17 32 26 30 33 26 39 20 43 11 36 4 44 -5 48 -8 30 -18 41 -24 39 -28 34 -32 27 -32 19 -32 10zM1298 440l14-7 11-9 8-12 4-12 -4-14 -9-14 -14-12 -14-6 -14 5 -13 11 -9 14 -5 16 5 16 10 12 18 11 8 2 4-1zM440 420l-18-3 -16-6 -11-7 -2-4 0-2 7-6 13-6 29-6 4 8 1 14 -3 12 -4 6zM660 420l-7-18 1-14 4-8 29 6 13 6 7 6 0 2 -2 4 -11 7 -16 6 -18 3zM1514 811l-22-14 -20-21 -5-10 6-16 -12-12 6-20 11-18 14-15 12-5 8 1 4 5 0 28 18 24 20 36 -5 10 -9 9 -12 10 -14 8z"/><path id="a57" d="M1514 41l-8-1 -12-5 -18-15 -13-20 5-12 84 0 -38 53zM1206 726l-36 0 -36-4 -36-8 -34-12 -32-15 -32-19 -29-22 -25-24 -22-26 -16-26 -13-26 -13-34 -21-84 -1-38 4-30 26-90 13-30 17-28 23-28 27-27 30-23 34-20 32-15 34-11 34-7 36-4 58 1 112 12 30 5 38 14 32 21 23 26 17 32 15 66 19 62 7 32 2 52 -1 46 -8 42 -17 58 -11 48 -7 22 -18 30 -25 25 -32 19 -40 14 -114 20 -44 4zM46 634l-12 0 -14-3 -32-13 0-448 28-12 24-4 14 1 16 5 34 17 32 26 30 33 24 38 20 43 9 33 5 44 -6 48 -8 28 -18 41 -24 38 -28 32 -30 26 -32 18 -16 6 -16 3zM1298 442l16-8 12-10 8-12 4-12 -5-16 -9-13 -14-12 -16-7 -16 6 -13 10 -9 14 -6 18 6 17 10 13 20 11 8 2 4-1zM1124 436l0-71 0 73 0-2zM440 419l-16-4 -15-5 -9-6 -2-4 1-2 15-10 28-7 4 7 1 14 -4 12 -3 5zM664 418l-4 1 -3-5 -4-12 1-14 4-7 28 7 15 10 0 4 -9 7 -28 9zM1514 810l-22-13 -20-21 -4-8 8-18 0-4 -10-6 -2-4 8-20 10-16 12-11 12-5 6 2 4 4 -2 24 18 23 22 37 -2 6 -12 13 -12 10 -14 7z"/><path id="a58" d="M1514 39l-8-1 -12-5 -18-15 -12-18 0-4 4-8 83 0 -37 51zM1216 722l-34 1 -32-2 -32-6 -32-9 -30-11 -30-15 -26-16 -26-20 -22-21 -20-23 -16-22 -14-26 -10-23 -10-31 -15-58 -3-20 -1-30 2-24 22-80 9-25 13-27 15-24 18-22 21-22 24-20 25-18 28-15 28-13 30-10 30-7 32-4 58 0 134 14 22 5 20 7 19 9 17 11 15 13 12 14 10 16 8 16 7 22 10 48 19 62 7 34 1 60 -1 38 -4 22 -21 74 -13 56 -10 24 -14 20 -15 16 -18 14 -21 11 -24 10 -34 8 -128 19zM54 626l-14 2 -16-3 -18-6 -18-9 0-432 28-13 26-5 14 2 16 5 32 16 30 24 28 31 25 38 19 41 10 33 4 42 -5 46 -7 28 -17 38 -22 36 -26 32 -29 26 -30 18 -30 10zM1124 490l4-84 -4-96 -3 104 3 76zM1298 444l16-8 14-11 8-11 4-14 -4-16 -9-14 -15-12 -18-8 -16 5 -14 11 -11 16 -6 18 5 16 11 14 21 12 10 3 4-1zM440 417l-14-3 -15-6 -7-6 0-4 16-10 22-5 4 6 1 13 -4 12 -3 3zM666 416l-6 1 -2-2 -5-13 1-13 4-6 22 5 16 10 0 4 -7 6 -23 8zM1514 810l-14-7 -12-9 -14-16 -5-10 11-24 -13-8 2-8 9-16 9-12 10-8 9-3 6 1 3 2 -3 24 8 7 12 16 21 37 -6 10 -9 9 -16 12 -8 3z"/><path id="a59" d="M1514 36l-18-4 -18-14 -14-20 5-10 82 0 -37 48zM1222 718l-34 2 -32-2 -32-5 -32-8 -30-11 -30-14 -28-18 -25-18 -21-20 -20-22 -18-24 -14-24 -10-23 -11-31 -18-76 -1-30 2-26 21-80 9-24 13-26 13-22 16-21 20-21 22-20 24-18 28-17 28-13 30-11 30-7 30-5 30-2 32 1 134 14 22 4 20 7 19 9 17 11 16 13 12 14 10 16 7 16 7 22 10 46 19 62 7 32 1 60 -1 40 -3 20 -22 76 -12 54 -10 22 -13 21 -14 15 -18 14 -20 12 -24 9 -34 8 -122 19zM54 620l-14 1 -16-3 -18-7 -18-10 0-414 30-15 26-5 28 6 32 16 30 24 27 31 24 36 18 40 10 32 3 40 -5 46 -6 26 -17 38 -21 34 -25 31 -28 25 -30 18 -30 10zM1125 492l6-68 0-28 -4-74 -3-15 -3 21 -3 88 3 64 2 10 1 3 1-1zM1298 446l18-9 14-11 9-12 4-14 -5-18 -10-14 -16-12 -18-8 -18 6 -16 12 -10 16 -5 18 5 18 12 14 22 13 10 2 4-1zM442 415l-6 0 -16-5 -9-6 -2-4 0-2 11-8 22-6 4 6 1 10 -5 15zM666 414l-8 1 -5-13 1-12 4-6 22 6 9 6 2 4 -7 7 -18 7zM1518 809l-4 1 -4-1 -18-12 -13-13 -9-14 4-10 11-18 0-2 -7-1 -8-5 1-4 8-14 11-13 10-7 8-3 4 1 1 2 -4 22 1 2 6 1 8 9 29 46 -5 8 -8 9 -22 16z"/><path id="a60" d="M1514 34l-18-5 -18-13 -13-18 4-10 81 0 -36 46zM1202 716l-38-1 -38-5 -36-9 -36-14 -34-18 -32-22 -28-25 -24-28 -22-32 -17-36 -11-35 -14-57 -2-28 1-32 15-66 10-31 15-33 17-27 20-26 24-24 28-22 30-19 32-16 30-11 30-8 30-5 32-2 48 3 108 11 30 6 28 10 23 14 21 18 15 20 15 32 12 56 23 76 3 22 2 40 -2 62 -6 28 -18 60 -10 46 -12 30 -16 24 -22 21 -28 16 -24 10 -26 6 -106 17 -40 4zM50 614l-12 0 -16-4 -16-7 -18-10 0-398 30-15 28-6 28 6 30 15 30 25 26 29 24 37 17 38 8 30 4 40 -6 46 -6 24 -17 37 -22 35 -26 30 -28 24 -30 17 -28 7zM1124 496l3-6 2-14 5-76 -5-76 -2-14 -3-6 -3 6 -2 20 -3 86 3 60 3 16 2 4zM1298 448l20-10 16-12 8-12 4-14 -5-18 -10-14 -18-14 -19-8 -19 6 -16 12 -11 16 -6 20 5 18 11 14 24 14 10 3 6-1zM442 414l-21-6 -7-6 0-4 12-8 16-5 4 5 0 10 -4 14zM660 414l-2 0 -4-12 0-10 4-7 16 5 12 8 0 4 -4 4 -22 8zM1518 808l-4 2 -4-2 -20-13 -16-17 -4-8 8-15 14-19 -2-1 -8 1 -8-4 0-2 16-23 10-7 8-3 2 0 0 3 -2 14 -4 10 10-2 4 3 14 18 21 33 -5 8 -8 9 -22 15z"/><path id="a61" d="M1514 32l-18-5 -16-11 -14-19 3-9 81 0 -36 44zM1214 712l-32 1 -30-2 -32-6 -30-8 -30-11 -28-14 -26-16 -26-20 -21-20 -19-22 -16-23 -14-25 -12-26 -8-26 -13-52 -3-22 -1-28 2-26 19-74 11-28 12-24 15-23 16-21 20-21 24-20 26-18 26-15 28-13 30-9 30-7 30-4 56 0 132 14 38 11 18 8 16 11 14 12 11 13 10 16 8 16 6 20 9 46 21 64 6 32 1 58 -1 36 -3 22 -22 72 -13 56 -9 22 -14 20 -14 15 -17 13 -19 11 -22 8 -32 8 -96 15 -32 4zM60 606l-14 2 -18-4 -20-8 -20-11 0-382 30-16 28-7 26 5 30 15 28 22 27 30 22 34 18 38 9 30 3 38 -5 44 -6 24 -14 34 -20 32 -24 30 -26 23 -28 18 -26 9zM1125 498l4-8 3-18 5-50 0-26 -6-74 -3-16 -4-5 -5 9 -2 20 -4 90 5 60 3 16 3 3 1-1zM1298 450l20-10 17-12 9-12 5-16 -5-18 -12-16 -18-14 -20-8 -20 6 -17 12 -12 18 -6 20 6 20 12 14 23 13 12 4 6-1zM442 413l-20-7 -4-4 0-4 12-8 14-3 2 15 -4 11zM662 412l-4 1 -4-11 0-10 1-4 3-1 16 5 9 8 -5 6 -16 6zM1492 730l-6 2 -8-4 14-18 14-9 1 3 -5 16 -10 10zM1518 808l-4 2 -4-2 -18-12 -13-12 -8-12 7-14 14-18 12-12 10-4 14 16 24 36 -1 4 -11 13 -22 15z"/><path id="a62" d="M1514 30l-18-5 -16-11 -13-18 3-8 79 0 -35 42zM1220 708l-32 1 -30-1 -32-5 -30-8 -30-10 -28-14 -26-15 -26-20 -22-20 -20-22 -16-22 -14-24 -11-26 -11-30 -14-66 -1-28 1-28 16-68 10-28 13-26 14-24 17-22 20-22 22-19 24-18 26-15 28-13 28-10 30-8 30-4 28-2 30 1 132 14 38 10 18 8 16 11 14 11 12 14 17 30 6 20 10 48 20 62 6 30 1 58 -1 38 -3 20 -22 74 -12 54 -10 22 -12 19 -14 15 -16 12 -18 11 -22 8 -32 8 -122 19zM58 600l-14 1 -18-5 -19-8 -19-12 0-364 32-18 28-7 26 5 28 14 28 22 25 28 22 34 17 36 8 28 4 38 -5 42 -6 24 -15 34 -19 32 -23 28 -26 23 -28 17 -26 8zM1127 500l4-12 3-20 5-46 1-30 -7-72 -4-16 -5-6 -5 8 -4 22 -4 94 3 42 3 22 4 14 3 2 3-2zM1298 452l21-10 19-14 9-12 5-16 -5-18 -11-16 -20-15 -22-9 -20 6 -18 12 -13 18 -7 22 6 20 12 15 26 14 12 4 6-1zM442 412l-16-6 -4-4 0-4 8-6 14-4 2 14 -4 10zM658 412l-4-10 2-14 14 4 8 6 0 4 -4 4 -16 6zM1488 724l-3-2 2-2 9-9 5-3 -5 12 -8 4zM1518 808l-4 1 -4-1 -20-13 -11-11 -7-12 8-14 12-16 12-11 10-5 12 13 26 37 -1 4 -11 13 -22 15z"/><path id="a63" d="M1514 28l-16-4 -16-10 -14-18 2-8 79 0 -13 17 -22 23zM1198 706l-36-1 -36-5 -36-10 -34-14 -32-17 -30-21 -27-24 -23-26 -21-32 -17-34 -13-38 -10-44 -3-30 1-32 3-24 10-42 11-32 15-31 17-27 20-26 25-24 26-21 30-18 30-15 28-10 30-7 30-5 30-2 36 2 110 12 36 6 26 10 22 14 18 16 15 20 12 28 11 54 18 52 7 28 3 20 1 38 -2 58 -7 32 -18 58 -10 46 -11 26 -16 24 -21 19 -27 15 -21 8 -24 5 -104 17 -42 4zM56 594l-14-1 -18-5 -18-9 -18-12 0-346 32-19 16-6 14-2 24 4 28 14 27 22 25 28 21 32 16 36 8 26 3 38 -5 42 -6 22 -14 32 -20 32 -23 27 -26 23 -26 15 -26 7zM1126 504l5-10 5-22 6-50 1-28 -8-74 -5-18 -6-7 -4 3 -3 6 -5 24 -3 96 2 40 3 22 6 16 4 3 2-1zM1298 454l22-11 20-14 10-13 5-16 -6-20 -11-15 -20-15 -24-10 -22 6 -18 12 -14 19 -7 23 6 20 13 16 26 15 14 4 6-1zM442 411l-12-5 -5-6 5-6 14-5 2 13 -4 9zM660 410l-2 1 -4-9 2-13 14 5 5 6 -5 6 -10 4zM1516 809l-10-3 -16-11 -11-11 -6-10 6-12 13-17 12-11 10-5 30 35 8 14 -12 14 -24 17z"/><path id="a64" d="M1512 26l-16-5 -14-9 -13-16 -1-4 2-4 78 0 -16 20 -18 18 -2 0zM1212 702l-30 1 -30-3 -30-5 -30-8 -28-11 -28-14 -26-16 -24-19 -20-19 -19-22 -16-22 -13-24 -12-27 -9-29 -9-38 -4-26 0-28 2-28 7-34 8-30 10-26 13-26 15-24 18-22 21-22 22-19 24-16 27-15 27-12 28-9 30-7 30-4 52 1 130 14 36 11 17 8 15 10 23 24 15 28 6 20 9 44 21 66 6 30 1 54 -1 36 -3 20 -22 74 -13 54 -9 22 -12 18 -14 14 -15 12 -18 10 -20 7 -30 7 -96 16 -32 4zM64 586l-16 1 -20-5 -20-10 -20-14 0-328 32-21 16-6 16-3 24 5 26 13 26 21 24 27 20 31 16 35 7 24 3 36 -2 24 -7 38 -13 30 -18 30 -21 26 -23 21 -26 17 -24 8zM1127 506l7-12 5-22 6-50 1-30 -9-74 -6-18 -3-5 -4-3 -4 3 -4 7 -6 24 -3 100 2 38 4 24 7 17 4 3 3-2zM1297 456l23-10 22-16 11-14 5-16 -6-20 -12-16 -22-16 -24-10 -24 7 -19 13 -14 20 -7 22 7 22 13 16 27 14 13 4 7 0zM442 409l-8-3 -5-6 5-6 10-4 2 12 -4 7zM660 409l-2 0 -4-7 2-12 10 4 5 6 -2 4 -9 5zM1516 809l-9-3 -17-12 -10-10 -6-10 8-14 12-15 12-10 8-4 28 31 10 16 -12 14 -24 17z"/><path id="a65" d="M1516 22l-4 2 -8-2 -18-9 -16-17 -1-4 2-4 77 0 -16 20 -16 14zM1218 698l-30 1 -30-1 -30-5 -30-8 -28-10 -26-12 -26-16 -24-17 -22-20 -19-22 -16-22 -14-24 -12-26 -10-28 -8-34 -5-28 -1-28 2-28 5-30 8-32 10-28 13-26 14-24 17-22 19-20 22-20 23-17 26-15 26-12 28-10 28-7 30-4 28-2 28 1 130 14 36 10 30 16 24 24 16 28 6 20 9 44 19 58 8 36 1 54 -1 38 -2 18 -23 76 -12 52 -8 20 -12 18 -13 14 -15 12 -17 10 -20 8 -28 7 -124 19zM62 580l-14 0 -20-5 -20-11 -20-15 0-310 17-13 17-10 16-6 16-3 22 4 26 13 25 20 23 26 20 31 15 33 6 24 4 34 -3 26 -7 36 -13 29 -18 29 -20 25 -24 21 -24 15 -24 7zM1126 510l8-10 6-24 8-52 1-28 -1-22 -9-56 -7-21 -4-6 -4-1 -4 1 -5 7 -7 26 -3 102 2 38 3 24 8 18 4 4 4 0zM1297 458l26-12 23-16 11-16 4-14 -6-20 -13-17 -24-17 -24-10 -26 8 -19 12 -17 24 -6 20 7 20 14 18 11 8 16 7 16 5 7 0zM442 408l-7-4 -3-4 3-4 9-5 1 11 -3 6zM660 407l-2 1 -3-6 1-11 9 5 3 4 -8 7zM1516 808l-5 0 -13-7 -15-13 -8-12 4-10 13-16 12-11 10-6 26 27 11 18 -13 16 -22 14z"/><path id="a66" d="M1514 23l-16-5 -14-8 -12-14 -2-4 1-4 76 0 -15 19 -18 16zM1224 694l-30 2 -30-1 -30-4 -28-7 -28-9 -28-13 -26-15 -24-17 -22-19 -19-21 -17-22 -14-23 -12-25 -10-28 -8-28 -6-32 -2-28 1-28 4-26 8-32 9-28 12-27 14-25 16-22 18-21 22-20 24-18 24-15 26-13 28-10 28-8 28-4 30-3 30 1 128 14 36 9 30 16 24 22 9 14 8 16 6 20 8 42 19 58 8 34 2 54 -1 38 -3 18 -6 26 -17 50 -11 52 -8 19 -10 17 -13 14 -15 12 -16 10 -20 8 -28 7 -118 19zM60 574l-16-2 -18-6 -20-12 -18-15 0-290 16-14 18-11 18-7 16-3 22 4 26 14 24 19 21 25 19 29 14 32 6 21 3 36 -5 40 -5 20 -13 29 -17 27 -21 25 -24 20 -24 13 -22 6zM1128 512l9-14 6-24 8-50 0-32 -1-22 -9-56 -8-20 -5-6 -4-1 -6 3 -5 8 -7 26 -3 108 2 36 4 24 9 18 4 3 6-1zM1297 460l23-10 26-17 16-15 7-18 -5-18 -10-12 -28-22 -18-9 -14-5 -26 7 -20 12 -14 13 -7 10 -5 12 -3 12 3 12 4 10 7 8 13 11 28 14 16 5 7 0zM442 406l-6-6 8-7 1 9 -3 4zM658 406l-3-4 1-9 8 7 -6 6zM1516 808l-5 0 -13-8 -15-12 -8-12 2-6 15-18 12-11 10-5 24 23 13 19 -13 16 -22 14z"/><path id="a67" d="M1516 20l-2 2 -8-3 -20-10 -13-13 -2-4 0-4 76 0 -15 18 -16 14zM1208 692l-36 0 -34-4 -34-8 -34-12 -32-16 -28-19 -26-21 -24-26 -21-28 -16-30 -13-34 -9-34 -6-34 -1-34 3-32 7-36 11-32 13-30 16-27 19-25 23-23 26-22 28-18 30-15 28-10 28-8 28-4 30-2 42 2 54 7 56 5 24 4 30 12 23 16 19 22 13 26 12 58 19 56 8 34 2 48 -1 42 -6 36 -18 56 -10 46 -7 20 -14 25 -20 20 -26 16 -30 10 -112 19 -34 4zM68 566l-16 1 -22-7 -22-13 -20-17 0-272 18-15 18-12 18-8 16-3 22 5 22 11 22 18 22 24 18 28 14 30 6 22 4 34 -2 22 -8 36 -11 26 -15 25 -18 23 -22 20 -22 14 -22 8zM1125 516l5-2 6-8 8-24 9-56 1-30 -1-24 -10-58 -9-22 -5-6 -5-2 -6 2 -6 8 -8 26 -3 110 1 36 4 24 9 20 5 5 5 1zM1296 462l26-11 40-25 9-10 5-16 -5-18 -11-14 -38-24 -28-12 -28 8 -32 18 -16 20 -6 22 6 20 12 15 38 20 18 6 10 1zM444 402l-2 1 -2-3 4-5 0 7zM658 403l-2-1 0-7 4 5 -2 3zM1516 808l-8-2 -16-10 -10-10 -7-10 5-9 10-11 12-11 12-7 20 17 17 23 -5 8 -8 8 -22 14z"/><path id="a68" d="M1514 21l-14-6 -14-8 -12-12 -2-7 74 0 -16 19 -16 14zM1216 688l-34 1 -28-2 -30-5 -28-8 -30-12 -28-14 -26-17 -23-19 -18-18 -17-21 -24-39 0-30 -13-44 -8-52 -1-26 4-34 15-54 3-28 14-25 22-29 19-20 21-18 24-17 24-14 26-11 29-10 27-6 29-4 51 0 126 14 34 9 28 16 22 22 14 27 6 18 7 42 20 58 8 34 -1 9 -66 6 -40 5 -14-10 -18-8 -22-13 -26-11 -18 4 -40 15 -20 18 -60-2 -2-4 -7-43 -9-24 -6-9 -6-4 -6 1 -7 6 -7 16 -5 24 -2 132 2 20 5 16 7 16 7 6 6 1 4-2 5-5 6-12 6-18 7-43 2-4 34-1 26-4 15 12 15 4 28 13 20 5 22-8 60-33 46 10 58 6 1 9 -4 20 -21 66 -12 54 -12 25 -17 21 -25 18 -32 12 -142 24zM68 560l-16 0 -22-8 -22-14 -20-18 0-252 17-16 19-13 18-8 18-4 22 5 22 12 22 18 19 22 17 26 13 30 6 20 3 32 -2 20 -7 36 -10 24 -15 25 -18 23 -22 20 -22 13 -20 7zM1516 808l-8-2 -16-10 -10-10 -7-10 5-8 12-13 12-10 10-5 20 16 16 22 -3 6 -9 10 -22 14z"/><path id="a69" d="M1516 19l-2 1 -6-2 -20-11 -12-11 -4-8 74 0 -14 17 -16 14zM1372 360l-4 1 -28-11 -26-14 -20-8 -68 19 -17-13 -14-16 -11-20 -8-22 -3-26 2-30 6-24 10-20 14-18 17-15 22-12 24-8 76 7 26 7 22 10 18 14 15 17 10 18 7 20 10 54 -2 14 -13 28 -17 21 -22 17 -26 10zM64 554l-18-3 -20-9 -20-15 -18-18 0-230 18-18 18-14 20-10 18-3 20 4 22 12 20 16 20 23 16 26 12 27 5 20 3 32 -2 22 -7 34 -11 24 -16 24 -18 22 -20 17 -22 12 -20 5zM1032 516l-20 2 -20-3 -20-8 -16-12 -15-17 -10-18 -6-22 -6-28 0-26 4-30 5-20 9-18 13-17 16-14 18-9 20-5 26 0 14 4 14 6 24 19 11 14 6 10 -3 146 -12 16 -16 14 -18 11 -18 5zM1280 674l-30-7 -30-15 -22-18 -17-24 -10-28 -4-34 4-34 10-28 19-26 22-16 26 6 26 11 20 5 20-7 32-18 24-8 16 4 16 7 17 12 16 18 12 22 7 24 -10 56 -11 28 -9 15 -12 13 -16 12 -16 9 -32 10 -68 11zM1514 808l-10-4 -14-10 -13-14 -1-4 16-20 12-10 10-5 10 6 12 12 10 13 4 8 -12 14 -14 10 -10 4z"/><path id="a70" d="M1514 19l-12-4 -14-10 -10-9 -5-8 72 0 -15 18 -16 13zM1364 354l-26-8 -26-13 -18-7 -16 3 -22 8 -26 2 -16-13 -15-18 -9-20 -6-20 -2-28 3-24 6-20 10-18 13-16 18-14 26-13 28-7 58 6 24 6 22 10 18 14 16 19 12 27 9 44 -1 14 -5 18 -12 24 -17 20 -22 15 -24 9zM74 546l-18 1 -24-10 -24-17 -20-22 0-208 18-20 18-14 20-11 18-4 18 3 22 11 20 16 18 20 16 24 12 27 5 18 4 32 -2 20 -7 34 -8 19 -12 21 -17 22 -19 18 -20 13 -18 7zM1026 508l-20 1 -18-4 -16-8 -16-13 -13-16 -8-16 -6-24 -4-24 0-24 4-26 6-18 8-16 13-16 16-13 18-8 18-4 14 0 14 3 14 5 12 8 12 10 11 13 10 16 2 8 -1 60 -2 53 -12 19 -16 16 -20 12 -20 6zM1308 666l-10 1 -18-2 -32-8 -26-15 -22-20 -13-22 -8-26 -2-34 4-28 7-18 9-16 13-14 16-13 24 3 26 10 18 4 20-7 30-16 26-6 20 8 18 11 16 16 11 18 9 22 3 24 -7 40 -7 18 -9 17 -13 15 -15 12 -16 9 -20 8 -52 9zM1514 808l-10-4 -14-10 -13-14 -1-4 6-9 12-12 20-13 20 15 12 15 4 8 -12 14 -14 10 -10 4z"/><path id="a71" d="M1514 18l-10-3 -12-8 -11-9 -7-10 70 0 -14 17 -16 13zM1366 348l-4 1 -26-6 -25-13 -17-6 -36 10 -24 1 -16-13 -11-14 -10-18 -6-20 -3-22 2-26 5-20 9-18 12-16 16-13 22-12 28-8 16-2 40 3 26 6 22 10 18 13 15 17 12 22 6 28 3 22 -6 28 -10 22 -14 18 -20 15 -24 11zM72 540l-18-1 -24-11 -22-18 -20-24 0-184 18-22 20-17 20-11 20-5 18 4 20 11 19 16 17 20 15 24 11 24 4 16 3 30 -1 18 -7 34 -9 20 -12 21 -16 20 -18 17 -20 12 -18 6zM1028 502l-18 1 -18-3 -18-9 -14-11 -12-14 -7-14 -8-24 -3-22 0-22 3-26 6-18 8-16 13-16 14-12 16-7 18-4 14 0 14 3 14 6 12 8 12 11 10 13 8 16 3 10 -2 84 -4 16 -11 18 -14 15 -18 11 -18 6zM1326 660l-14 2 -26-2 -20-4 -20-7 -18-10 -14-11 -11-12 -10-16 -7-18 -3-20 -1-24 3-20 6-18 9-16 12-14 16-13 24 0 26 10 16 3 18-6 30-16 24-5 20 8 18 12 15 15 12 18 8 24 3 28 -7 34 -12 26 -17 20 -22 15 -26 11 -32 6zM1518 806l-6 1 -14-7 -14-12 -7-10 3-7 12-14 12-9 10-5 20 15 12 15 3 7 -11 14 -20 12z"/><path id="a72" d="M1516 16l-2 1 -6-1 -14-8 -12-10 -8-10 70 0 -12 14 -16 14zM1362 345l-28-6 -24-11 -16-6 -34 9 -24-1 -15-12 -11-14 -10-18 -5-20 -2-24 2-22 6-20 9-16 11-14 15-12 22-12 26-7 24-2 30 3 24 5 22 10 18 13 16 18 11 24 6 28 -1 22 -5 22 -11 22 -14 17 -20 14 -22 10zM70 534l-20-4 -22-12 -22-20 -18-25 0-158 18-25 20-18 22-13 20-5 18 4 18 10 18 15 16 19 14 22 11 24 4 16 3 30 -2 18 -7 32 -9 20 -12 19 -16 20 -18 15 -18 11 -18 5zM1024 498l-18 0 -16-4 -16-8 -14-12 -10-14 -7-14 -6-22 -3-22 0-20 4-24 4-16 9-16 11-14 15-12 15-7 18-4 14 1 14 3 12 6 12 9 12 12 9 14 6 14 4 14 -1 61 -3 17 -5 12 -12 18 -14 13 -16 10 -18 5zM1328 656l-22 1 -22-2 -18-3 -18-7 -16-9 -14-11 -12-13 -8-14 -7-18 -4-18 0-22 3-20 6-18 9-16 11-13 14-12 24-1 24 9 16 3 18-6 28-14 24-5 20 8 17 11 14 14 11 18 9 26 2 30 -6 28 -10 22 -16 20 -21 15 -26 11 -30 6zM1518 806l-6 1 -14-7 -14-12 -7-10 4-8 11-12 12-9 10-6 20 16 12 15 3 6 -11 13 -20 13z"/><path id="a73" d="M1514 17l-10-4 -12-7 -17-18 68 0 -13 16 -16 13zM1362 340l-6 1 -24-5 -38-16 -30 8 -24-1 -13-9 -12-14 -10-18 -6-18 -2-20 1-24 5-18 8-16 11-15 14-12 20-11 24-8 28-3 26 2 24 5 22 9 19 13 14 16 12 22 6 26 -1 24 -4 22 -10 20 -14 17 -18 13 -22 10zM78 526l-10 1 -10-1 -14-6 -12-8 -24-23 -20-30 0-130 16-25 20-22 22-15 22-6 16 3 18 9 18 15 16 18 13 20 10 22 4 16 3 28 -2 18 -7 32 -15 32 -14 18 -16 16 -18 12 -16 6zM1024 494l-16 0 -16-3 -16-9 -12-10 -10-13 -7-15 -7-22 -2-20 0-20 4-24 5-16 7-14 12-14 14-11 14-7 16-3 16 1 14 5 14 8 13 11 10 14 8 16 4 14 2 20 0 20 -3 22 -5 18 -6 14 -10 14 -13 11 -14 8 -16 5zM1332 652l-42 0 -18-3 -18-6 -16-8 -14-10 -12-13 -10-14 -6-16 -4-18 -1-22 3-20 5-16 8-16 11-13 14-12 24-2 38 11 16-5 28-14 24-5 18 8 18 11 13 13 11 16 9 26 2 28 -4 24 -10 24 -15 20 -20 15 -24 11 -28 6zM1518 806l-6 1 -14-7 -14-12 -7-10 5-8 10-11 12-10 10-5 20 16 10 12 4 8 -10 13 -20 13z"/><path id="a74" d="M1516 15l-6 0 -14-7 -12-10 -9-10 67 0 -11 14 -15 13zM1362 336l-6 2 -26-5 -36-14 -28 6 -24-1 -12-9 -12-13 -9-16 -6-18 -2-20 1-22 5-18 7-16 11-14 13-12 18-10 22-7 24-4 28 1 24 4 22 9 18 11 15 16 11 20 6 22 1 26 -4 22 -9 20 -14 17 -18 14 -20 9zM76 520l-10 0 -14-4 -14-8 -12-10 -23-28 -11-18 -4-13 0-93 4-9 16-27 20-22 22-15 20-6 16 4 16 8 16 13 16 18 12 20 9 20 4 14 3 28 -1 18 -7 30 -6 15 -10 17 -14 18 -16 15 -16 10 -16 5zM1024 490l-16 1 -14-4 -15-7 -13-11 -10-13 -6-14 -6-20 -3-20 1-20 3-22 5-16 7-14 11-13 12-10 14-6 16-4 14 1 14 4 14 8 12 11 10 13 8 16 5 32 0 18 -2 20 -5 20 -6 14 -10 13 -12 11 -14 8 -14 4zM1332 648l-42 0 -18-3 -18-6 -14-7 -14-11 -11-11 -9-14 -7-16 -3-18 -1-22 3-18 5-16 8-14 11-14 12-10 24-2 36 10 16-6 26-12 24-4 18 7 16 10 13 13 11 16 9 24 2 28 -3 22 -9 24 -15 19 -20 15 -24 11 -26 5zM1516 807l-8-2 -12-7 -12-10 -6-10 5-8 11-12 20-13 20 16 14 19 0 2 -10 11 -22 14z"/><path id="a75" d="M1514 15l-20-9 -10-8 -8-10 65 0 -11 14 -16 13zM1356 334l-30-5 -32-12 -26 5 -24-1 -12-9 -12-14 -9-16 -5-18 -1-20 1-20 5-16 8-16 11-14 12-10 20-10 22-7 24-2 28 1 22 5 20 9 17 12 13 15 10 19 5 20 0 26 -5 22 -9 18 -13 16 -18 13 -22 9zM74 514l-16-3 -16-9 -16-14 -14-16 -10-16 -6-14 -6-48 3-40 7-18 11-18 13-16 16-15 16-9 16-4 16 3 16 9 16 14 13 16 11 18 9 20 6 40 -2 16 -7 30 -6 14 -10 17 -14 17 -16 14 -16 9 -14 3zM1024 486l-16 1 -14-4 -14-7 -12-10 -8-12 -7-14 -5-20 -3-18 0-18 3-22 4-14 7-14 11-14 12-9 14-7 14-3 14 1 14 4 12 7 12 11 9 12 7 14 5 32 0 18 -2 18 -4 20 -7 14 -8 12 -12 11 -12 7 -14 4zM1334 644l-42 0 -34-8 -14-6 -14-10 -12-12 -8-12 -7-16 -3-16 -1-20 2-18 4-16 8-14 11-14 12-10 24-3 34 9 16-6 22-10 26-5 17 7 16 10 13 12 10 14 9 22 2 24 -2 26 -8 22 -15 20 -18 14 -24 11 -24 5zM1516 806l-6 0 -14-8 -18-18 4-8 10-11 12-10 10-5 21 16 9 12 4 8 -10 11 -22 13z"/><path id="a76" d="M1514 14l-20-9 -17-17 63 0 -13 16 -13 10zM1356 330l-6 1 -26-5 -30-11 -24 4 -24-1 -12-9 -11-13 -8-16 -5-16 -2-18 1-20 5-16 7-14 10-14 13-11 18-10 22-6 24-3 28 2 20 4 20 9 16 11 13 14 9 18 5 20 0 24 -4 22 -9 18 -14 16 -16 12 -20 8zM82 506l-14 1 -16-7 -16-12 -15-16 -11-16 -6-14 -7-46 3-40 6-16 9-16 15-18 14-13 16-9 14-3 14 3 14 7 14 11 14 17 11 17 8 18 6 38 -1 16 -7 28 -12 26 -12 16 -13 13 -14 10 -14 5zM1026 482l-14 2 -14-3 -14-7 -12-9 -8-11 -6-12 -6-20 -3-18 -1-18 3-22 5-16 6-12 10-13 12-9 12-6 14-3 14 0 12 4 12 7 10 9 8 11 8 14 5 30 -1 34 -4 20 -6 14 -8 12 -10 10 -12 8 -12 4zM1338 640l-40 1 -34-6 -15-7 -13-8 -12-11 -10-13 -7-16 -4-16 -1-20 2-18 5-16 8-14 10-12 12-10 23-2 32 8 38-15 26-4 16 6 14 9 12 11 10 13 8 20 4 22 -2 26 -7 22 -12 18 -17 15 -22 11 -24 6zM1516 806l-6-1 -14-7 -10-8 -8-10 4-8 10-10 12-10 10-5 20 15 13 20 -9 11 -22 13z"/><path id="a77" d="M1516 12l-6 0 -12-5 -12-9 -9-10 62 0 -15 18 -8 6zM1350 328l-28-5 -28-10 -22 4 -24-2 -12-10 -11-13 -7-14 -5-16 -1-20 1-18 5-14 7-14 10-12 13-11 18-9 22-6 24-2 26 1 20 5 18 9 15 11 12 14 9 18 4 20 -1 24 -5 20 -8 16 -14 15 -18 12 -20 7zM82 500l-12 0 -16-7 -14-11 -15-16 -9-14 -5-12 -7-46 3-38 6-14 9-15 12-15 14-13 14-8 14-4 14 4 13 7 13 11 13 15 10 16 7 16 5 36 -1 16 -7 28 -11 23 -12 16 -12 12 -14 9 -12 4zM1016 480l-14-1 -12-5 -11-8 -10-10 -7-12 -5-14 -5-34 1-18 3-20 5-12 7-12 8-10 12-9 12-5 14-2 14 2 12 5 12 9 9 10 7 12 4 12 5 34 -2 18 -4 20 -5 14 -5 10 -9 10 -12 9 -12 5 -12 2zM1322 638l-36-2 -30-8 -24-16 -10-11 -8-13 -5-14 -3-16 0-18 2-16 5-14 7-12 10-12 12-9 24-2 28 6 34-13 28-4 18 7 14 10 13 13 9 14 7 22 1 26 -4 22 -10 20 -15 16 -19 13 -22 7 -26 4zM1514 806l-12-5 -12-8 -11-13 3-7 10-10 12-10 10-5 19 14 13 20 -5 8 -9 8 -18 8z"/><path id="a78" d="M1514 13l-20-10 -16-15 60 0 -15 18 -9 7zM1350 324l-32-5 -24-8 -18 3 -26-2 -12-10 -10-12 -7-14 -4-14 -2-18 2-18 4-14 7-14 10-12 12-10 18-9 20-6 22-2 26 2 20 4 18 9 14 10 12 14 8 16 4 20 0 22 -5 20 -8 16 -13 14 -16 11 -20 7zM78 494l-12-3 -14-8 -13-11 -11-14 -10-20 -7-44 3-36 13-26 12-16 13-11 14-8 12-3 12 3 14 8 12 10 12 15 14 28 6 36 -2 16 -7 26 -11 22 -12 15 -12 10 -14 8 -12 3zM1020 476l-12 0 -12-3 -12-7 -10-10 -12-22 -7-34 4-36 9-24 9-12 11-9 12-5 12-3 12 2 12 4 11 7 9 10 12 22 5 32 -3 30 -4 18 -6 12 -8 11 -10 9 -10 5 -12 3zM1328 634l-36 0 -30-8 -24-14 -10-10 -9-12 -6-14 -3-14 -1-18 2-16 4-14 7-12 9-12 12-10 25-2 26 5 32-12 28-4 16 6 14 9 12 12 9 12 7 20 3 24 -3 22 -8 20 -13 16 -17 12 -22 10 -24 4zM1514 806l-12-5 -12-8 -11-13 5-8 8-9 12-9 10-5 18 13 10 14 4 8 -14 14 -18 8z"/><path id="a79" d="M1516 11l-6 0 -12-6 -12-9 -8-8 59 0 -21 23zM1352 320l-6 2 -14-2 -38-11 -16 2 -26-2 -18-17 -8-12 -5-14 -2-16 0-18 3-14 6-14 9-12 11-10 16-10 20-6 22-3 24 0 20 4 17 7 15 9 12 13 10 16 4 18 1 22 -4 20 -8 16 -12 14 -15 11 -18 7zM86 486l-10 1 -14-6 -13-9 -12-14 -11-20 -7-42 2-36 12-24 10-14 13-11 12-7 12-3 12 3 12 7 12 10 10 13 12 24 6 34 -1 14 -5 21 -10 24 -20 23 -12 8 -10 4zM1022 472l-12 1 -12-3 -11-6 -9-9 -12-21 -5-18 -2-16 3-34 9-24 9-12 10-8 10-5 12-2 12 1 10 4 10 6 10 10 10 20 5 30 -2 30 -9 29 -6 9 -10 9 -10 6 -10 3zM1332 630l-36 1 -30-7 -25-14 -18-20 -6-14 -3-14 -1-16 1-16 4-14 7-12 9-12 10-8 26-3 24 4 30-11 28-4 15 6 13 8 12 10 9 12 7 18 3 22 -2 22 -7 20 -12 16 -16 12 -20 9 -22 5zM1518 805l-6 0 -16-7 -16-16 2-6 8-10 14-11 10-5 17 12 14 22 -13 14 -14 7z"/><path id="a80" d="M1514 11l-18-8 -17-15 57 0 -22 23zM1346 318l-22-3 -30-8 -16 1 -24-2 -12-10 -8-10 -7-12 -4-14 -1-16 1-16 4-14 7-12 8-10 12-10 16-8 20-6 20-2 24 1 20 5 16 7 14 11 10 12 7 14 4 18 0 22 -4 18 -9 15 -12 13 -16 10 -18 6zM86 480l-10 0 -12-6 -12-9 -11-13 -8-16 -7-42 3-34 9-20 10-13 12-11 12-6 10-3 10 3 12 7 10 9 10 12 12 24 5 32 -6 30 -10 24 -19 22 -10 6 -10 4zM1024 468l-12 1 -10-1 -10-5 -10-8 -7-9 -5-12 -7-30 1-32 8-26 7-10 9-8 10-6 12-3 10 0 11 3 9 5 9 9 12 20 4 26 0 28 -9 31 -13 17 -9 6 -10 4zM1336 626l-36 1 -30-5 -24-13 -10-8 -8-11 -7-12 -4-14 -1-16 1-16 4-14 7-12 8-11 11-9 25-3 22 4 26-9 30-5 14 5 13 8 11 9 8 11 8 16 4 20 -1 22 -7 20 -11 16 -15 12 -18 9 -20 5zM1518 805l-6 0 -16-7 -15-16 3-8 10-10 10-8 10-5 16 12 15 21 -7 9 -20 12z"/><path id="a81" d="M1516 8l-4 2 -12-5 -12-8 -9-9 56 0 -19 20zM1348 314l-12 1 -42-10 -36-1 -9-6 -9-10 -8-12 -5-14 -1-14 0-16 3-12 5-12 8-11 10-9 16-10 18-6 20-2 22 0 18 3 18 7 14 9 10 11 9 14 5 18 0 20 -4 18 -7 14 -11 13 -14 10 -18 7zM84 474l-10-2 -10-6 -17-18 -6-14 -8-40 3-32 8-18 9-12 11-10 10-6 10-2 10 3 10 6 18 19 10 20 5 32 -6 30 -11 24 -18 19 -10 5 -8 2zM1016 466l-10-1 -9-3 -9-6 -7-8 -11-24 -4-28 3-30 9-22 8-10 8-6 10-5 10-1 10 1 10 5 16 15 9 19 4 30 -4 28 -9 24 -8 10 -7 6 -9 4 -10 2zM1322 624l-32-1 -26-7 -21-14 -15-18 -8-24 0-16 1-14 4-12 7-12 18-18 26-2 18 3 24-8 30-5 15 6 13 8 11 10 9 12 7 18 1 22 -3 20 -8 16 -12 14 -17 12 -20 7 -22 3zM1518 804l-6 1 -16-7 -9-8 -6-8 5-8 8-9 12-9 8-4 15 12 15 20 -6 9 -20 11z"/><path id="a82" d="M1514 8l-16-5 -18-15 54 0 -20 20zM1342 312l-12-1 -36-8 -34-2 -10-7 -10-12 -7-12 -3-12 -1-16 2-14 3-12 6-10 8-10 10-8 15-8 17-5 20-2 22 1 18 4 16 7 12 9 10 12 7 14 4 16 -1 20 -4 16 -9 14 -11 11 -14 9 -18 6zM90 467l-8 0 -10-4 -10-8 -8-9 -6-14 -8-38 4-32 6-14 8-11 10-9 10-6 8-1 8 2 10 6 16 17 8 18 5 30 -4 22 -10 26 -13 16 -16 9zM1020 462l-10 0 -8-2 -8-4 -8-8 -11-20 -6-28 3-30 7-22 7-9 8-7 8-4 10-3 10 1 8 3 8 6 8 8 8 17 5 28 -2 26 -9 26 -12 15 -16 7zM1328 620l-32 0 -26-6 -22-12 -16-18 -5-12 -3-12 1-28 3-12 6-11 8-10 10-8 26-2 16 2 20-7 32-5 14 5 13 8 11 10 8 10 7 16 2 20 -2 20 -7 16 -11 14 -15 11 -18 7 -20 4zM1518 804l-6 1 -12-5 -10-7 -8-9 2-6 8-9 12-10 10-5 14 10 16 22 -12 11 -14 7z"/><path id="a83" d="M1514 7l-16-5 -17-14 52 0 -19 19zM1342 308l-8 1 -40-8 -32-3 -10-7 -8-9 -6-10 -4-12 -1-28 8-22 8-10 9-8 14-8 16-5 18-2 22 0 16 3 16 6 14 9 10 11 8 14 3 16 0 18 -4 16 -9 14 -10 10 -14 9 -16 5zM90 460l-7 0 -8-4 -14-14 -11-30 -3-18 4-30 5-12 14-17 8-5 8-3 8 2 8 4 16 17 7 16 5 28 -4 20 -10 25 -12 14 -14 7zM1022 458l-16 0 -8-4 -8-6 -11-20 -6-26 1-28 8-24 6-8 8-7 16-6 16 3 14 12 9 16 4 26 -1 24 -8 26 -10 14 -14 8zM1332 616l-32 1 -26-5 -22-11 -16-17 -8-22 0-28 8-22 8-10 10-8 24-2 16 1 26-7 24-4 14 5 12 7 10 8 8 10 7 16 2 16 -1 20 -6 16 -10 14 -13 10 -17 8 -18 4zM1516 805l-6-1 -14-7 -13-13 3-7 8-9 20-13 12 9 17 22 -11 11 -16 8z"/><path id="a84" d="M1514 5l-18-5 -15-12 51 0 -18 17zM1336 306l-42-8 -30-3 -12-9 -8-10 -5-10 -2-12 1-26 9-20 17-16 14-6 16-5 20-1 20 1 16 5 14 6 12 10 8 10 6 14 2 14 -1 18 -5 14 -8 12 -12 10 -14 8 -16 4zM1022 454l-8 2 -8-2 -14-9 -10-19 -6-24 2-26 6-22 12-15 8-5 8-2 8 1 8 3 12 11 8 15 4 24 -1 24 -7 22 -9 14 -13 8zM96 452l-6 2 -6-1 -8-5 -6-6 -10-23 -5-23 3-28 4-12 12-15 14-7 6 1 8 4 12 13 7 16 5 24 -2 18 -9 22 -8 12 -11 8zM1334 612l-30 2 -26-5 -22-10 -16-16 -6-11 -3-12 0-26 9-21 16-16 18-2 20 0 46-10 14 4 12 7 10 8 8 9 7 13 3 16 -1 18 -5 16 -10 14 -11 10 -15 7 -18 5zM1516 804l-6 0 -14-7 -7-5 -6-8 11-14 20-13 12 9 17 20 -4 6 -7 5 -16 7z"/><clipPath id="ac"><rect x="-1" y="-1" width="815.0" height="442.0"/></clipPath><g id="aq" clip-path="url(#ac)"><rect x="-2" y="-2" width="817.5" height="444.5" fill="#fff"/><g transform="scale(0.5)"><use href="#a41" fill="#f7f7ff"/><use href="#a40" fill="#f2f2fe"/><use href="#a39" fill="#ededfe"/><use href="#a38" fill="#e8e8fe"/><use href="#a37" fill="#e3e3fd"/><use href="#a36" fill="#ddddfd"/><use href="#a35" fill="#d8d8fd"/><use href="#a34" fill="#d3d3fc"/><use href="#a33" fill="#cecefc"/><use href="#a32" fill="#c8c8fc"/><use href="#a31" fill="#c3c3fb"/><use href="#a30" fill="#bdbdfb"/><use href="#a29" fill="#b8b8fb"/><use href="#a28" fill="#b3b3fb"/><use href="#a27" fill="#adadfa"/><use href="#a26" fill="#a8a8fa"/><use href="#a25" fill="#a2a2fa"/><use href="#a24" fill="#9c9cf9"/><use href="#a23" fill="#9797f9"/><use href="#a22" fill="#9191f9"/><use href="#a21" fill="#8b8bf8"/><use href="#a20" fill="#8585f8"/><use href="#a19" fill="#7f7ff7"/><use href="#a18" fill="#7979f7"/><use href="#a17" fill="#7373f7"/><use href="#a16" fill="#6d6df6"/><use href="#a15" fill="#6666f6"/><use href="#a14" fill="#6060f6"/><use href="#a13" fill="#5a5af5"/><use href="#a12" fill="#5353f5"/><use href="#a11" fill="#4c4cf4"/><use href="#a10" fill="#4646f4"/><use href="#a9" fill="#3f3ff4"/><use href="#a8" fill="#3838f3"/><use href="#a7" fill="#3131f3"/><use href="#a6" fill="#2a2af2"/><use href="#a5" fill="#2222f2"/><use href="#a4" fill="#1b1bf2"/><use href="#a3" fill="#1313f1"/><use href="#a2" fill="#0c0cf1"/><use href="#a1" fill="#0404f0"/><use href="#a0" fill="#0000f0"/><use href="#a42" fill="#fffcfc"/><use href="#a43" fill="#fef7f7"/><use href="#a44" fill="#fdf2f2"/><use href="#a45" fill="#fceded"/><use href="#a46" fill="#fbe8e8"/><use href="#a47" fill="#fbe3e3"/><use href="#a48" fill="#fadddd"/><use href="#a49" fill="#f9d8d8"/><use href="#a50" fill="#f8d3d3"/><use href="#a51" fill="#f7cece"/><use href="#a52" fill="#f6c8c8"/><use href="#a53" fill="#f6c3c3"/><use href="#a54" fill="#f5bdbd"/><use href="#a55" fill="#f4b8b8"/><use href="#a56" fill="#f3b3b3"/><use href="#a57" fill="#f2adad"/><use href="#a58" fill="#f1a8a8"/><use href="#a59" fill="#f0a2a2"/><use href="#a60" fill="#f09c9c"/><use href="#a61" fill="#ef9797"/><use href="#a62" fill="#ee9191"/><use href="#a63" fill="#ed8b8b"/><use href="#a64" fill="#ec8585"/><use href="#a65" fill="#eb7f7f"/><use href="#a66" fill="#ea7979"/><use href="#a67" fill="#e97373"/><use href="#a68" fill="#e86d6d"/><use href="#a69" fill="#e76666"/><use href="#a70" fill="#e66060"/><use href="#a71" fill="#e55a5a"/><use href="#a72" fill="#e45353"/><use href="#a73" fill="#e34c4c"/><use href="#a74" fill="#e24646"/><use href="#a75" fill="#e13f3f"/><use href="#a76" fill="#e03838"/><use href="#a77" fill="#df3131"/><use href="#a78" fill="#de2a2a"/><use href="#a79" fill="#dc2222"/><use href="#a80" fill="#db1b1b"/><use href="#a81" fill="#da1313"/><use href="#a82" fill="#d90c0c"/><use href="#a83" fill="#d80404"/><use href="#a84" fill="#d70000"/><g fill="none" stroke="#3a3a3a" stroke-width="3.2"><use href="#a36"/><use href="#a30"/><use href="#a24"/><use href="#a18"/><use href="#a12"/><use href="#a6"/><use href="#a0"/><use href="#a42"/><use href="#a48"/><use href="#a54"/><use href="#a60"/><use href="#a66"/><use href="#a72"/><use href="#a78"/><use href="#a84"/></g></g><path d="M214 160 C219 178 219 214 214 236 L229 230 C234 214 235 184 229 166 Z" fill="url(#hl)" opacity="0.8"/><path d="M336 160 C331 178 331 214 336 236 L321 230 C316 214 315 184 321 166 Z" fill="url(#hr)" opacity="0.8"/><path d="M266 172 L275.5 170.5 L285 172 L289 176 L292.5 186 L301 189 L309 192 L310 200 L306.5 205.5 L291.5 211.5 L286.5 215.5 L275.5 218.5 L264 216 L258.5 210 L245 203.5 L241 200 L242 192 L250 189 L258.5 186 L262 176 Z" fill="url(#bg1)" stroke="#030303" stroke-width="4.6" stroke-linejoin="round"/><path d="M783 -2 L797 -2 L796 9 L789 15 L783 12 Z" fill="#000" opacity="0.9"/><path d="M591 184 L596 172 L606 163 L616 171 L623 184 Z" fill="#2c2438" opacity="0.72"/><path d="M589 183 L578 186 L571 200 L574 214 L589 221 Z" fill="#2c2438" opacity="0.66"/><ellipse cx="607" cy="225.5" rx="9" ry="4.5" fill="#d62020"/><rect x="588.75" y="183.75" width="34.5" height="35.7" fill="url(#sgl)" stroke="#050005" stroke-width="4.5"/><rect x="591" y="186" width="30" height="31.2" fill="url(#sg)"/><path d="M736 407 Q760 398 787 396 L791 424 Q765 429 741 427 Z" fill="#1a0e18" opacity="0.75"/><path d="M783 384 L795 386 L797 412 L783 412 Z" fill="#000" opacity="0.9"/><rect x="783" y="411" width="40" height="40" fill="#000"/><rect x="788" y="421.5" width="35" height="30" fill="url(#cg)"/></g><path id="b41" d="M1638 892l0-904 -80 0 3 8 -7 16 -38 70 -2 2 -6 1 -14-4 -14-12 -18-22 -14-23 -2-6 0-4 15-26 -1473 0 0 61 24-3 22 3 30 10 30 15 28 18 28 24 26 26 24 30 27 42 21 45 16 49 14 52 4 28 2 2 10 3 18 2 8-2 22-13 24-8 38-6 44-1 4 7 1 26 -1 24 -5 12 -3 1 -42-2 -35-5 -25-8 -22-13 -8-3 -20 2 -10 4 -6 28 -14 51 -22 60 -27 49 -37 48 -24 24 -24 21 -24 17 -26 15 -26 11 -24 6 -18 2 -22-3 0 153 1650 0zM1516 814l-4 0 -12-6 -25-22 -16-20 -23-35 -151 51 -41 9 -40 4 -50 0 -52-8 -50-15 -48-20 -41-24 -37-28 -32-31 -26-32 -12-23 -11-32 -27-116 -5-10 -17-20 -5-10 -7-4 -26 0 -49 10 -55 2 -5-6 -2-8 0-26 1-23 4-6 18 0 46 4 42 9 24 0 7-2 8-14 15-18 5-10 18-74 13-50 12-31 12-21 32-37 40-35 44-29 48-22 40-14 42-8 42-4 42 0 64 8 94 19 46 11 32 14 24 14 20 15 12 13 12 18 36 102 39 85 7 30 2 68 -2 40 -3 16 -8 24 -36 84 -21 72 1 36 37 72 5 16 -6 12 -12 14 -15 14 -14 8z"/><path id="b40" d="M1638 892l0-904 -79 0 3 8 -5 12 -39 74 -4 6 -4 0 -12-2 -16-13 -20-23 -15-24 -3-8 1-4 16-26 -1473 0 0 54 22-3 26 4 28 10 30 15 28 18 28 23 26 27 24 29 28 43 22 46 16 50 15 56 5 26 10 4 18 1 32-14 22-7 36-5 44-1 4 8 2 26 -2 25 -5 11 -3 2 -44-2 -32-4 -24-7 -30-14 -18 1 -11 4 -5 24 -18 61 -21 55 -26 48 -37 48 -24 25 -24 21 -24 17 -26 15 -26 11 -26 8 -20 2 -20-3 0 146 530 0 -10-8 0-6 4-4 16-8 24-2 24 3 16 7 4 4 0 6 -10 8 1052 0zM1516 815l-4 0 -10-6 -23-19 -16-18 -27-38 -34 13 -116 38 -44 10 -40 5 -50-1 -52-8 -50-15 -48-20 -40-24 -36-26 -34-32 -26-32 -12-23 -10-26 -15-59 -15-68 -7-12 -15-16 -6-11 -8-3 -20 0 -44 9 -58 3 -7-8 -2-8 -1-28 2-21 4-7 12 0 52 3 42 9 20 0 8-3 6-11 18-20 5-10 13-63 16-61 12-30 14-24 30-36 38-33 44-29 46-23 42-14 42-10 42-5 44 0 46 5 50 8 106 24 24 10 32 18 27 19 11 12 14 22 10 20 28 82 34 70 8 27 4 24 3 35 -1 46 -6 45 -45 105 -11 32 -9 38 0 32 36 72 5 16 -7 12 -11 14 -16 14 -14 9z"/><path id="b39" d="M1638 892l0-904 -79 0 4 8 -5 12 -40 78 -4 5 -4 1 -14-5 -12-8 -21-25 -16-26 -4-10 8-16 9-14 -1472 0 0 47 22-2 26 4 28 9 30 15 28 19 28 23 26 26 24 29 29 44 21 44 16 46 24 92 10 3 14 1 34-14 24-6 34-4 42-1 4 9 2 26 -2 25 -5 11 -3 3 -40-1 -32-4 -24-6 -34-14 -16 1 -10 3 -24 86 -22 59 -26 47 -36 46 -24 25 -24 21 -24 18 -26 15 -26 12 -26 8 -22 2 -20-2 0 139 492 0 -4-8 1-8 4-8 9-8 12-6 16-5 34-4 34 4 16 5 12 6 9 8 4 8 1 8 -4 8 1014 0zM1518 814l-4 2 -8-4 -24-19 -17-17 -18-26 -11-13 -34 14 -116 38 -44 10 -42 5 -52-2 -52-8 -52-15 -48-22 -38-22 -36-27 -32-30 -26-32 -14-26 -14-38 -26-116 -5-10 -14-14 -7-12 -8-4 -18-1 -44 9 -58 3 -7-9 -2-18 1-38 4-9 63 3 43 9 18-1 6-2 9-14 15-16 5-10 17-81 10-37 14-36 16-29 30-35 38-33 44-29 46-23 40-14 42-10 42-5 42-1 44 3 42 7 94 20 30 7 12 5 70 44 14 18 22 40 25 69 31 66 11 32 6 28 4 40 0 28 -2 36 -5 28 -8 28 -22 45 -18 41 -19 68 1 24 36 74 5 14 -6 12 -11 14 -16 15 -14 9z"/><path id="b38" d="M1638 892l0-904 -79 0 4 8 -1 6 -44 88 -6 5 -16-3 28 57 20 55 24 51 13 33 12 42 7 54 -3 56 -8 42 -13 38 -31 64 -21 68 0 22 37 76 4 14 -6 12 -13 16 -16 15 -16 9 -16-9 -20-17 -13-14 -18-26 -11-11 -33 15 -107 36 -46 12 -42 6 -48 0 -52-7 -50-13 -48-19 -42-23 -40-28 -36-32 -29-34 -16-30 -16-46 -23-108 -6-10 -22-27 -6-3 -16-1 -50 9 -52 2 -7-10 -2-18 1-38 4-10 56 2 50 9 16-1 6-4 22-26 5-10 23-105 16-45 18-34 24-30 32-30 36-27 38-22 54-24 52-15 56-7 58 0 70 10 118 27 14 7 49 33 9 4 -1-4 -24-34 -7-16 7-16 11-16 -1472 0 0 40 22-2 26 4 28 10 30 15 28 19 28 23 26 26 24 28 29 43 21 43 18 53 26 92 12 3 10 0 34-13 32-7 66-3 4 10 2 26 -3 28 -7 12 -42-1 -30-4 -24-6 -34-12 -12 0 -10 3 -26 89 -22 59 -26 46 -36 47 -24 25 -24 21 -26 19 -26 15 -26 12 -26 8 -22 3 -20-2 0 132 458 0 -2-12 3-12 9-12 13-10 17-8 20-7 22-4 24-1 24 1 22 4 20 7 17 8 13 10 9 12 3 12 -2 12 980 0z"/><path id="b37" d="M1638 892l0-441 -30-2 -8 3 -22 66 -12 30 -17 34 -23 65 -1 25 41 90 -12 22 -24 23 -16 9 -14-7 -30-27 -24-32 -10-9 -32 16 -126 42 -52 11 -50 3 -38-3 -38-6 -38-10 -36-13 -34-16 -34-20 -32-23 -28-24 -34-37 -17-29 -21-59 -22-105 -6-10 -22-26 -6-2 -14-1 -42 7 -42 2 -16 0 -4-4 -5-14 -1-22 2-26 4-10 48 1 56 8 14-1 6-2 23-28 7-16 20-96 15-44 11-23 11-19 31-36 40-35 48-32 52-26 63-25 -1109 0 0 32 22-1 26 5 28 10 30 15 28 19 28 22 26 26 24 28 29 42 21 42 18 51 15 57 14 44 13 2 10-1 31-11 32-6 63-3 2 1 4 10 2 26 -2 28 -8 12 -42 0 -32-4 -25-6 -31-11 -10 0 -9 3 -30 100 -20 52 -25 44 -36 47 -24 25 -24 22 -26 19 -26 15 -28 13 -26 8 -24 4 -18-1 0 124 426 0 -1-16 4-14 11-15 16-13 22-11 24-8 28-5 32-2 30 1 30 5 26 8 22 11 17 13 11 14 5 16 -1 16 948 0zM1465 64l-18-26 -8-16 6-14 13-20 -22 0 4 8 -1 10 -4 8 -11 12 -1 4 6 8 13 12 18 13 4 2 1-1zM1619 336l19-4 0-344 -78 0 4 8 -1 6 -43 88 -6 8 -12-2 -1 2 23 48 21 56 30 66 21 60 6 8 17 0z"/><path id="b36" d="M1638 892l0-419 -30-2 -8 0 -4 3 -24 63 -23 51 -22 60 -1 23 33 69 8 22 -6 12 -9 13 -24 22 -14 8 -16-9 -31-28 -21-29 -8-8 -34 17 -128 43 -56 12 -52 2 -58-7 -35-8 -32-10 -54-24 -25-14 -30-20 -30-24 -22-22 -21-24 -11-17 -13-29 -13-40 -24-110 -8-13 -19-21 -5-3 -12-1 -46 7 -46 2 -8 0 -4-5 -5-14 -1-24 1-24 5-11 48 1 62 8 11-4 19-21 6-9 4-10 25-112 16-42 15-30 20-26 30-30 28-23 59-43 4-6 6-16 6-10 -1023 0 0 25 20-1 28 6 28 10 28 14 28 18 30 24 26 26 24 27 30 43 21 40 17 49 18 67 14 42 10 2 10-1 30-10 32-6 64-2 3 1 4 10 1 26 -2 28 -8 13 -62-2 -32-6 -32-11 -10-1 -10 3 -14 40 -20 70 -18 46 -24 43 -36 46 -24 26 -24 21 -26 20 -27 16 -25 12 -28 9 -24 5 -20-1 0 117 393 0 0-20 7-19 14-17 20-15 22-11 30-9 34-6 42-4 42 3 35 6 31 9 23 11 21 16 14 17 7 19 0 20 915 0zM1625 314l13-2 0-324 -78 0 5 10 -6 14 -38 80 -7 8 -8 0 -1 4 19 40 23 60 26 56 19 48 6 6 27 0z"/><path id="b35" d="M1638 892l0-406 -38-1 -4 1 -4 5 -21 53 -22 48 -21 55 -2 9 1 14 31 66 10 24 -5 12 -10 14 -25 23 -14 8 -16-9 -29-26 -24-32 -7-6 -34 19 -128 44 -29 7 -26 4 -55 2 -62-8 -62-17 -58-26 -54-34 -28-22 -25-25 -19-22 -14-22 -21-58 -26-116 -4-10 -7-8 -16-17 -10-3 -56 7 -48 1 -8-12 -2-18 1-38 5-11 48 0 62 7 8-3 22-25 7-16 25-112 15-42 11-22 13-20 65-72 3-8 -4-18 0-14 3-14 7-14 -949 0 0 18 24 0 32 8 32 13 34 20 46 36 44 47 31 44 21 40 20 57 16 65 15 40 9 2 8-1 28-9 34-6 64-2 3 2 4 10 1 26 -2 28 -8 14 -62-2 -33-6 -31-10 -8 0 -8 2 -16 40 -21 74 -17 44 -23 42 -37 48 -24 25 -26 24 -26 19 -26 16 -28 13 -26 9 -24 4 -20 0 0 110 367 0 0-22 8-22 17-21 24-18 26-11 32-9 32-5 56-6 58 6 32 5 34 9 26 11 24 18 17 21 9 22 0 22 888 0zM1633 300l5 0 0-312 -78 0 5 10 -4 12 -37 80 -8 11 -8 3 0 2 17 38 24 62 41 90 4 3 6 1 33 0z"/><path id="b34" d="M1638 892l0-395 -40 0 -4 1 -4 4 -38 86 -23 60 -1 20 32 69 8 23 -5 12 -11 16 -26 23 -12 6 -20-11 -28-26 -26-34 -36 20 -122 43 -62 12 -30 2 -30 0 -62-8 -62-18 -58-26 -30-18 -26-18 -26-21 -26-26 -15-18 -14-24 -9-20 -10-31 -28-125 -9-16 -19-18 -8-3 -54 7 -48 1 -8-13 -2-18 1-38 5-11 4-2 38 1 66 7 6-3 15-14 12-16 31-133 17-43 33-62 0-6 -14-40 -3-20 1-22 8-20 -878 0 0 10 22 1 30 6 30 12 32 18 26 18 24 20 24 23 23 26 32 44 22 42 19 53 19 75 16 38 13 1 30-9 30-4 66-3 4 3 3 10 1 26 -2 28 -8 15 -64-3 -32-5 -30-9 -13 2 -15 36 -18 66 -23 60 -22 40 -36 48 -25 26 -26 24 -26 19 -26 16 -28 14 -26 9 -26 6 -20 0 0 102 338 0 1-26 10-24 17-22 26-20 24-10 34-8 38-6 74-8 104 12 40 8 28 11 27 19 18 22 6 12 5 14 0 26 860 0zM1638 288l0-300 -77 0 5 10 -2 8 -37 80 -9 16 -7 6 0 4 15 32 25 64 37 77 4 3 12 1 34-1z"/><path id="b33" d="M1638 892l0-385 -32 0 -16 2 -6 10 -36 81 -19 50 -1 14 34 75 7 21 -8 16 -13 16 -18 16 -16 10 -16-9 -20-17 -14-14 -19-26 -5-5 -38 22 -106 38 -36 10 -38 7 -32 3 -34 0 -38-4 -54-12 -52-17 -34-16 -50-26 -40-16 -14-8 -10-9 -8-10 -5-11 -5-26 -25-68 -28-130 -7-15 -22-22 -6-2 -56 5 -46 1 -8-13 -1-8 0-48 3-10 4-3 44 0 62 6 23-21 9-16 29-128 21-56 2-14 -3-12 -13-24 -38-58 -7-26 1-22 -796 0 0 1 28 2 24 6 26 10 30 16 24 16 28 22 26 24 24 27 33 44 22 42 19 53 22 85 16 36 10 1 28-8 32-4 66-3 4 4 3 10 1 26 -2 29 -8 15 -64-3 -32-4 -30-9 -10 2 -16 36 -20 73 -23 61 -22 40 -34 44 -23 25 -26 23 -26 21 -28 17 -28 14 -28 11 -26 5 -20 1 0 93 308 0 0-14 2-14 4-14 7-14 20-26 29-21 20-8 26-6 146-16 152 16 26 5 20 7 30 21 11 12 10 14 7 14 4 14 1 14 -1 16 828 0zM1638 278l0-290 -77 0 5 10 -1 8 -35 78 -16 26 0 4 38 93 32 66 4 3 10 2 40 0z"/><path id="b32" d="M257 892l0-18 2-16 6-18 12-20 14-18 17-15 20-15 16-8 6-2 76 1 124-13 132 13 38-1 28-4 11 2 9-7 28-36 25-39 9-20 0-14 -12-40 -29-132 -5-12 -10-10 -16-13 -60 4 -42 1 -8-14 -2-30 1-26 3-10 4-4 46 1 56 5 6-3 22-22 6-15 28-126 14-44 0-12 -7-16 -13-23 -16-21 -44-42 -20-15 -22-12 -32-14 -38-11 -587 0 25 11 24 14 44 32 40 39 37 46 16 26 15 30 18 55 24 93 18 36 6 1 28-7 28-4 62-2 8 0 4 4 3 10 0 48 -1 8 -8 14 -65-2 -31-4 -28-7 -8 1 -18 34 -22 83 -17 51 -10 22 -14 26 -18 26 -19 24 -28 29 -46 38 -46 28 -24 10 -24 8 -20 4 -18 1 0 78 269 0zM1638 268l0-280 -77 0 6 10 -1 8 -32 74 -18 30 0 6 38 93 28 55 4 2 14 2 38 0zM1638 892l0-375 -22 0 -26 2 -6 5 -30 64 -24 62 -1 16 13 24 28 68 -5 12 -11 16 -24 23 -16 9 -12-6 -30-25 -28-36 -4-2 -36 22 -120 43 -66 15 -73 9 -5 4 -9 14 -20 36 527 0z"/><path id="b31" d="M1638 258l0-270 -76 0 6 12 -1 6 -31 72 -18 34 0 6 36 88 24 46 6 4 14 2 40 0zM700 752l35-6 17-12 16-14 23-26 17-24 13-26 0-14 -34-156 -5-12 -20-20 -8-4 -58 4 -40 0 -8-13 -2-31 1-26 3-10 4-5 40 0 62 5 6-4 18-18 7-16 25-116 11-38 0-14 -4-12 -12-22 -14-20 -15-17 -22-20 -34-23 -18-9 -20-6 -36-5 -64-1 -34 3 -34-4 -66 0 -32 3 -34 11 -20 11 -20 14 -26 23 -18 20 -15 22 -12 24 -9 28 -1 16 35 141 6 14 14 20 4 1 26-5 36-4 62-2 4 5 3 10 1 26 -2 30 -7 14 -3 1 -58-2 -36-4 -26-5 -4 0 -2 1 -13 19 -7 14 -34 130 1 18 12 34 16 30 19 24 30 29 26 18 12-1 30 5 24 0 78-5 40-5 46 6 74 4 30-1zM1638 892l0-366 -38 1 -16 4 -26 50 -26 67 -2 8 0 8 14 28 22 51 5 15 -6 12 -11 16 -20 20 -20 13 -10-5 -30-24 -32-40 -38 24 -124 44 -51 16 -8 6 -10 14 -6 14 -3 12 2 12 434 0z"/><path id="b30" d="M1638 248l0-260 -76 0 6 12 0 6 -30 72 -16 30 -2 6 1 6 33 83 20 38 8 5 16 3 40 1 0-2zM669 746l47-7 30-19 28-27 15-17 15-24 9-22 1-12 -2-13 -28-131 -7-14 -15-15 -10-5 -62 3 -34 0 -8-13 -3-32 2-26 2-10 5-6 40 1 58 3 10-5 16-17 7-16 29-134 1-18 -3-12 -19-36 -26-30 -39-31 -20-11 -22-7 -38-6 -64 0 -34 4 -34-4 -64 0 -28 2 -26 8 -22 10 -22 15 -28 25 -19 23 -15 24 -10 26 -7 28 0 22 24 108 5 13 8 12 8 8 10 3 58-7 58-1 5 6 2 10 1 26 -2 30 -7 14 -3 2 -56-2 -56-6 -12 3 -10 10 -10 21 -24 102 1 22 10 38 16 32 20 26 33 31 31 19 35 5 24 1 66-3 40-6 42 6 77 3zM1638 892l0-356 -38 0 -18 4 -6 8 -10 19 -20 46 -15 39 0 10 16 32 25 62 -5 12 -9 14 -22 23 -22 14 -8-3 -16-12 -16-14 -32-39 -38 25 -88 32 -54 22 -10 8 -12 16 -8 14 -3 12 3 12 406 0z"/><path id="b29" d="M1638 242l0-254 -76 0 8 16 -30 72 -16 32 -1 8 1 8 29 74 11 23 8 13 10 5 14 3 26 1 16-1zM682 738l22-4 20-10 22-15 24-24 16-19 14-24 8-22 0-14 -27-132 -5-12 -14-15 -12-6 -68 3 -26-1 -8-13 -3-32 2-26 2-10 5-6 96 2 10-4 14-14 8-18 28-128 0-16 -7-20 -19-34 -25-28 -22-18 -17-12 -20-9 -20-6 -32-4 -64 0 -34 3 -34-4 -66 0 -28 4 -26 8 -20 11 -20 14 -28 25 -18 24 -13 24 -9 26 -7 40 1 16 20 90 4 11 6 9 8 7 20 5 60-4 46 0 5 6 4 30 -3 36 -6 14 -4 2 -44 0 -60-4 -20 5 -10 9 -8 18 -20 88 4 34 12 40 20 35 30 33 26 20 28 14 48 4 62-3 40-6 48 6 58 3 26-2zM1638 892l0-350 -40 1 -14 3 -6 3 -20 38 -24 61 -3 8 1 6 18 36 23 58 -15 26 -20 22 -22 15 -8-2 -16-11 -16-13 -15-17 -17-22 -2-1 -38 26 -76 27 -46 20 -12 10 -14 16 -8 14 -4 14 2 12 392 0z"/><path id="b28" d="M1638 236l0-248 -75 0 7 14 0 4 -27 66 -16 34 -1 10 2 14 26 68 10 20 6 8 12 7 14 3 34 1 8 0 0-1zM676 732l18-2 26-12 22-16 22-22 17-20 12-22 10-24 0-16 -24-122 -6-14 -13-14 -14-5 -70 2 -20-1 -8-14 -3-32 4-36 5-7 94 1 12-5 12-12 7-17 25-120 0-18 -7-22 -18-32 -23-26 -22-19 -16-11 -18-9 -20-6 -32-5 -64 1 -34 4 -34-4 -66-1 -26 4 -24 7 -26 14 -28 23 -16 16 -15 20 -12 24 -8 24 -8 42 1 20 16 78 4 12 8 10 8 4 24 6 98-3 5 7 4 30 -3 36 -6 14 -4 3 -96-3 -28 7 -9 9 -8 20 -15 72 5 40 12 40 19 34 31 34 27 20 30 13 34 2 58-1 48-7 46 6 58 2 22-1zM1638 892l0-344 -40 1 -14 3 -8 4 -17 32 -25 62 -1 10 23 49 17 45 -2 8 -11 18 -20 22 -22 16 -4 2 -4-1 -14-9 -16-13 -16-17 -18-23 -4-1 -38 26 -68 24 -39 18 -15 12 -14 16 -9 14 -4 14 3 12 380 0z"/><path id="b27" d="M1638 230l0-242 -75 0 7 14 1 6 -42 98 0 12 5 25 20 52 8 16 6 7 12 8 14 4 28 2 16 0 0-2zM679 726l23-8 22-12 18-14 23-24 15-20 11-22 7-22 0-16 -23-114 -5-12 -12-12 -16-5 -74 1 -12-2 -8-14 -2-29 -2-3 5-36 5-7 90 0 14-5 12-12 6-16 23-110 0-20 -9-28 -17-30 -24-26 -35-27 -18-9 -20-6 -28-4 -64 0 -34 4 -34-4 -66 0 -24 3 -24 8 -26 14 -28 23 -17 18 -13 20 -11 24 -7 24 -6 42 0 26 14 64 5 12 7 6 16 6 18 4 92-2 5 8 5 30 -4 36 -6 14 -4 3 -90-1 -24 6 -10 4 -6 5 -5 9 -3 12 -9 44 -2 20 5 44 12 40 9 18 11 16 30 32 28 19 30 12 14 2 72-2 46-7 46 7 66 2 17-1zM1638 892l0-338 -40 0 -22 7 -10 14 -16 37 -16 40 0 6 26 56 14 40 -5 12 -10 16 -19 21 -22 16 -4 2 -4-2 -28-20 -36-38 -14 5 -28 18 -64 24 -28 14 -17 14 -16 16 -9 14 -4 14 3 12 369 0z"/><path id="b26" d="M1638 224l0-236 -75 0 8 14 1 6 -40 96 2 22 6 29 16 40 6 10 10 10 12 6 14 4 40 1 0-2zM670 720l22-6 22-10 18-13 21-21 14-16 11-18 9-20 5-20 1-16 -3-22 -17-84 -7-14 -10-9 -20-5 -78 0 -4-4 -6-12 -2-28 -2-4 5-36 5-8 82 0 20-6 6-4 6-8 6-16 19-96 0-24 -9-31 -16-29 -22-25 -34-27 -18-9 -18-5 -28-4 -64 0 -34 4 -34-4 -64 0 -24 3 -22 6 -26 15 -28 23 -16 17 -14 22 -10 22 -6 24 -5 40 0 34 11 54 4 8 9 6 15 6 20 5 86-1 5 8 3 26 2 4 -4 36 -5 14 -5 4 -84-1 -28 8 -12 6 -5 5 -3 8 -6 28 -3 22 -1 22 5 42 11 37 19 33 29 31 26 19 28 11 18 4 16 1 58-4 40-5 46 6 56 3 18-2zM1638 892l0-333 -40 1 -22 8 -10 10 -16 36 -14 38 0 6 24 53 15 41 -3 10 -10 17 -20 23 -20 15 -8 4 -2-1 -22-14 -38-38 -4 0 -22 7 -22 13 -49 18 -29 16 -20 15 -15 15 -9 14 -5 14 3 12 358 0z"/><path id="b25" d="M1638 220l0-232 -74 0 7 12 2 8 -36 86 -2 10 3 30 8 30 14 31 8 9 10 8 22 7 38 1zM656 714l20-3 21-7 19-11 17-13 21-22 14-19 11-23 8-26 1-12 -2-26 -16-78 -6-13 -12-9 -22-5 -72 0 -5-5 -5-12 -2-28 -2-4 4-36 6-8 78-1 22-6 6-4 6-7 5-14 17-90 -2-30 -8-28 -14-28 -22-25 -34-26 -16-8 -18-6 -24-3 -62 0 -38 4 -34-4 -64 0 -22 2 -20 6 -26 14 -29 24 -17 20 -13 22 -10 28 -7 42 -1 30 3 34 4 21 4 11 8 8 12 6 30 8 79 0 5 8 2 26 2 4 -4 36 -5 14 -5 5 -78-1 -30 9 -9 5 -7 7 -4 11 -3 22 -4 46 5 38 10 34 17 32 28 30 24 18 27 11 28 5 54 0 20-2 30-7 44 9 62 0zM1638 892l0-327 -38 1 -20 6 -14 11 -14 29 -12 33 -2 15 24 52 14 40 -15 28 -19 22 -16 13 -12 7 -12-6 -13-10 -33-32 -10 1 -26 9 -43 18 -41 22 -19 14 -15 15 -10 14 -4 13 3 12 347 0z"/><path id="b24" d="M1638 214l0-226 -74 0 10 20 -36 92 3 30 8 32 13 28 8 9 10 8 10 4 12 3 36 0zM660 706l22-5 20-8 20-13 20-20 15-18 10-16 8-20 6-22 2-20 -2-20 -13-70 -6-12 -11-8 -23-6 -70-1 -5-5 -5-12 -2-28 -2-4 4-36 6-9 73-1 25-7 8-5 4-6 5-16 14-78 0-12 -4-26 -8-26 -14-26 -21-24 -30-24 -16-8 -18-6 -22-3 -62 0 -38 5 -36-5 -62 0 -24 3 -18 6 -22 12 -28 24 -17 20 -12 20 -8 24 -8 44 0 30 2 32 3 20 4 10 7 8 10 6 31 8 62 0 13 2 5 8 2 26 2 4 -4 36 -5 14 -5 5 -74 1 -28 8 -11 6 -5 6 -4 14 -5 36 0 28 4 36 10 34 7 16 11 16 27 28 24 17 26 10 24 4 54 0 16-2 32-7 44 8 66 0zM1638 892l0-321 -36 0 -20 6 -16 13 -12 22 -10 28 -3 22 23 52 13 36 -4 12 -11 18 -20 23 -16 12 -12 7 -22-13 -32-30 -16 4 -58 22 -44 24 -18 14 -13 13 -9 12 -4 12 4 12 336 0z"/><path id="b23" d="M1638 208l0-220 -73 0 8 16 2 6 -35 88 4 30 8 30 13 28 7 9 10 7 10 4 12 3 34-1zM656 700l20-3 18-7 16-9 16-13 19-20 13-18 9-20 8-26 3-24 -1-18 -11-66 -5-12 -11-8 -28-7 -64-1 -5-6 -5-12 -2-28 -2-4 4-36 6-9 70-2 28-9 10-9 8-33 9-56 -6-42 -7-24 -14-25 -19-21 -31-25 -16-8 -16-5 -20-2 -62 0 -38 4 -34-4 -64 0 -20 2 -18 5 -23 13 -27 22 -16 19 -12 21 -8 24 -7 40 -1 28 3 34 3 20 4 10 5 6 11 7 30 8 68 1 4 2 4 8 2 26 2 4 -3 36 -3 2 -3 12 -5 6 -68 1 -28 8 -10 5 -6 6 -3 8 -4 26 -3 44 5 36 9 32 16 28 26 28 22 16 26 11 24 3 54 0 16-2 32-7 42 9 64 0zM1638 892l0-316 -34 1 -20 5 -16 13 -12 20 -9 29 -3 22 24 54 10 30 -5 12 -11 18 -20 23 -16 13 -12 7 -19-11 -33-30 -22 7 -52 20 -42 23 -28 24 -9 12 -4 12 3 12 330 0z"/><path id="b22" d="M1638 202l0-214 -73 0 11 22 -15 40 -15 34 -3 12 4 30 7 30 13 26 7 8 10 8 22 5 32 1 0-2zM651 694l19-2 18-6 18-10 15-12 20-20 12-18 10-20 6-24 4-28 -1-22 -9-56 -5-10 -10-8 -28-8 -62-2 -5-6 -5-12 -3-28 -2-4 5-37 6-9 66-2 30-10 10-10 8-35 6-47 -6-44 -7-22 -13-25 -18-20 -32-25 -14-7 -16-5 -18-2 -62 0 -38 5 -34-5 -64 0 -18 2 -18 5 -22 12 -27 23 -14 16 -12 20 -8 24 -6 40 -1 26 3 32 6 30 5 7 10 6 30 9 64 2 4 2 4 7 3 27 2 4 -4 36 -2 2 -4 12 -5 6 -66 2 -26 8 -10 6 -5 6 -3 14 -5 36 -1 26 4 34 9 30 15 28 26 27 22 16 24 10 22 3 54 0 48-9 42 9 59 0zM1638 892l0-311 -34 1 -18 5 -16 12 -12 21 -8 26 -4 22 24 54 9 26 -3 10 -12 20 -22 25 -15 13 -13 7 -19-11 -29-26 -28 8 -48 19 -40 22 -27 23 -8 12 -3 10 3 12 323 0z"/><path id="b21" d="M1638 198l0-210 -72 0 8 16 3 8 -14 36 -15 34 -3 12 4 30 8 28 11 24 8 10 9 6 19 6 34 0zM667 686l19-6 16-8 14-11 20-21 10-13 8-15 10-36 4-26 0-20 -7-46 -5-16 -6-5 -9-5 -25-7 -58-2 -6-7 -5-12 -2-28 -2-4 5-38 6-8 54-2 12-2 28-10 9-10 7-32 4-28 0-18 -6-46 -8-24 -8-15 -10-13 -26-24 -22-14 -24-8 -16-2 -60 0 -38 5 -36-5 -62 0 -20 3 -18 6 -19 11 -26 22 -13 16 -11 20 -7 22 -6 38 0 26 3 30 6 30 5 6 9 6 29 9 60 2 4 3 4 6 3 28 2 4 -4 36 -2 2 -3 12 -6 7 -62 2 -27 9 -12 10 -4 14 -4 36 -1 26 4 34 10 32 14 24 26 26 20 14 24 9 18 3 56 0 46-10 46 10 54 0 17-2zM1638 892l0-306 -32 1 -18 4 -14 11 -13 20 -9 26 -3 22 25 59 6 19 -6 14 -10 16 -22 26 -15 12 -13 8 -17-10 -29-25 -32 10 -46 18 -37 21 -25 22 -7 10 -3 10 3 12 317 0z"/><path id="b20" d="M1638 192l0-204 -72 0 12 24 -12 33 -16 35 -2 10 4 30 8 30 12 24 8 9 8 5 20 5 30 1 0-2zM665 680l17-5 17-9 13-10 20-20 10-14 7-14 10-34 3-24 0-22 -5-42 -5-16 -14-10 -24-8 -56-3 -6-7 -5-12 -2-28 -2-4 5-38 6-8 62-5 22-7 9-6 6-6 6-32 3-48 -6-44 -8-22 -16-26 -26-24 -20-12 -22-8 -16-2 -60 0 -38 6 -36-6 -62 0 -18 3 -18 6 -18 10 -26 23 -13 16 -10 20 -5 18 -6 40 0 24 5 44 3 12 4 6 8 6 13 6 19 5 56 3 6 8 5 38 -2 4 -2 26 -2 2 -3 12 -6 8 -60 2 -22 8 -9 6 -5 6 -8 50 0 24 4 34 10 30 14 23 24 25 20 13 22 8 18 3 54-1 46-9 46 9 54 1 15-2zM1638 892l0-300 -32 0 -16 4 -14 10 -13 20 -8 24 -4 22 30 74 -5 14 -11 18 -23 26 -14 12 -14 8 -16-9 -28-23 -36 12 -42 17 -34 19 -23 20 -7 10 -4 10 4 12 310 0z"/><path id="b19" d="M1638 188l0-200 -72 0 10 16 3 10 -8 22 -19 44 -2 8 5 30 7 28 12 24 14 12 18 6 32 0zM663 674l17-5 16-8 30-27 17-26 10-34 3-24 0-22 -5-40 -3-16 -12-10 -20-8 -16-3 -42-1 -6-8 0-4 -5-8 -2-28 -2-4 5-38 6-9 48-3 14-3 19-7 8-6 5-6 6-30 2-48 -6-42 -6-20 -16-25 -26-24 -18-12 -22-7 -74-1 -38 5 -36-5 -62 0 -18 2 -16 5 -18 11 -24 21 -12 15 -9 17 -5 18 -6 38 0 24 3 32 6 28 8 8 6 4 26 8 51 2 2 1 6 9 5 38 -2 4 -2 26 -2 2 -3 13 -6 7 -44 1 -14 3 -20 7 -12 11 -8 50 0 24 4 32 9 30 14 22 24 24 19 13 20 7 16 1 54 0 46-9 46 9 67-1zM1638 892l0-295 -32 0 -16 5 -13 10 -11 17 -8 25 -4 22 28 70 -6 14 -11 18 -10 14 -13 13 -16 13 -12 6 -16-8 -24-20 -41 12 -39 16 -32 19 -22 19 -7 10 -2 8 3 12 304 0z"/><path id="b18" d="M1638 182l0-194 -71 0 13 26 -27 70 3 26 8 32 12 23 14 13 18 5 30-1zM662 668l18-5 14-8 29-27 15-24 9-32 4-24 0-20 -6-42 -3-14 -11-10 -19-7 -15-3 -39-1 -6-8 0-5 -5-8 -2-28 -2-4 5-38 3-6 5-5 40-1 16-3 21-9 9-10 6-32 3-44 -6-42 -7-20 -15-24 -25-23 -20-12 -18-5 -74-1 -36 5 -36-5 -62 0 -16 2 -14 4 -18 11 -23 20 -12 14 -8 16 -6 18 -5 36 -1 22 3 30 6 30 4 6 7 6 27 9 48 2 2 2 6 9 5 38 -2 4 -2 26 -2 2 -3 14 -6 7 -40 1 -14 2 -20 8 -10 10 -8 52 -1 20 4 32 9 28 13 22 23 23 18 12 18 6 16 2 54 0 46-10 46 10 66-1zM1638 892l0-290 -30 0 -16 4 -14 11 -10 17 -8 24 -3 20 22 54 4 14 -6 14 -12 18 -22 26 -17 14 -12 7 -12-6 -26-20 -46 14 -36 16 -29 17 -20 18 -8 16 4 12 297 0z"/><path id="b17" d="M1638 176l0-188 -71 0 11 18 3 10 -25 64 4 30 8 30 11 20 13 12 18 4 28 0zM651 664l19-3 16-7 14-10 16-16 10-12 7-12 10-32 3-24 0-20 -5-40 -4-16 -11-10 -16-6 -18-3 -34-2 -6-7 -1-6 -4-8 -2-28 -2-4 5-38 2-6 6-5 36-2 16-3 20-8 9-10 6-32 3-44 -6-40 -5-18 -15-24 -24-22 -18-11 -18-6 -74-1 -36 6 -36-6 -62 0 -14 2 -14 4 -16 9 -24 21 -10 12 -9 16 -5 16 -6 36 0 22 3 30 5 28 3 6 7 6 12 6 15 4 45 3 2 1 6 10 5 38 -2 4 -2 26 -2 2 -3 14 -6 7 -38 2 -14 3 -17 6 -10 10 -8 50 -1 22 4 30 7 26 13 22 22 22 18 12 18 6 14 2 54 0 46-10 44 10 57 0zM1638 892l0-284 -28 1 -15 3 -13 9 -10 15 -8 24 -4 22 24 62 -6 14 -13 22 -23 26 -16 13 -12 6 -12-6 -22-16 -50 15 -34 14 -26 16 -18 16 -6 8 -3 8 4 12 291 0z"/><path id="b16" d="M1638 170l0-182 -70 0 10 18 4 10 -22 60 3 30 8 30 11 20 12 10 16 4 28 0zM659 658l15-4 14-7 28-26 14-22 8-29 3-22 0-20 -5-40 -4-16 -10-9 -16-6 -16-4 -32-1 -6-8 -1-6 -4-8 -3-28 -2-4 6-38 2-6 6-6 36-2 17-4 16-8 8-10 6-30 2-44 -6-40 -6-18 -13-21 -24-22 -16-9 -18-6 -72-1 -36 6 -36-6 -62 0 -14 2 -14 5 -14 8 -23 20 -11 14 -7 14 -4 14 -6 36 3 50 5 28 3 6 7 6 13 6 14 4 40 2 2 2 6 10 6 38 -2 4 -3 26 -2 2 -3 14 -4 6 -2 2 -38 2 -14 4 -14 6 -9 10 -8 50 0 20 4 30 8 26 11 19 22 22 16 10 18 7 66 1 46-10 46 10 63-1zM1638 892l0-277 -26 0 -15 3 -12 8 -10 14 -7 20 -5 24 21 60 -6 14 -13 22 -21 24 -18 15 -12 7 -32-20 -56 17 -30 14 -24 15 -15 14 -7 14 4 12 284 0z"/><path id="b15" d="M1638 164l0-176 -70 0 14 28 -3 12 -14 36 -3 10 5 30 7 28 10 18 12 10 14 4 28 0zM663 652l13-4 13-8 28-28 11-22 7-36 1-28 -6-46 -3-8 -9-8 -14-6 -17-4 -29-2 -2-1 -4-7 -1-6 -4-8 -1-17 -4-15 5-38 7-11 2-2 32-2 18-4 14-7 8-10 6-30 2-44 -5-38 -6-18 -13-20 -22-20 -16-10 -16-5 -72-1 -24 3 -12 4 -12-4 -24-3 -62 0 -14 2 -12 4 -14 9 -22 19 -10 12 -7 14 -4 14 -5 34 2 48 6 30 8 10 11 6 15 4 38 3 6 7 0 4 3 2 5 38 -2 4 -3 26 -2 2 -3 14 -4 7 -2 2 -30 1 -17 4 -14 6 -9 10 -8 50 0 20 4 30 7 24 11 18 22 22 16 10 16 5 64 0 46-10 46 10 54 1 13-2zM1638 892l0-271 -26 0 -14 3 -11 8 -9 13 -8 21 -4 22 17 46 2 10 -6 14 -12 20 -10 14 -10 10 -19 16 -14 8 -30-17 -60 19 -26 12 -22 14 -15 14 -5 12 4 12 278 0z"/><path id="b14" d="M1638 156l0-168 -69 0 10 18 4 12 -15 41 -2 11 4 32 8 27 10 17 12 9 18 3 20 0 0-2zM656 648l14-3 14-8 28-27 12-22 7-36 0-26 -6-46 -3-8 -9-8 -13-5 -16-4 -26-2 -2-2 -9-21 -1-16 -4-16 5-38 2-2 1-5 4-5 2-1 30-3 17-4 13-7 7-9 6-32 2-42 -5-38 -5-16 -12-18 -23-20 -14-9 -16-5 -70 0 -24 3 -12 3 -12-3 -24-3 -62 0 -12 1 -12 4 -12 7 -22 19 -9 11 -7 14 -9 46 2 48 5 28 3 6 6 6 12 6 14 4 33 3 6 6 1 5 2 2 5 38 -4 16 -1 14 -2 2 -3 14 -4 8 -2 1 -30 2 -16 5 -12 6 -7 8 -8 52 0 18 3 28 7 24 10 16 21 21 14 9 16 5 64 1 46-10 46 10 60 0zM1638 892l0-265 -26 1 -12 2 -11 8 -9 13 -7 21 -4 20 17 50 -9 20 -22 34 -27 22 -14 9 -26-15 -36 10 -32 12 -24 12 -18 12 -11 12 -5 10 5 12 271 0z"/><path id="b13" d="M1638 150l0-162 -69 0 15 30 -14 40 -1 8 4 32 8 26 9 16 10 8 16 3 22 0 0-1zM660 642l12-4 12-7 26-26 10-21 6-34 0-24 -8-52 -7-8 -13-6 -15-4 -25-2 -2-2 -9-22 -1-16 -4-16 0-8 4-12 1-18 2-2 1-6 4-4 2-2 25-2 19-5 12-7 7-10 5-30 3-42 -6-36 -5-16 -12-18 -21-18 -13-8 -16-5 -68 0 -22 3 -14 3 -14-3 -22-3 -62 0 -12 1 -12 5 -11 7 -21 18 -8 10 -6 12 -8 44 2 46 5 30 7 10 10 6 12 4 34 4 6 6 1 6 2 2 1 18 4 12 0 8 -4 16 -1 14 -2 2 -3 14 -4 8 -2 2 -26 2 -16 4 -11 6 -8 10 -7 50 -1 18 4 26 7 24 10 16 20 20 14 8 14 4 62 1 46-10 48 10 62-1zM1638 892l0-258 -24 0 -12 2 -11 8 -9 14 -6 18 -4 20 15 46 -8 18 -15 24 -4 14 -16 8 -18 14 -12 7 -20-11 -4-1 -36 11 -30 11 -22 10 -17 11 -12 12 -5 10 5 12 265 0z"/><path id="b12" d="M1638 144l0-156 -68 0 15 30 -12 36 -1 10 4 30 8 27 8 13 10 8 14 3 22-1zM652 638l14-3 12-6 26-25 11-20 6-34 1-22 -9-54 -7-8 -10-5 -40-8 -9-23 -1-16 -2-2 0-10 -2-4 0-8 4-12 1-18 2-2 1-6 4-5 2-1 24-3 16-5 11-6 7-10 5-30 3-42 -6-36 -4-14 -11-16 -21-18 -12-7 -14-5 -68 0 -22 3 -14 4 -14-4 -24-3 -62 0 -18 5 -12 7 -20 17 -8 10 -5 11 -9 44 3 44 5 30 7 10 10 6 13 4 28 3 6 7 1 6 2 2 3 28 2 2 0 10 -2 2 -3 26 -2 2 -2 14 -5 9 -22 3 -21 6 -9 6 -6 8 -7 50 -1 18 4 26 6 22 9 14 19 19 12 8 14 4 60 1 48-11 46 11 56 0zM1638 892l0-252 -1 0 -21 0 -12 2 -11 8 -9 14 -6 19 -3 17 13 40 -6 14 -14 26 -2 16 -4 7 -22 7 -26 17 -20-9 -34 10 -30 10 -22 11 -18 11 -10 10 -6 10 6 12 258 0z"/><path id="b11" d="M1638 136l0-148 -66 0 14 32 -10 38 4 32 8 25 8 13 10 7 12 2 20-1zM658 632l10-3 10-6 25-25 8-18 6-32 0-20 -9-54 -8-8 -8-4 -36-8 -9-24 -1-16 -2-2 0-10 -2-4 5-38 2-2 1-6 4-6 38-9 12-7 5-8 6-32 2-40 -5-34 -5-14 -9-14 -21-18 -11-7 -14-4 -66 0 -22 3 -14 4 -16-4 -24-3 -60 0 -18 5 -28 22 -8 10 -5 10 -8 42 2 42 5 30 6 10 8 6 10 4 30 5 6 7 1 6 2 2 3 28 2 2 0 10 -2 2 -3 26 -2 2 -2 14 -5 10 -37 8 -10 6 -6 8 -8 52 0 16 3 24 7 22 8 12 19 19 12 8 12 3 58 1 48-11 48 11 60-1zM1638 892l0-244 -2 0 -22 1 -10 2 -9 7 -7 12 -6 16 -3 18 9 36 -14 30 -3 26 -5 10 -8 4 -22 4 -22 14 -16-7 -32 9 -30 10 -22 10 -17 10 -11 10 -5 10 1 6 4 6 252 0z"/><path id="b10" d="M1638 128l0-140 -62 0 0 8 11 24 -7 26 0 8 4 32 7 22 7 12 10 7 12 2 18-1zM661 626l17-9 21-23 7-16 6-30 0-20 -8-52 -6-8 -6-4 -36-10 -9-24 -1-16 -2-2 0-10 -2-4 5-38 7-14 36-10 9-6 6-10 5-30 2-40 -5-34 -4-12 -9-13 -20-17 -10-6 -12-3 -66-1 -22 3 -14 5 -16-5 -22-3 -60 0 -18 5 -28 22 -11 19 -7 38 2 42 5 30 6 10 17 9 26 5 6 8 1 6 2 2 3 28 2 2 0 10 -2 2 -3 26 -2 2 -2 14 -5 10 -36 10 -10 8 -3 6 -7 50 0 16 3 24 6 20 8 12 19 18 10 6 12 3 56 1 48-11 48 11 52 0 11-2zM1638 892l0-235 -2-1 -20 1 -10 2 -8 7 -7 12 -8 32 6 30 -11 24 -3 34 -5 11 -10 4 -28 5 -18 10 -12-4 -62 18 -22 10 -16 10 -11 10 -4 8 1 6 5 6 245 0z"/><path id="b9" d="M1638 120l0-132 -58 0 1 14 7 20 -4 20 1 18 4 24 6 18 7 12 8 5 10 2 18-1zM655 622l18-8 22-22 6-14 6-30 0-20 -7-52 -7-8 -7-4 -26-7 -5-3 -6-22 -2-2 -2-16 -2-2 0-10 -2-4 6-38 7-15 32-10 10-7 4-8 5-30 2-38 -5-34 -4-12 -8-12 -19-16 -9-5 -12-3 -64 0 -20 2 -16 5 -16-5 -22-3 -60 0 -16 5 -26 20 -11 18 -6 38 2 38 5 30 4 10 16 10 24 5 7 9 6 36 1 2 0 10 -1 2 -4 26 -2 2 0 6 -2 2 0 6 -4 10 -5 3 -28 8 -7 5 -5 8 -7 64 3 24 6 20 6 10 18 17 10 6 10 3 56 0 48-11 48 11 57 0zM1638 892l0-227 -4 0 -18 0 -8 2 -8 7 -6 11 -8 31 4 22 -8 22 -2 40 -5 12 -11 5 -36 6 -14 6 -8-2 -18 4 -42 13 -37 18 -12 10 -4 8 2 6 4 6 239 0z"/><path id="b8" d="M1637 112l1-124 -53 0 0 20 4 14 -2 16 2 18 4 22 5 17 6 10 8 6 25 1zM658 616l14-8 20-21 5-13 5-28 0-16 -7-52 -5-8 -5-4 -25-8 -5-4 -2-8 -2-2 0-6 -4-8 -2-16 -2-2 0-10 -2-4 6-38 7-16 29-10 8-6 5-10 4-30 3-36 -5-32 -4-12 -7-10 -19-16 -8-5 -10-2 -62 0 -22 2 -16 6 -16-6 -22-2 -60 0 -14 3 -25 20 -9 16 -7 36 3 38 4 30 5 10 12 8 25 8 5 8 0 6 2 2 2 18 2 2 0 8 2 2 0 10 -2 2 -4 26 -2 2 0 6 -2 2 0 6 -2 2 -2 8 -5 4 -25 8 -10 12 -8 64 4 24 5 18 6 8 18 18 8 5 10 2 54 0 48-11 48 11 50 0 10-1zM1638 892l0-219 -4 0 -16 0 -8 2 -8 7 -5 10 -7 28 2 16 -5 16 -3 52 -2 8 -3 4 -13 5 -72 13 -42 12 -36 16 -12 10 -5 8 2 6 5 6 232 0z"/><path id="b7" d="M1634 104l4-1 0-115 -49 0 4 60 7 38 6 11 6 5 8 2 14 0zM652 612l15-6 20-20 5-12 6-28 0-16 -8-52 -7-10 -23-9 -6-5 -3-16 -5-8 -3-28 -2-4 6-38 6-16 28-12 6-6 4-8 5-30 2-36 -5-32 -3-9 -6-9 -18-15 -16-7 -62 0 -20 2 -18 6 -18-6 -20-2 -60 0 -12 3 -22 18 -8 11 -7 34 -1 20 8 54 4 8 8 6 20 7 5 3 6 16 2 18 2 2 0 8 2 2 0 10 -2 2 -3 26 -2 2 -1 6 -2 2 -3 16 -6 5 -23 9 -8 12 -7 62 3 22 5 17 6 8 16 16 16 7 54 0 48-11 48 11 54 0zM1638 892l0-210 -6-1 -20 2 -6 5 -6 12 -5 18 -3 24 -4 66 -4 11 -10 4 -68 12 -50 13 -35 16 -10 8 -5 8 1 6 6 6 225 0z"/><path id="b6" d="M1638 94l0-106 -45 0 4 62 4 22 4 12 5 8 6 3 20 1 2-2zM656 606l10-6 18-19 6-17 3-20 0-14 -7-52 -8-10 -18-7 -6-7 -3-16 -5-8 -3-28 -2-4 6-38 6-16 5-5 15-5 7-6 6-12 5-28 2-36 -7-38 -6-8 -18-16 -14-5 -60 0 -20 3 -18 6 -18-6 -20-3 -60 0 -10 3 -20 16 -8 10 -7 34 0 16 7 54 4 8 6 6 18 7 5 5 6 16 2 18 2 2 0 8 2 2 0 10 -2 2 -2 20 -9 32 -6 7 -18 7 -8 12 -7 62 3 20 4 16 6 8 14 14 14 7 54 0 48-12 50 12 56-1zM1638 892l0-202 -6-1 -18 1 -7 8 -4 8 -6 32 -5 77 -4 7 -10 5 -66 10 -50 13 -36 16 -10 7 -4 7 2 6 6 6 218 0z"/><path id="b5" d="M1638 92l0-104 -43 0 3 54 3 22 5 16 4 8 6 4 14 1 8-1zM657 600l7-5 17-19 5-16 2-28 -7-52 -6-10 -15-7 -6-8 -4-17 -4-8 -1-16 -2-2 0-10 -2-2 0-10 2-2 0-8 2-2 2-18 2-2 0-6 3-8 6-7 9-3 8-6 6-12 7-54 0-14 -7-32 -5-7 -16-14 -12-5 -60 0 -20 3 -18 6 -18-6 -20-3 -58 0 -10 2 -20 17 -5 7 -7 32 0 16 7 54 6 10 7 6 10 3 6 7 3 8 0 6 2 2 2 18 2 2 0 8 2 2 0 10 -2 2 -2 20 -3 8 0 6 -2 2 -4 17 -6 8 -15 7 -6 10 -7 54 2 26 5 16 19 21 12 5 50 0 50-12 50 12 48 0 9-2zM1638 892l0-199 -6-1 -12 0 -6 2 -6 6 -4 10 -6 34 -4 74 -2 8 -10 4 -66 10 -48 12 -35 14 -11 8 -4 6 2 6 7 6 211 0z"/><path id="b4" d="M1637 90l1 0 0-102 -42 0 3 56 8 34 4 8 5 4 21 0zM653 596l7-4 16-16 5-16 2-16 0-12 -7-52 -6-10 -10-5 -6-9 -4-18 -4-8 -1-16 -2-2 0-10 -2-4 5-38 2-2 4-15 5-7 9-4 6-6 5-12 6-52 0-14 -6-30 -19-18 -10-5 -60 0 -18 3 -20 6 -20-6 -18-3 -58 0 -8 2 -18 15 -5 6 -6 32 2 36 5 30 4 10 6 6 9 4 5 7 4 15 2 2 1 18 2 2 0 8 2 4 -4 30 -3 8 -6 26 -6 9 -10 5 -7 12 -6 60 2 18 4 14 17 18 10 5 50 0 50-12 50 12 53-1zM1638 892l0-197 -6-1 -12 0 -6 3 -6 7 -4 10 -5 32 -4 76 -2 10 -75 12 -42 9 -36 14 -11 7 -5 6 3 6 7 6 204 0z"/><path id="b3" d="M1634 88l4-1 0-99 -40 0 3 54 6 32 4 8 5 5 18 1zM654 590l19-20 5-26 0-12 -6-50 -5-10 -9-7 -2-7 -3-2 -3-18 -4-8 -1-16 -2-2 -2-22 2-2 3-28 2-2 4-16 4-6 12-12 4-12 6-50 0-12 -6-30 -18-17 -6-2 -60 0 -18 2 -20 7 -20-7 -18-2 -58-1 -6 2 -20 18 -6 32 2 34 4 28 4 10 12 12 4 6 4 16 2 2 3 28 2 2 -2 22 -2 2 0 8 -3 8 -2 14 -2 2 -1 10 -3 2 -2 7 -9 7 -5 10 -6 52 2 24 4 14 15 16 7 3 50 0 48-11 52 11 48 1 6-2zM1638 892l0-194 -6-1 -12 0 -6 3 -5 6 -4 10 -5 32 -3 78 -3 10 -72 11 -42 9 -35 12 -10 6 -4 6 2 6 9 6 196 0z"/><path id="b2" d="M1638 84l0-96 -39 0 3 54 7 32 3 6 6 5 14 1 6-2zM650 586l18-16 6-28 -7-60 -10-16 -2-8 -2-2 -1-10 -6-16 -2-16 -2-2 0-10 -2-2 0-10 2-2 0-8 2-2 4-26 2-2 4-14 11-14 4-22 5-48 -6-30 -16-14 -6-2 -56 0 -6 2 -12 0 -22 8 -22-8 -12 0 -6-2 -60 1 -18 15 -6 30 3 34 4 26 2 10 14 20 3 16 2 2 4 28 2 2 -2 22 -2 2 0 8 -4 8 -2 14 -2 2 -1 10 -14 28 -7 50 3 24 3 12 14 14 6 2 48 0 48-12 6 0 46 12 50 0zM1638 892l0-191 -6-2 -12 1 -5 2 -5 6 -4 11 -5 33 -3 78 -3 10 -3 2 -68 8 -40 8 -32 11 -10 5 -5 6 3 6 9 6 189 0z"/><path id="b1" d="M1637 82l1-1 0-93 -38 0 3 54 7 30 4 7 4 3 12 1 7-1zM651 580l13-14 5-32 -6-38 0-12 -5-14 -2-2 -6-30 -4-8 -2-16 -2-2 0-10 -2-2 0-10 2-2 0-8 2-2 0-8 2-2 0-8 4-10 1-8 9-22 5-22 4-46 -5-26 -18-15 -56 0 -4 2 -14 0 -22 8 -22-8 -14 0 -4-2 -58 0 -16 15 -5 26 2 32 5 28 6 20 2 2 1 6 2 2 1 8 4 10 0 8 2 2 0 8 2 2 0 8 2 2 0 10 -2 2 -2 20 -4 8 -8 38 -2 2 -5 14 0 12 -6 38 5 32 16 15 46 0 48-12 10 0 46 12 49-1zM1638 892l0-188 -6-2 -10 0 -6 2 -5 6 -4 12 -5 40 -3 72 -3 11 -66 8 -40 7 -32 10 -10 5 -5 5 4 6 11 6 180 0z"/><path id="b0" d="M1635 80l3-2 0-90 -37 0 3 50 6 30 4 8 4 4 17 0zM649 576l12-12 4-30 -2-2 0-14 -2-2 0-14 -2-2 0-16 -2-2 0-12 -2-2 -5-30 -6-16 -2-20 -2-2 0-10 2-2 0-8 2-2 0-8 2-2 2-16 2-2 0-8 5-10 0-10 2-2 0-8 2-2 0-10 2-2 0-12 2-2 2-32 -2-2 -2-22 -15-13 -56 0 -2 2 -14 0 -8 4 -10 2 -6 4 -6-4 -10-2 -8-4 -14 0 -2-2 -56 0 -15 13 0 10 -2 2 0 10 -2 2 2 32 2 2 2 24 2 2 0 8 2 2 3 18 2 2 2 16 2 2 4 28 2 2 0 10 -2 2 -2 20 -4 8 0 6 -4 10 0 10 -2 2 -1 10 -2 2 0 12 -2 2 0 16 -2 2 0 14 -2 2 0 14 -2 2 4 30 13 13 46 0 2-2 8 0 2-2 30-6 2-2 16 0 2 2 30 6 2 2 8 0 2 2 47-1zM1638 892l0-185 -8-3 -10 1 -4 2 -5 7 -4 12 -4 40 -2 72 -3 10 -4 2 -56 5 -44 8 -30 8 -11 5 -4 4 4 6 14 6 171 0z"/><path id="b42" d="M1514 80l-14 0 -14-8 -20-22 -14-22 -5-14 15-26 96 0 3 6 -4 10 -43 76zM1514 815l-22-14 -24-23 -14-20 -4-10 -6-6 -6-16 -156 52 -42 9 -38 4 -51-1 -50-8 -49-14 -46-20 -38-22 -40-30 -30-29 -26-33 -11-22 -12-32 -28-114 -5-11 -15-19 -5-12 -10-4 -32 0 -44 11 -56 3 -4-6 -2-8 0-48 4-6 20 0 42 4 40 10 30 0 10-2 7-14 15-20 5-10 19-76 13-48 12-30 13-22 31-36 39-34 44-28 48-22 40-13 42-8 42-3 44 1 62 8 98 20 44 11 34 14 20 12 16 12 10 11 7 11 13 31 27 81 36 80 7 32 2 68 -2 40 -3 18 -7 24 -34 82 -21 72 3 12 0 26 36 68 7 18 -6 12 -13 15 -16 14 -14 8zM26 734l-16 1 -22-3 0-676 24-3 20 2 22 6 24 10 24 14 44 33 22 22 20 23 30 43 22 42 13 34 10 34 12 46 4 30 11 8 -12 8 -5 28 -13 48 -22 60 -20 38 -28 40 -38 42 -42 34 -42 23 -22 8 -20 5zM446 434l-45-2 -34-6 -30-12 -9-6 -7-8 7-8 9-6 29-12 36-6 46-2 4 6 1 38 -1 12 -6 12zM1294 402l0-5 -1 3 1 2z"/><path id="b43" d="M1514 77l-14-1 -14-8 -16-16 -15-22 -7-16 14-26 96 0 2 6 -4 9 -42 74zM1514 814l-10-5 -14-10 -24-25 -12-18 -2-11 -7-5 -3-12 0-8 -2-1 -70 25 -80 26 -42 10 -42 5 -50 0 -52-8 -50-15 -46-20 -40-23 -38-29 -32-32 -24-31 -10-20 -10-27 -28-114 -19-30 -7-17 -6-2 -40 0 -44 12 -56 4 -4-5 -2-8 0-48 4-5 28 1 38 4 36 11 45-1 3-4 5-14 19-30 18-76 13-46 12-28 13-22 31-36 39-33 44-28 48-22 40-13 40-7 42-3 46 1 60 8 94 19 50 14 32 12 18 11 14 11 10 12 10 17 12 30 24 71 33 78 8 32 1 70 -1 42 -3 16 -7 24 -33 82 -20 70 5 16 0 26 35 64 8 20 -6 12 -12 15 -16 13 -14 8zM20 728l-14 0 -18-4 0-660 26-4 20 2 24 7 22 9 24 14 24 17 22 19 21 22 20 24 32 48 23 50 12 36 11 44 7 48 -6 36 -9 34 -17 52 -23 48 -31 46 -40 44 -42 33 -24 15 -22 10 -22 7 -20 3zM446 433l-44-2 -34-7 -28-12 -8-6 -3-6 3-6 11-8 27-11 34-6 44-3 4 6 1 38 -1 12 -6 11zM1295 406l3-6 -4-7 -4 7 2 5 3 1z"/><path id="b44" d="M1514 73l-14 0 -14-8 -16-17 -14-20 -7-16 14-24 95 0 1 6 -5 11 -40 68zM1518 812l-6 1 -18-11 -19-18 -13-16 -8-14 1-10 -7-4 -2-6 -2-8 2-16 -50 20 -102 34 -42 10 -42 5 -52 0 -50-7 -49-14 -47-20 -40-23 -38-29 -32-32 -24-32 -11-20 -9-26 -28-110 -18-30 -5-18 -3-4 -38 1 -12-1 -24 9 -20 5 -56 5 -4-5 -2-8 0-48 4-5 32 2 36 6 34 11 12-1 38 1 3-4 5-18 19-32 17-74 16-50 10-23 12-19 31-36 39-33 44-28 48-22 40-12 40-7 42-3 46 2 58 8 92 19 46 13 32 13 18 11 14 11 12 13 10 16 12 29 23 68 30 74 9 34 1 70 -2 42 -2 18 -7 22 -31 82 -21 72 8 14 0 28 36 65 8 19 -7 12 -11 12 -26 20zM32 720l-20 1 -24-4 0-646 28-5 20 3 22 6 22 10 24 13 22 16 22 19 40 44 32 47 23 50 11 32 10 38 5 26 2 24 -6 46 -18 64 -23 52 -29 46 -37 44 -42 36 -42 24 -22 9 -20 5zM446 433l-40-3 -32-6 -28-12 -8-6 -3-6 3-6 8-6 28-12 31-6 43-3 4 5 1 38 -1 12 -6 11zM1295 410l6-10 -3-7 -4-4 -4 4 -3 7 4 8 3 3 1-1z"/><path id="b45" d="M1514 70l-16-2 -12-6 -14-15 -14-19 -8-16 13-24 94 0 1 6 -4 10 -40 66zM1516 813l-2 1 -8-4 -18-13 -17-17 -13-18 -3-8 3-12 -8-4 -4-12 7-22 -1-4 -48 22 -98 33 -46 12 -44 6 -52 0 -52-7 -50-13 -48-21 -40-23 -37-29 -33-32 -23-32 -11-20 -9-24 -28-110 -16-28 -4-20 -3-5 -6-1 -14 3 -18 2 -18-3 -23 10 -22 6 -55 6 -4-4 -2-8 -1-26 1-22 4-4 34 2 36 7 32 13 18-3 18 2 14 3 6-1 3-5 4-20 16-30 20-78 13-42 10-23 13-21 31-36 40-35 44-27 48-22 40-12 40-7 42-2 44 1 58 8 86 19 44 12 32 13 20 12 16 13 14 16 10 17 10 24 21 62 29 72 8 34 1 72 -3 60 -7 24 -28 76 -26 80 3 3 8 2 3 5 0 30 27 46 14 26 3 10 -7 12 -10 12 -14 12 -14 9zM28 714l-18 0 -22-4 0-632 30-5 20 3 22 6 22 10 22 12 22 16 21 18 39 43 32 48 23 49 19 62 5 28 2 24 -1 22 -4 26 -17 60 -23 52 -30 47 -38 44 -42 35 -20 13 -22 11 -22 8 -20 4zM446 432l-40-3 -30-7 -24-10 -8-6 -3-6 3-6 8-6 26-11 34-6 36-3 4 5 1 37 -1 11 -6 11zM1296 414l4-6 4-8 -4-9 -6-6 -6 6 -4 9 6 12 4 3 2-1z"/><path id="b46" d="M1514 68l-12-2 -16-8 -12-11 -14-19 -8-18 12-22 93 0 1 4 -6 13 -20 35 -18 28zM1516 813l-4 0 -8-5 -18-13 -18-19 -11-18 3-20 -8-3 -3-11 15-38 -30 17 -28 12 -71 25 -51 16 -32 7 -32 4 -32 1 -32-1 -36-5 -36-8 -34-12 -34-15 -32-19 -30-21 -26-23 -24-26 -22-30 -12-26 -20-64 -15-56 -14-32 -5-30 6-32 14-32 16-62 24-70 13-22 17-22 20-22 22-20 26-19 28-18 28-14 30-12 30-8 32-7 32-3 32-1 40 2 44 6 118 28 30 10 24 12 20 14 18 18 14 20 10 22 49 132 8 36 1 72 -1 44 -3 18 -50 149 -16 37 18-2 4 1 2 2 1 11 -2 18 25 41 20 41 -4 10 -12 14 -14 12 -14 9zM22 708l-16-1 -18-5 0-616 32-6 18 2 22 6 22 10 22 12 42 33 39 43 31 47 24 51 16 56 5 28 3 26 -2 24 -5 28 -17 56 -23 52 -31 46 -38 43 -42 33 -22 13 -22 10 -20 6 -20 3zM446 431l-32-3 -32-6 -23-10 -9-6 -3-6 3-6 9-6 23-10 34-7 32-2 4 5 1 36 -1 11 -6 10zM670 430l-16 1 -3-3 -3-7 -1-39 1-8 4-5 32 2 28 5 22 8 22 12 22-5 12 1 14 8 -14 8 -12 1 -24-4 -20 11 -17 6 -47 8zM1296 418l7-8 3-10 -5-12 -7-7 -7 7 -5 12 6 14 4 4 4 0z"/><path id="b47" d="M1514 65l-12-2 -14-7 -12-11 -14-18 -9-17 4-10 7-12 93 0 -1 7 -12 22 -30 48zM1208 762l-36 0 -36-3 -36-7 -34-10 -34-14 -32-17 -30-19 -29-24 -37-39 -15-21 -11-20 -22-58 -17-66 -11-32 -3-14 0-20 2-28 13-36 10-42 10-34 21-52 15-24 17-22 24-24 25-21 28-20 30-17 32-14 32-10 32-7 34-4 34-2 34 2 36 4 38 7 70 16 32 10 30 12 26 15 26 25 20 31 50 131 6 22 3 20 3 72 -3 48 -2 16 -11 36 -38 108 -11 24 -14 20 -16 16 -19 14 -21 12 -29 12 -110 36 -38 8 -38 4zM34 700l-20 1 -26-6 0-602 18-5 16-1 18 2 22 6 20 9 22 13 40 31 38 41 32 48 23 49 16 54 7 52 -2 24 -5 30 -13 48 -22 50 -29 46 -35 40 -40 35 -40 23 -20 8 -20 4zM446 430l-38-4 -28-7 -21-11 -6-6 0-4 11-10 22-9 30-7 32-2 4 5 1 35 -1 11 -6 9zM660 430l-8-1 -4-9 -1-38 2-10 3-2 32 2 30 7 22 9 8 6 4 6 -10 10 -18 9 -28 7 -32 4zM1295 422l9-9 5-13 -6-14 -9-9 -9 9 -6 14 7 16 6 6 3 0zM782 404l-4 0 -8-4 10-5 10 2 2 3 -2 3 -8 1zM1516 812l-8-2 -14-9 -27-27 -9-16 6-23 -10-3 -3-8 10-24 15-22 16-15 16-6 6 1 2 4 -3 26 7 8 16 26 24 46 -5 10 -11 14 -14 12 -14 8z"/><path id="b48" d="M1514 62l-12-2 -14-7 -12-11 -13-16 -9-18 11-20 91 0 -1 8 -13 23 -28 43zM1212 756l-34 1 -40-4 -34-6 -34-10 -30-12 -36-18 -30-20 -28-22 -39-41 -17-24 -13-22 -19-52 -16-62 -10-28 -3-16 0-30 2-22 11-34 11-42 10-34 20-46 17-26 17-22 25-25 24-20 32-22 26-14 30-14 30-10 34-8 38-5 32-1 32 2 66 10 100 26 30 12 28 16 27 25 12 16 10 18 47 118 8 30 4 26 2 70 -2 40 -4 26 -14 43 -33 87 -12 24 -14 20 -15 16 -18 15 -20 11 -28 13 -64 22 -46 14 -40 8 -32 3zM32 694l-18 0 -26-7 0-586 18-5 18-3 20 3 19 6 23 10 20 12 40 32 36 40 30 46 24 52 14 48 6 52 -7 56 -13 44 -22 48 -28 44 -36 42 -38 32 -23 14 -20 10 -18 6 -19 4zM446 429l-34-3 -26-7 -23-11 -5-6 0-4 12-10 22-9 26-6 30-2 3 1 1 4 1 34 -1 11 -6 8zM672 428l-18 1 -3-1 -3-7 -1-29 1-16 2-5 24 1 31 6 25 10 12 10 0 4 -3 4 -17 10 -24 8 -26 4zM1294 426l11-10 7-16 -7-16 -11-11 -11 11 -7 16 7 16 5 6 6 4zM1514 813l-12-6 -14-11 -14-14 -11-14 -4-10 9-26 -8-1 -4-2 -3-7 11-22 14-20 16-14 14-6 6 1 1 3 -5 26 8 6 16 25 20 36 5 13 -5 10 -12 13 -14 12 -14 8z"/><path id="b49" d="M1514 59l-12-1 -12-6 -12-10 -13-16 -10-18 3-8 7-12 91 0 -2 8 -16 28 -24 35zM1220 752l-36 1 -36-2 -36-6 -34-9 -34-13 -32-16 -30-18 -28-22 -23-21 -19-22 -18-24 -14-24 -20-53 -15-59 -9-26 -3-16 -1-30 2-24 29-102 20-48 15-24 18-23 22-24 26-22 28-20 28-16 30-14 32-11 32-8 34-6 32-1 32 0 34 4 34 6 104 27 32 13 25 15 15 12 13 14 11 16 10 18 44 108 10 32 5 26 2 72 -2 44 -5 24 -14 46 -30 76 -13 28 -15 22 -15 16 -18 14 -21 12 -26 12 -102 34 -36 8 -34 4zM34 686l-20 0 -26-7 0-570 20-5 18-3 18 2 20 6 20 9 20 12 40 31 35 39 30 46 22 48 15 48 6 50 -7 54 -11 41 -22 49 -28 45 -34 40 -38 32 -40 22 -20 8 -18 3zM1297 428l12-12 6-16 -8-18 -6-8 -7-4 -7 4 -6 8 -8 18 4 12 7 10 8 7 5-1zM446 429l-30-3 -29-8 -19-10 -6-6 0-4 12-10 22-9 28-6 26-1 3 10 -1 38 -6 9zM662 428l-10 0 -4-8 -1-38 3-10 26 1 28 6 22 9 12 10 0 4 -3 4 -19 11 -24 7 -30 4zM1514 812l-12-6 -14-10 -14-14 -10-14 -4-10 13-30 -11-1 -6-5 8-18 14-20 16-15 14-6 4 0 1 5 -6 24 1 4 6-1 6 7 22 35 16 33 -5 10 -11 13 -16 13 -12 6z"/><path id="b50" d="M1514 57l-12-2 -12-6 -12-10 -12-15 -10-18 9-18 90 0 -3 9 -16 28 -22 32zM1226 748l-36 2 -36-2 -36-5 -34-9 -34-12 -32-15 -30-18 -28-21 -24-22 -22-24 -17-24 -15-25 -19-51 -26-96 -1-30 1-26 26-92 20-52 14-24 17-24 22-24 24-22 27-20 29-17 30-15 32-12 32-8 32-6 32-2 32 0 34 3 34 6 106 27 32 13 26 15 14 12 14 14 20 32 44 106 9 30 6 28 2 74 -2 44 -4 24 -15 48 -28 70 -13 28 -15 22 -15 16 -17 14 -20 12 -24 11 -100 34 -34 8 -34 5zM38 678l-22 0 -28-8 0-552 22-7 18-2 16 2 20 6 20 8 20 12 38 30 34 37 30 46 22 46 14 46 5 50 -6 54 -9 36 -21 48 -29 46 -34 39 -36 31 -38 21 -18 7 -18 4zM1296 432l14-13 8-19 -9-20 -7-9 -8-5 -8 5 -7 9 -9 20 4 12 6 10 10 9 6 1zM448 427l-22-1 -30-7 -21-9 -8-6 -2-4 2-4 8-6 21-9 26-6 28-3 2 10 1 28 -1 10 -4 7zM672 426l-20 2 -4-8 -1-28 3-20 26 2 26 6 20 8 12 10 0 4 -3 4 -13 8 -22 8 -24 4zM1518 810l-4 2 -6-2 -20-15 -18-19 -9-16 7-18 11-18 -1-2 -10 2 -8-2 -1-4 1-4 11-18 13-15 12-10 12-5 4 2 -1 4 -9 28 12-2 4 4 18 27 22 41 -3 8 -11 13 -14 12 -12 7z"/><path id="b51" d="M1514 54l-10-1 -14-7 -10-8 -12-14 -11-18 2-6 7-12 89 0 -21 38 -20 28zM1210 746l-34 0 -34-3 -34-6 -34-10 -32-12 -32-17 -28-18 -28-22 -22-21 -20-23 -16-24 -14-24 -20-56 -19-72 -3-20 -1-30 3-22 28-102 11-28 11-20 16-24 18-22 23-24 25-20 28-19 30-17 30-13 32-10 32-7 34-4 30-1 32 1 32 5 34 6 98 27 30 13 23 15 26 26 20 34 43 102 10 34 4 30 2 74 -3 38 -5 26 -16 49 -27 65 -14 28 -15 21 -17 17 -19 14 -22 12 -28 12 -96 31 -36 7 -36 4zM40 670l-22 0 -30-9 0-534 22-7 20-3 16 2 20 6 38 19 36 28 34 38 28 42 23 48 13 44 5 48 -6 54 -9 34 -20 46 -28 44 -32 38 -36 31 -36 20 -18 7 -18 4zM1298 434l14-14 9-20 -3-10 -7-12 -9-10 -8-5 -8 5 -9 10 -7 12 -3 10 5 14 8 12 12 9 6-1zM448 426l-26-2 -26-6 -18-8 -9-10 9-10 18-8 26-6 28-3 2 9 1 28 -1 10 -4 6zM664 426l-12 1 -4-7 -1-28 3-19 26 2 24 6 20 8 10 9 0 4 -3 4 -17 10 -21 6 -25 4zM1470 720l-8-2 0-2 14-23 18-18 10-5 5 0 -5 20 -10 17 -12 10 -12 3zM1516 811l-4 0 -10-5 -16-13 -16-17 -8-14 11-24 13-18 16-15 12-4 20 26 18 32 5 13 -6 10 -9 10 -16 13 -10 6z"/><path id="b52" d="M1512 52l-12-3 -12-7 -20-20 -10-18 8-16 88 0 -22 39 -16 23 -4 2zM1218 742l-36 1 -34-2 -34-6 -34-9 -32-12 -32-16 -29-18 -27-21 -24-23 -20-23 -18-25 -14-26 -20-54 -18-70 -3-16 0-30 2-24 25-94 10-28 11-22 15-24 17-22 23-24 24-21 27-19 29-17 30-14 32-11 32-8 32-4 30-2 32 1 32 4 34 6 100 27 30 12 24 15 26 25 11 16 10 18 43 100 10 34 4 28 2 72 -2 42 -5 26 -15 47 -26 62 -14 29 -15 22 -15 16 -18 14 -20 12 -26 12 -98 32 -34 8 -34 4zM44 662l-12 1 -12-1 -32-10 0-516 24-8 20-3 16 2 18 5 18 8 20 11 36 29 32 35 28 43 22 46 12 40 5 48 -6 52 -8 32 -20 46 -26 42 -31 36 -34 30 -36 21 -34 11zM1296 438l9-6 9-9 6-11 4-12 -4-12 -7-12 -9-10 -10-6 -10 6 -9 10 -7 12 -4 12 5 14 7 12 12 10 8 2zM448 426l-26-3 -22-5 -20-10 -7-8 2-4 8-6 18-8 26-6 23-2 2 8 1 28 -1 10 -4 6zM672 424l-20 2 -4-6 -1-28 3-18 23 2 25 6 19 8 9 8 -1 6 -13 9 -20 7 -20 4zM1478 714l-8 2 -4-2 6-12 12-15 12-10 10-4 -2 11 -8 16 -9 10 -9 4zM1516 811l-4 0 -10-5 -16-13 -16-17 -7-14 9-20 13-18 17-16 12-5 8 9 12 17 22 43 -5 10 -9 10 -16 13 -10 6z"/><path id="b53" d="M1514 50l-10-2 -12-6 -11-8 -11-12 -11-18 2-6 6-10 87 0 -22 37 -18 25zM1224 738l-36 2 -34-2 -34-5 -34-9 -32-11 -32-16 -29-17 -27-21 -24-22 -21-23 -17-24 -15-26 -11-24 -9-28 -22-86 -1-30 2-28 22-84 10-29 11-23 15-26 17-22 21-23 24-22 26-19 28-17 30-14 30-12 32-8 32-5 30-2 32 0 32 3 32 5 104 28 30 12 23 14 15 12 12 13 21 33 43 100 10 32 5 28 2 74 -2 40 -5 26 -10 34 -14 36 -27 60 -18 28 -14 16 -17 14 -20 12 -24 11 -96 33 -34 8 -32 4zM46 654l-12 1 -14-1 -32-11 0-498 24-9 22-3 16 2 18 5 36 18 34 27 32 35 27 42 22 46 11 38 5 46 -6 52 -7 28 -19 44 -26 42 -30 36 -33 29 -34 20 -34 11zM1298 440l10-7 8-9 7-12 3-12 -3-12 -8-14 -11-12 -10-6 -10 6 -11 12 -8 14 -3 12 5 16 9 14 14 10 4 2 4-2zM448 425l-25-3 -23-6 -16-8 -7-8 2-4 8-6 19-8 24-5 20-2 2 7 1 28 -2 10 -3 5zM662 424l-10 1 -4-8 0-35 2-7 20 2 24 5 19 8 9 8 0 4 -3 4 -14 8 -18 6 -25 4zM1478 710l-7 0 7-12 14-14 10-5 -2 7 -6 11 -8 9 -8 4zM1516 810l-2 1 -8-3 -18-14 -17-18 -7-12 6-16 14-20 16-16 14-6 8 8 12 18 22 40 -5 10 -11 12 -12 10 -12 6z"/><path id="b54" d="M1514 47l-10-1 -12-6 -20-18 -12-20 7-14 86 0 -21 35 -18 24zM1208 736l-34 0 -32-3 -34-6 -32-10 -32-12 -30-16 -28-18 -26-21 -22-22 -20-23 -17-25 -14-26 -9-24 -10-32 -15-60 -3-20 0-30 2-24 25-92 9-23 14-27 16-24 18-22 22-22 27-22 27-18 29-16 29-12 32-10 32-7 34-4 30 0 30 2 60 10 94 26 28 12 23 15 25 25 19 33 43 100 10 34 4 30 2 48 -2 46 -7 42 -15 44 -28 64 -13 26 -14 20 -15 15 -18 14 -22 12 -26 11 -96 31 -36 8 -34 3zM50 646l-14 2 -14-2 -34-13 0-478 26-11 22-4 14 2 18 5 36 18 34 27 30 34 26 40 22 46 10 36 4 44 -5 52 -7 26 -18 42 -24 39 -28 35 -32 28 -34 21 -32 11zM1295 444l11-6 12-12 7-12 4-14 -4-14 -8-14 -11-12 -12-7 -10 5 -13 14 -8 14 -4 14 4 14 9 15 12 11 11 4zM448 423l-22-2 -20-5 -17-8 -7-8 7-8 17-8 22-5 22-3 2 6 1 28 -2 10 -3 3zM668 422l-16 1 -3-3 -2-26 1-14 2-4 20 2 22 5 16 7 9 8 1 2 -2 4 -12 8 -17 6 -19 4zM1480 705l-2-1 6-8 12-10 -6 11 -10 8zM1516 810l-2 1 -8-4 -20-15 -15-16 -6-12 7-16 12-18 16-15 14-7 20 26 17 30 4 10 -6 10 -11 12 -22 14z"/><path id="b55" d="M1514 45l-10-1 -12-6 -20-18 -11-18 6-14 86 0 -21 33 -18 24zM1216 732l-34 1 -34-2 -34-6 -32-9 -32-12 -30-16 -28-17 -26-21 -22-20 -21-24 -17-24 -14-26 -10-23 -11-33 -15-60 -2-18 -1-30 2-26 22-84 8-24 14-28 15-24 18-22 22-24 24-20 28-20 28-16 30-13 30-10 32-8 32-4 30-1 30 1 60 10 98 26 28 12 22 14 26 25 19 32 42 98 10 32 5 30 2 50 -1 46 -7 42 -14 42 -28 64 -13 26 -14 20 -15 16 -18 14 -20 11 -24 11 -94 31 -34 7 -32 4zM52 638l-14 2 -14-2 -18-6 -18-8 0-460 26-11 24-5 14 2 18 5 34 17 32 26 30 33 26 40 20 43 10 36 4 42 -5 50 -6 24 -18 42 -23 38 -28 34 -30 27 -32 20 -32 11zM1297 446l11-6 12-12 8-14 4-14 -5-16 -8-14 -13-13 -12-7 -12 6 -13 14 -8 14 -5 16 5 16 10 16 15 12 6 2 5 0zM448 422l-20-2 -21-6 -13-6 -7-8 8-8 15-7 19-5 21-2 2 4 0 28 -1 10 -3 2zM654 422l-5-2 -1-10 0-28 2-4 20 2 17 4 15 6 10 8 1 2 -3 4 -14 9 -20 6 -22 3zM1514 811l-14-7 -14-12 -15-16 -5-10 7-16 13-20 16-14 12-6 20 26 21 38 -6 10 -11 11 -16 12 -8 4z"/><path id="b56" d="M1514 43l-10-2 -10-4 -10-7 -10-10 -12-20 6-12 84 0 -38 55zM1224 728l-34 2 -32-2 -34-5 -32-8 -32-11 -30-14 -28-17 -28-20 -24-22 -21-23 -17-24 -15-26 -13-28 -9-26 -17-78 -2-30 2-28 19-76 9-26 13-28 15-25 17-23 21-23 24-21 24-18 28-17 30-14 30-11 30-8 32-5 30-2 30 1 60 8 102 27 26 11 23 14 26 24 19 31 43 97 10 32 5 30 2 52 -1 44 -6 42 -10 30 -13 32 -28 61 -17 27 -13 15 -16 13 -19 12 -23 11 -92 31 -32 7 -32 5zM54 630l-14 2 -16-3 -18-6 -18-8 0-442 28-12 24-5 14 2 16 4 34 18 32 25 28 32 26 39 19 42 9 32 4 42 -5 48 -6 24 -17 40 -23 38 -26 32 -29 26 -32 20 -30 10zM1298 448l13-8 12-12 8-14 4-14 -5-16 -9-16 -14-14 -13-7 -12 6 -14 14 -10 17 -5 16 6 18 11 17 16 12 8 2 4-1zM450 420l-16-1 -21-5 -13-6 -7-8 7-8 13-6 19-5 18-2 2 2 1 17 -1 16 -2 6zM660 420l-10 0 -2-6 0-32 2-3 18 2 18 5 14 6 7 6 0 2 -2 4 -11 7 -16 6 -18 3zM1514 811l-14-8 -14-11 -14-16 -5-10 7-16 15-20 13-12 12-5 18 22 22 39 -5 10 -9 9 -12 10 -14 8z"/><path id="b57" d="M1514 41l-8-1 -12-5 -18-15 -13-20 5-12 84 0 -38 53zM1204 726l-32 0 -32-3 -32-7 -32-9 -31-13 -29-16 -27-18 -25-20 -22-22 -19-24 -16-24 -14-26 -9-23 -9-31 -12-50 -3-26 0-28 3-24 12-52 9-31 11-27 14-26 17-24 18-22 23-22 25-20 27-18 29-15 30-12 30-9 32-6 32-3 56 2 58 10 90 26 26 11 22 15 18 17 14 20 40 86 18 50 5 24 3 20 1 44 -2 46 -7 42 -14 40 -31 68 -11 22 -14 19 -15 15 -17 12 -20 11 -25 11 -93 30 -36 7 -34 3zM44 624l-26-5 -30-14 0-422 28-13 26-6 14 2 16 4 32 17 30 24 28 31 25 38 19 42 8 30 4 42 -6 48 -6 24 -18 40 -24 38 -28 31 -30 25 -32 17 -16 5 -14 2zM1299 450l14-8 12-12 8-14 5-16 -6-18 -10-16 -14-14 -14-8 -14 7 -14 14 -10 17 -6 18 7 20 13 18 18 12 6 2 5-2zM1124 444l2-44 -2-44 -2 46 2 42zM450 419l-16-1 -18-5 -13-7 -5-6 5-6 13-7 18-5 16-1 2 1 1 16 -1 15 -2 6zM664 418l-14 1 -2-9 0-28 12-1 20 5 14 6 7 6 0 4 -9 7 -28 9zM1514 810l-14-7 -12-9 -15-16 -5-10 7-16 15-21 12-11 12-5 8 8 12 17 20 36 -7 10 -9 9 -16 12 -8 3z"/><path id="b58" d="M1514 39l-8-1 -12-5 -18-15 -12-18 0-4 4-8 83 0 -37 51zM1214 722l-32 1 -32-2 -32-6 -32-9 -30-11 -30-15 -26-16 -26-20 -22-21 -20-23 -17-24 -15-26 -12-28 -9-28 -12-50 -3-22 -1-30 2-26 17-72 12-30 12-26 16-25 18-23 22-23 24-21 26-18 28-15 30-14 30-9 30-7 32-4 56 0 58 9 96 27 26 11 21 14 24 24 18 30 42 96 10 34 5 28 1 48 -1 44 -7 42 -14 40 -30 66 -11 22 -13 18 -13 14 -16 13 -19 11 -23 10 -92 31 -34 7 -32 4zM48 616l-12-1 -16-4 -32-16 0-402 29-15 27-6 14 1 14 4 32 17 30 24 26 29 24 37 18 40 8 30 3 40 -5 48 -6 22 -17 38 -23 36 -26 30 -30 25 -30 16 -28 7zM1124 490l5-92 -5-89 -5 93 5 88zM1300 452l16-10 12-12 8-14 5-16 -6-18 -11-18 -14-14 -16-8 -15 6 -13 13 -12 19 -7 20 8 22 13 18 18 12 8 2 6-2zM450 418l-16-2 -14-4 -12-6 -5-6 5-6 12-6 16-4 16-2 0 28 -2 8zM650 418l-2-8 0-28 16 2 16 4 12 6 5 6 -5 6 -12 6 -14 4 -16 2zM1514 810l-14-7 -12-9 -14-16 -5-10 9-18 14-18 12-11 10-4 18 22 21 37 -6 10 -9 9 -16 12 -8 3z"/><path id="b59" d="M1514 36l-18-4 -18-14 -14-20 5-10 82 0 -37 48zM1222 718l-32 2 -32-2 -32-5 -32-8 -30-10 -30-14 -28-17 -24-18 -24-21 -20-22 -18-25 -14-24 -13-28 -11-30 -14-68 -1-30 2-30 15-68 10-28 12-26 15-26 17-22 20-22 24-22 24-18 28-17 28-13 30-11 30-7 30-5 56-2 58 8 102 28 24 10 21 13 24 22 19 30 42 96 10 32 6 28 2 50 -2 44 -6 40 -9 28 -11 28 -30 64 -17 26 -13 15 -16 13 -38 20 -90 30 -32 8 -30 4zM52 608l-14-1 -16-4 -16-7 -18-11 0-382 30-17 28-6 26 5 31 15 29 23 26 30 23 35 17 38 8 28 3 40 -5 46 -6 22 -16 36 -21 34 -25 29 -28 23 -28 16 -28 8zM1125 492l6-68 1-28 -5-74 -3-15 -3 17 -5 80 5 76 2 10 1 3 1-1zM1295 456l17-8 16-14 10-16 6-18 -7-20 -11-18 -14-14 -18-9 -16 7 -13 12 -13 20 -8 22 7 20 12 18 15 13 17 5zM450 417l-26-6 -10-5 -5-6 5-6 10-5 14-4 14-2 0 27 -2 7zM656 416l-6 1 -2-5 0-29 26 5 10 5 7 5 0 4 -8 6 -13 5 -14 3zM1518 809l-4 1 -4-1 -18-12 -13-13 -9-14 6-14 14-19 12-12 12-6 18 22 21 35 -5 8 -8 9 -22 16z"/><path id="b60" d="M1514 34l-18-5 -18-13 -13-18 4-10 81 0 -36 46zM1202 716l-32 0 -30-4 -32-6 -30-9 -30-13 -28-15 -26-18 -24-20 -21-21 -18-22 -16-24 -13-26 -12-29 -9-31 -8-38 -3-28 1-30 3-26 8-38 10-32 11-28 15-26 16-24 19-22 22-22 25-19 26-17 28-15 30-11 30-9 30-6 32-2 54 2 54 10 88 25 24 11 20 14 16 15 14 20 40 86 17 48 6 24 2 18 1 42 -1 46 -8 40 -13 38 -33 70 -10 20 -12 16 -14 14 -17 13 -20 11 -22 9 -90 29 -36 7 -34 3zM54 600l-14-1 -18-5 -17-8 -17-11 0-362 32-19 16-5 14-1 26 5 28 15 28 23 24 27 22 34 17 38 7 26 3 38 -6 46 -5 20 -15 34 -21 33 -24 28 -26 22 -28 16 -26 7zM1124 496l3-6 2-16 5-76 -5-74 -2-14 -3-6 -3 6 -2 14 -5 78 5 74 3 16 2 4zM1295 458l19-9 15-13 11-16 6-20 -6-20 -12-20 -16-15 -18-8 -16 6 -15 13 -14 22 -7 22 7 22 13 19 16 12 17 5zM450 415l-14-2 -14-5 -8-6 0-4 6-5 10-5 22-3 0 25 -2 5zM660 414l-10 1 -2-3 0-27 12 1 14 4 8 4 5 6 -8 8 -19 6zM1518 808l-4 2 -4-2 -20-13 -16-17 -4-8 8-15 14-18 12-11 10-4 16 18 23 36 -5 8 -8 9 -22 15z"/><path id="b61" d="M1514 32l-18-5 -16-11 -14-19 3-9 81 0 -36 44zM1212 712l-32 1 -30-3 -32-5 -30-9 -30-11 -28-14 -26-17 -24-18 -22-21 -20-23 -16-23 -14-25 -12-28 -10-30 -8-36 -4-28 0-30 2-28 7-36 8-30 11-28 12-26 16-25 18-23 21-22 24-20 26-18 27-15 28-12 30-10 30-7 30-3 54 0 56 9 94 26 24 11 20 13 22 22 16 28 42 94 10 34 5 28 1 46 -1 44 -7 38 -8 26 -12 28 -30 64 -17 26 -13 14 -15 12 -39 19 -90 30 -32 7 -32 4zM58 592l-14 0 -18-5 -19-9 -19-13 0-342 16-11 18-9 16-6 14-2 24 6 28 14 26 21 25 28 20 32 16 36 7 24 3 38 -6 44 -4 18 -14 32 -20 32 -23 28 -24 21 -26 15 -26 8zM1125 498l4-8 3-18 5-50 0-28 -6-72 -3-16 -4-5 -4 7 -3 18 -6 52 0 28 6 74 4 16 3 3 1-1zM1296 460l20-10 16-13 11-17 6-20 -7-22 -13-20 -15-14 -20-9 -18 6 -14 12 -16 24 -7 23 7 22 14 21 18 13 18 4zM450 414l-12-2 -12-4 -8-6 0-4 14-9 20-3 0 24 -2 4zM652 414l-4-2 0-26 20 3 14 9 0 4 -8 6 -22 6zM1518 808l-4 2 -4-2 -18-12 -13-12 -8-12 7-14 14-18 12-12 10-4 14 16 24 36 -1 4 -11 13 -22 15z"/><path id="b62" d="M1514 30l-18-5 -16-11 -13-18 3-8 79 0 -35 42zM1220 708l-32 1 -30-1 -32-5 -30-8 -28-10 -29-13 -26-16 -25-18 -22-20 -20-22 -18-24 -14-24 -12-26 -11-30 -7-30 -5-32 -2-30 2-30 5-32 8-32 10-28 12-26 14-24 18-24 20-22 22-20 26-19 26-15 28-13 28-10 30-8 30-4 54-1 54 7 100 28 22 9 20 12 22 21 17 27 43 96 9 30 6 28 2 48 -2 44 -6 36 -8 26 -11 28 -31 66 -15 24 -13 14 -15 12 -36 19 -88 30 -30 7 -30 4zM60 584l-14 0 -20-6 -19-10 -19-14 0-320 16-12 18-10 16-6 16-3 24 6 26 13 26 22 22 25 20 31 15 34 7 24 2 36 -5 42 -4 18 -13 30 -18 30 -22 26 -24 22 -26 15 -24 7zM1127 500l4-12 3-20 6-46 0-30 -7-72 -4-16 -5-6 -5 8 -5 20 -5 50 -1 32 8 78 5 14 3 2 3-2zM1296 462l21-10 17-14 12-18 6-20 -7-22 -14-22 -16-14 -21-10 -18 6 -16 13 -16 25 -8 24 8 24 14 20 18 13 12 4 8 1zM450 413l-20-5 -8-6 0-4 13-8 17-3 0 23 -2 3zM658 412l-8 1 -2-2 0-24 20 4 9 5 2 4 -5 6 -16 6zM1518 808l-4 1 -4-1 -20-13 -11-11 -7-12 8-14 12-16 12-11 10-5 12 13 26 37 -1 4 -11 13 -22 15z"/><path id="b63" d="M1514 28l-16-4 -16-10 -14-18 2-8 79 0 -13 17 -22 23zM1198 706l-32-1 -30-4 -30-6 -28-9 -28-12 -28-16 -26-18 -22-19 -20-21 -18-22 -15-24 -13-26 -11-28 -8-30 -6-32 -2-30 0-30 4-28 7-32 9-30 13-28 13-24 17-24 18-21 22-21 24-19 26-16 28-14 28-11 30-8 30-5 30-3 50 3 52 10 86 25 22 10 20 14 14 14 12 18 42 90 16 46 6 38 0 82 -8 40 -14 38 -32 70 -10 18 -12 16 -14 13 -16 11 -19 10 -23 9 -86 28 -34 6 -34 3zM64 576l-16 0 -20-6 -20-11 -20-16 0-298 16-13 18-11 18-7 16-3 24 6 24 12 24 20 22 25 19 30 14 32 6 22 3 34 -2 22 -7 38 -12 28 -17 28 -20 25 -22 20 -24 15 -24 8zM1126 504l5-10 5-22 6-50 1-28 -8-74 -5-18 -6-7 -6 7 -6 22 -6 52 -1 30 1 22 8 56 6 18 4 3 2-1zM1296 464l22-10 18-14 12-18 7-22 -7-23 -15-23 -17-14 -22-10 -20 7 -16 12 -17 27 -8 24 8 24 15 22 18 12 14 5 8 1zM452 411l-4 1 -12-3 -9-5 -2-4 2-4 7-4 18-4 0 23zM660 410l-10 2 -2-1 0-23 14 2 13 8 0 2 -2 4 -13 6zM1516 809l-10-3 -16-11 -11-11 -6-10 6-12 13-17 12-11 10-5 30 35 8 14 -12 14 -24 17z"/><path id="b64" d="M1512 26l-16-5 -14-9 -13-16 -1-4 2-4 78 0 -16 20 -18 18 -2 0zM1210 702l-30 1 -30-3 -30-5 -30-9 -28-11 -27-13 -25-16 -24-19 -22-21 -18-21 -16-23 -14-25 -12-27 -9-30 -7-30 -3-30 -1-30 2-28 6-32 9-30 11-28 12-24 15-24 18-22 21-22 22-19 25-17 27-15 28-12 28-9 30-6 30-4 50 1 52 8 94 27 22 10 18 12 20 20 15 26 42 94 10 32 5 28 0 86 -7 38 -19 52 -30 64 -16 24 -12 13 -15 11 -37 19 -86 29 -32 6 -32 4zM66 568l-16 0 -22-7 -20-12 -20-17 0-276 18-15 18-12 18-7 16-3 22 5 24 12 24 20 20 23 18 29 14 30 5 20 3 34 -2 20 -7 38 -11 26 -16 27 -20 25 -22 19 -22 14 -22 7zM1127 506l7-12 5-22 6-50 1-30 -9-74 -6-18 -3-5 -4-3 -4 3 -3 5 -7 22 -7 54 -1 32 2 22 9 58 7 17 4 3 3-2zM1296 466l24-11 19-15 12-18 7-22 -8-24 -16-24 -17-14 -23-10 -22 7 -16 12 -18 29 -8 24 8 24 16 24 20 13 14 4 8 1zM452 410l-8 0 -10-4 -5-4 0-4 9-6 14-3 0 21zM654 410l-6 0 0-21 14 3 7 4 2 4 -5 6 -12 4zM1516 809l-9-3 -17-12 -10-10 -6-10 8-14 12-15 12-10 8-4 28 31 10 16 -12 14 -24 17z"/><path id="b65" d="M1516 22l-4 2 -8-2 -18-9 -16-17 -1-4 2-4 77 0 -16 20 -16 14zM1218 698l-30 1 -30-1 -30-5 -28-7 -28-10 -28-13 -26-16 -23-17 -23-20 -18-20 -18-24 -14-24 -12-26 -10-28 -7-28 -4-30 -2-28 2-30 4-30 7-30 10-28 12-26 14-24 17-22 20-22 22-20 23-17 26-16 28-13 28-10 28-7 30-4 52-1 52 7 98 27 22 10 18 11 19 19 15 24 43 96 10 30 5 26 1 46 -1 44 -6 34 -18 50 -32 68 -14 22 -10 12 -14 11 -34 18 -86 30 -30 7 -30 4zM68 560l-16 0 -22-7 -22-14 -20-19 0-252 18-17 18-12 19-9 17-3 22 5 22 12 22 18 19 22 17 26 14 30 5 20 3 32 -2 18 -7 38 -10 24 -15 26 -18 22 -22 20 -22 14 -20 6zM1126 510l8-10 6-24 8-52 1-28 -1-22 -9-56 -7-21 -4-6 -4-2 -4 2 -5 7 -7 22 -7 54 -1 32 1 24 9 56 8 20 4 4 4 0zM1296 468l24-11 20-15 16-22 6-20 -6-20 -20-30 -19-14 -23-10 -24 7 -16 13 -19 28 -6 14 -3 12 4 14 5 12 17 24 20 12 16 5 8 1zM452 409l-14-3 -5-4 0-4 9-6 10-1 0 18zM656 409l-8 0 0-18 12 2 8 7 -3 4 -9 5zM1516 808l-5 0 -13-7 -15-13 -8-12 4-10 13-16 12-11 10-6 26 27 11 18 -13 16 -22 14z"/><path id="b66" d="M1514 23l-16-5 -14-8 -12-14 -2-4 1-4 76 0 -15 19 -18 16zM1224 694l-30 2 -30-1 -30-4 -28-7 -28-9 -26-12 -26-15 -23-16 -23-19 -20-21 -17-22 -15-24 -12-24 -10-28 -8-28 -5-28 -2-30 1-28 3-30 6-28 9-28 12-28 13-24 17-24 19-22 21-19 24-19 24-15 26-13 28-10 28-8 30-5 52-2 54 7 100 27 20 9 18 10 20 20 15 24 42 94 9 28 6 26 2 48 -1 42 -5 32 -18 50 -32 69 -13 21 -11 13 -14 11 -32 18 -84 29 -28 7 -28 4zM72 552l-18 0 -22-8 -22-14 -22-22 0-228 18-18 18-14 20-10 18-3 20 4 22 12 21 17 19 22 16 26 12 28 5 16 2 32 -1 18 -7 36 -9 22 -13 22 -17 23 -20 18 -20 14 -20 7zM1128 512l9-14 6-24 8-50 1-32 -2-22 -9-56 -8-20 -5-6 -4-1 -6 3 -4 6 -8 24 -8 54 -1 36 6 52 6 30 9 18 4 3 6-1zM1296 470l30-14 27-22 10-14 6-20 -3-12 -5-12 -20-24 -20-16 -27-12 -26 8 -10 6 -11 10 -20 28 -5 12 -3 12 3 14 6 12 10 13 13 13 20 12 15 5 10 1zM452 408l-6 0 -7-4 -3-4 1-2 7-5 8-1 0 16zM652 408l-4 0 0-16 10 2 6 6 -3 4 -9 4zM1516 808l-5 0 -13-8 -15-12 -8-12 2-6 15-18 12-11 10-5 24 23 13 19 -13 16 -22 14z"/><path id="b67" d="M1516 20l-2 2 -8-3 -20-10 -13-13 -2-4 0-4 76 0 -15 18 -16 14zM1208 692l-30 0 -28-2 -30-6 -28-8 -28-11 -26-13 -24-16 -22-17 -20-19 -19-22 -15-22 -14-25 -11-27 -9-28 -6-26 -3-30 0-30 2-30 5-28 7-26 10-26 13-26 15-24 18-22 21-21 22-19 24-16 25-14 27-11 28-9 28-6 30-4 48 1 50 8 92 27 20 9 17 11 15 14 11 16 39 84 15 40 8 38 0 86 -6 34 -19 50 -31 66 -14 22 -12 12 -13 10 -36 18 -84 28 -32 7 -30 3zM74 544l-18 1 -24-10 -23-17 -21-23 0-202 18-20 20-16 20-11 18-4 20 5 20 11 20 16 17 20 15 24 12 26 4 18 3 30 -1 18 -7 34 -8 20 -12 22 -17 21 -18 17 -20 13 -18 7zM1126 516l4-2 6-8 8-24 9-56 1-30 -1-24 -10-58 -9-22 -5-6 -5-2 -5 2 -5 6 -10 26 -9 54 -1 34 2 26 10 56 9 22 5 5 6 1zM1295 472l28-12 33-22 13-16 7-22 -2-12 -5-12 -18-22 -31-21 -26-11 -24 7 -20 9 -8 6 -23 32 -7 24 2 12 5 12 19 24 30 17 16 5 11 2zM452 407l-6-1 -5-4 0-4 5-4 6-1 0 14zM654 406l-6 1 0-14 6 1 5 4 0 4 -5 4zM1516 808l-8-2 -16-10 -10-10 -7-10 5-9 10-11 12-11 12-7 20 17 17 23 -5 8 -8 8 -22 14z"/><path id="b68" d="M1514 21l-14-6 -14-8 -12-12 -2-7 74 0 -16 19 -16 14zM1216 688l-46 1 -46-7 -44-14 -42-20 -37-26 -33-32 -28-37 -20-39 5-46 4-8 13-17 3-11 -3-64 -4-12 -13-22 -5-48 19-38 20-28 23-25 27-23 27-19 30-15 32-13 30-8 37-5 49 0 48 7 94 27 20 8 16 10 18 18 14 22 42 94 9 26 6 28 -1 9 -108 6 -22-21 -38-19 -18-7 -16 4 -36 12 -9 8 -15 22 -62-1 -2-4 -7-43 -9-24 -6-9 -6-4 -6 1 -7 6 -10 22 -9 52 -6 15 -3 43 2 8 5 5 2 5 5 36 6 22 8 16 7 6 6 1 4-2 5-5 6-12 6-18 7-43 2-4 62-1 12 16 8 6 38 14 18 4 18-6 42-22 18-15 108 8 1 9 -5 22 -15 44 -37 80 -10 15 -12 13 -14 11 -18 10 -64 24 -46 14 -44 7zM76 536l-10 2 -10-2 -24-11 -23-19 -21-26 0-172 18-23 20-18 20-12 20-5 18 4 20 11 18 15 17 20 15 24 11 24 3 14 3 30 -2 18 -6 34 -7 17 -11 19 -15 20 -18 17 -18 12 -18 7zM450 406l-4-2 -2-4 2-4 4-2 2 1 0 5 0 5 -2 1zM650 406l-2-1 0-5 0-5 2-1 4 2 2 4 -2 4 -4 2zM1516 808l-8-2 -16-10 -10-10 -7-10 5-8 12-13 12-10 10-5 20 16 16 22 -3 6 -9 10 -22 14z"/><path id="b69" d="M1516 19l-2 1 -6-2 -20-11 -12-11 -4-8 74 0 -14 17 -16 14zM1362 346l-68-28 -30 8 -18 2 -10 4 -14-11 -13-15 -10-18 -6-20 -2-22 2-24 5-20 8-16 13-16 15-13 18-10 16-6 20-4 20-1 44 12 23 10 21 14 16 18 9 16 15 36 0 20 -5 20 -11 22 -15 18 -21 15 -22 9zM78 528l-10 2 -10-2 -12-4 -14-9 -24-22 -20-29 0-140 17-26 20-20 22-14 21-6 16 3 18 10 18 14 16 19 14 22 10 22 4 14 3 30 -2 16 -6 34 -7 16 -10 18 -14 18 -16 16 -18 12 -16 6zM1028 482l-16 2 -14-3 -12-5 -12-10 -8-10 -5-10 -8-40 0-18 2-30 6-20 9-12 12-11 12-7 14-3 22 1 20 11 17 19 8 20 1 46 -7 44 -7 12 -10 11 -12 8 -12 5zM450 405l-2-5 2-5 2 5 -2 5zM650 405l-2-5 2-5 2 5 -2 5zM1320 658l-20 0 -20-2 -20-5 -16-6 -16-10 -14-11 -11-14 -8-14 -6-18 -3-20 0-22 3-20 6-16 9-16 12-14 14-11 64 17 18-6 24-13 30-11 20 8 18 13 14 15 11 18 8 24 2 28 -14 32 -10 18 -16 18 -19 14 -22 11 -38 13zM1514 808l-10-4 -14-10 -13-14 -1-4 16-20 12-10 10-5 10 6 12 12 10 13 4 8 -12 14 -14 10 -10 4z"/><path id="b70" d="M1514 19l-12-4 -14-10 -10-9 -5-8 72 0 -15 18 -16 13zM1356 338l-30-9 -32-13 -26 6 -28 2 -14-12 -11-14 -8-16 -5-20 -2-22 3-20 5-16 8-16 12-14 14-11 20-10 20-6 22-2 24 0 29 9 21 10 18 13 14 17 10 18 7 20 0 26 -6 24 -11 20 -14 15 -18 13 -22 8zM70 522l-18-5 -18-10 -18-17 -15-20 -13-26 0-50 0-52 13-24 15-20 18-17 18-10 18-5 16 3 16 9 18 15 15 17 12 20 10 22 6 42 -9 48 -8 18 -11 18 -15 17 -18 15 -16 9 -16 3zM1024 474l-12 1 -12-2 -12-6 -10-9 -7-10 -4-10 -8-34 2-38 3-12 5-12 7-10 10-10 12-6 12-3 10 0 12 3 10 6 10 9 13 21 4 26 0 32 -10 36 -6 10 -9 8 -10 7 -10 3zM1336 648l-42 1 -20-3 -16-5 -16-8 -14-9 -12-12 -10-14 -7-16 -4-18 0-22 2-18 5-16 8-16 10-12 14-12 26 1 34 9 16-5 24-12 28-7 16 7 16 10 14 13 10 14 8 22 4 26 -2 22 -10 22 -14 20 -18 16 -24 13 -26 9zM1514 808l-10-4 -14-10 -13-14 -1-4 6-9 12-12 20-13 20 15 12 15 4 8 -12 14 -14 10 -10 4z"/><path id="b71" d="M1514 18l-10-3 -12-8 -11-9 -7-10 70 0 -14 17 -16 13zM1356 332l-4 1 -28-7 -30-12 -24 5 -26 0 -13-11 -10-12 -8-14 -5-18 -2-20 2-20 5-18 8-14 10-12 13-11 18-10 22-6 24-3 28 2 22 6 20 10 16 12 12 14 12 22 3 14 0 26 -5 22 -9 18 -13 15 -16 12 -22 9zM74 514l-16-3 -16-9 -16-14 -15-18 -15-28 -6-48 3-40 6-16 11-19 14-17 16-15 16-9 16-4 16 3 16 9 16 14 13 16 11 18 9 20 5 40 -8 46 -6 15 -10 16 -14 17 -16 14 -16 9 -14 3zM1024 468l-12 1 -10-2 -10-4 -10-9 -11-18 -7-32 1-32 4-16 4-10 7-11 10-9 10-5 10-2 10 0 10 3 10 6 9 8 11 20 5 26 -1 28 -9 32 -13 17 -18 9zM1338 642l-42 1 -18-2 -18-6 -14-6 -14-10 -11-11 -9-12 -7-16 -4-16 -1-20 2-18 5-16 8-14 9-12 14-12 26 1 30 7 36-15 28-6 16 6 16 10 12 11 10 14 8 20 4 20 -1 26 -7 20 -13 20 -17 16 -26 14 -22 6zM1518 806l-6 1 -14-7 -14-12 -7-10 3-7 12-14 12-9 10-5 20 15 12 15 3 7 -11 14 -20 12z"/><path id="b72" d="M1516 16l-2 1 -6-1 -14-8 -12-10 -8-10 70 0 -12 14 -16 14zM1352 329l-32-7 -26-9 -20 3 -26-1 -12-8 -11-13 -8-14 -4-16 -2-18 1-20 5-16 7-14 9-12 13-11 18-9 22-7 24-2 28 2 18 4 20 10 15 11 12 14 9 16 5 20 0 24 -6 22 -10 18 -13 14 -16 11 -20 8zM78 506l-14-2 -16-8 -16-13 -14-17 -13-24 -6-48 2-38 5-14 11-18 12-16 15-13 16-10 14-3 14 3 14 7 15 12 13 16 10 16 8 18 6 40 -8 44 -13 26 -13 16 -14 13 -14 9 -14 4zM1020 464l-10 1 -10-3 -8-5 -8-7 -11-22 -5-28 2-32 8-22 15-16 9-5 10-2 10 1 10 4 16 14 9 18 4 28 -2 26 -9 28 -14 16 -16 6zM1332 638l-38 0 -32-7 -16-8 -12-8 -11-11 -8-12 -6-14 -3-16 -1-20 2-16 4-14 8-14 9-11 12-10 26-2 28 7 34-14 28-5 18 7 14 10 12 11 9 13 8 20 2 24 -2 24 -8 20 -15 18 -18 14 -20 9 -24 5zM1518 806l-6 1 -14-7 -14-12 -7-10 4-8 11-12 12-9 10-6 20 16 12 15 3 6 -11 13 -20 13z"/><path id="b73" d="M1514 17l-10-4 -12-7 -17-18 68 0 -13 16 -16 13zM1352 324l-6 1 -22-5 -30-9 -18 2 -26-1 -12-9 -9-11 -8-14 -4-14 -2-18 1-18 4-14 6-14 10-13 12-10 18-10 20-6 24-2 26 1 20 5 16 7 16 12 12 14 8 16 5 20 -1 22 -4 20 -9 16 -13 14 -16 11 -18 7zM80 498l-12-1 -16-8 -14-12 -13-15 -11-22 -7-46 2-36 5-12 9-16 12-16 13-12 14-9 14-3 12 2 14 7 14 12 13 15 15 30 6 38 -8 42 -12 24 -12 15 -12 11 -14 9 -12 3zM1020 460l-10 0 -8-2 -8-4 -7-8 -10-20 -6-26 2-28 7-22 14-16 8-4 10-3 10 1 8 3 14 13 9 18 4 26 -2 24 -8 26 -11 14 -16 8zM1330 634l-36 0 -32-8 -14-6 -12-9 -17-21 -6-14 -3-14 -1-18 2-16 4-14 7-13 9-11 12-10 25-2 26 6 32-12 28-5 16 6 14 9 12 11 9 13 8 20 2 24 -3 22 -8 20 -13 16 -17 13 -20 8 -24 5zM1518 806l-6 1 -14-7 -14-12 -7-10 5-8 10-11 12-10 10-5 20 16 10 12 4 8 -10 13 -20 13z"/><path id="b74" d="M1516 15l-6 0 -14-7 -12-10 -9-10 67 0 -11 14 -15 13zM1352 320l-6 2 -12-2 -40-11 -16 2 -26-2 -18-17 -8-12 -5-14 -2-16 0-18 3-14 7-14 8-12 11-10 16-10 20-6 22-3 24 1 20 3 17 7 15 10 12 12 9 16 5 18 1 22 -4 20 -8 16 -12 14 -15 11 -18 7zM84 490l-12 0 -14-7 -14-11 -11-14 -10-18 -7-46 2-36 12-24 11-14 13-12 12-7 12-4 12 3 12 6 12 10 12 14 14 28 5 34 -1 14 -6 26 -8 20 -10 13 -12 12 -12 8 -12 5zM1020 456l-8 1 -8-2 -14-11 -10-20 -5-24 2-26 7-22 12-15 8-4 8-2 16 4 14 12 7 17 4 24 -2 24 -7 24 -10 13 -14 7zM1332 630l-36 0 -30-6 -25-14 -17-20 -7-14 -3-14 -1-16 1-16 5-14 6-12 9-11 10-9 26-3 24 5 30-11 28-5 15 6 13 8 11 10 9 12 8 18 3 22 -2 22 -7 20 -12 15 -16 13 -20 9 -22 5zM1516 807l-8-2 -12-7 -12-10 -6-10 5-8 11-12 20-13 20 16 14 19 0 2 -10 11 -22 14z"/><path id="b75" d="M1514 15l-20-9 -10-8 -8-10 65 0 -11 14 -16 13zM1344 318l-34-6 -16-5 -12 1 -27-2 -11-8 -10-12 -7-14 -3-14 -1-16 1-16 4-12 6-12 10-12 11-8 17-9 18-5 20-1 24 1 20 5 16 7 14 10 10 12 8 16 3 18 -1 22 -5 18 -8 14 -13 13 -16 9 -18 6zM86 482l-10 0 -12-5 -12-9 -12-14 -8-16 -8-42 3-36 7-18 10-14 12-11 12-8 12-4 10 2 12 6 12 11 10 12 12 24 5 32 -5 31 -5 15 -5 11 -18 21 -12 8 -10 4zM1020 452l-14-1 -13-9 -9-18 -5-24 1-24 7-22 11-14 14-5 14 3 13 12 7 14 3 24 -1 22 -7 22 -9 13 -12 7zM1334 626l-34 1 -30-6 -25-13 -11-10 -7-10 -6-12 -4-14 0-16 1-16 4-12 6-12 8-10 12-10 26-2 20 4 26-10 30-5 14 6 14 8 10 9 9 12 7 16 3 20 -1 22 -7 18 -11 16 -14 12 -18 9 -22 5zM1516 806l-6 0 -14-8 -18-18 4-8 10-11 12-10 10-5 21 16 9 12 4 8 -10 11 -22 13z"/><path id="b76" d="M1514 14l-20-9 -17-17 63 0 -13 16 -13 10zM1346 314l-12 0 -40-9 -36-2 -10-7 -9-10 -7-12 -4-14 -2-14 1-16 3-12 6-12 8-10 10-9 16-9 18-5 20-3 22 1 18 3 16 7 14 9 11 12 8 14 4 18 0 20 -4 18 -8 14 -11 12 -14 9 -18 7zM88 474l-8 1 -12-5 -10-8 -11-12 -6-14 -8-40 2-34 7-16 18-22 12-8 10-3 10 2 10 5 19 20 11 20 5 32 -4 24 -11 30 -16 19 -18 9zM1020 448l-12 0 -12-8 -9-18 -5-22 2-24 6-20 9-12 13-5 14 3 10 10 6 14 4 20 -1 22 -6 20 -9 14 -10 6zM1336 622l-34 2 -30-6 -24-12 -17-18 -6-12 -4-14 1-30 3-12 6-12 9-11 10-8 26-2 18 2 22-7 32-5 26 12 11 9 8 10 7 16 4 18 -2 22 -6 18 -9 14 -14 12 -17 9 -20 5zM1516 806l-6-1 -14-7 -10-8 -8-10 4-8 10-10 12-10 10-5 20 15 13 20 -9 11 -22 13z"/><path id="b77" d="M1516 12l-6 0 -12-5 -12-9 -9-10 62 0 -15 18 -8 6zM1338 312l-44-9 -34-3 -11-8 -10-12 -6-12 -3-12 0-16 2-14 4-12 6-10 18-17 15-7 17-5 20-1 22 1 18 5 14 6 13 10 10 12 7 16 2 16 -1 18 -5 16 -9 14 -13 11 -16 9 -16 4zM90 466l-8 1 -10-4 -10-8 -7-9 -6-12 -8-40 3-32 6-14 8-11 10-9 10-5 8-2 8 2 10 6 16 18 8 17 5 30 -4 20 -10 28 -13 15 -16 9zM1020 444l-12 0 -10-8 -8-16 -4-20 1-20 5-20 8-12 12-6 12 3 9 9 6 12 3 20 0 20 -5 18 -7 13 -10 7zM1322 620l-30-1 -26-7 -20-13 -14-17 -5-12 -3-12 2-28 10-22 16-16 26-3 16 2 20-6 30-5 14 4 14 8 12 10 8 12 7 18 1 20 -3 18 -7 16 -12 13 -16 11 -18 7 -22 3zM1514 806l-12-5 -12-8 -11-13 3-7 10-10 12-10 10-5 19 14 13 20 -5 8 -9 8 -18 8z"/><path id="b78" d="M1514 13l-20-10 -16-15 60 0 -15 18 -9 7zM1340 308l-8 0 -38-8 -32-2 -10-8 -9-10 -5-10 -4-12 0-28 4-12 5-10 17-16 14-8 18-5 20-2 20 1 16 4 14 6 12 8 11 12 7 14 3 16 -1 18 -5 16 -7 12 -12 11 -14 8 -16 5zM92 458l-6 1 -9-3 -8-6 -6-8 -10-30 -3-18 3-30 5-12 14-17 8-4 8-2 8 2 8 5 14 16 6 15 5 27 -4 20 -10 24 -9 12 -14 8zM1020 440l-10 1 -9-7 -8-14 -3-18 0-20 5-20 7-11 10-5 10 2 8 8 5 12 4 18 -1 18 -3 16 -7 13 -8 7zM1326 616l-30 0 -24-6 -22-12 -14-16 -8-22 1-28 9-21 16-16 22-3 18 1 48-10 14 4 13 7 11 9 8 11 7 16 2 18 -2 18 -7 16 -10 13 -14 10 -18 7 -20 4zM1514 806l-12-5 -12-8 -11-13 5-8 8-9 12-9 10-5 18 13 10 14 4 8 -14 14 -18 8z"/><path id="b79" d="M1516 11l-6 0 -12-6 -12-9 -8-8 59 0 -21 23zM1342 304l-10 2 -38-8 -28-3 -9-5 -9-10 -10-20 -1-26 3-12 5-10 15-16 14-8 16-5 18-2 20 0 16 3 14 6 12 7 10 11 7 12 4 16 0 18 -4 14 -7 12 -10 11 -12 7 -16 6zM96 450l-6 2 -6-2 -13-10 -9-24 -5-20 4-28 4-12 11-14 14-6 12 5 12 13 7 16 4 22 -3 18 -8 21 -8 12 -10 7zM1020 436l-10 1 -8-7 -6-14 -3-16 0-18 5-18 6-10 10-5 8 3 7 8 4 12 2 16 0 16 -3 14 -6 12 -6 6zM1330 612l-30 1 -24-5 -20-10 -16-16 -5-10 -3-12 0-26 8-20 16-16 16-3 22 0 46-9 14 4 12 6 10 9 8 9 7 14 2 16 -1 18 -6 16 -9 12 -13 11 -16 7 -18 4zM1518 805l-6 0 -16-7 -16-16 2-6 8-10 14-11 10-5 17 12 14 22 -13 14 -14 7z"/><path id="b80" d="M1514 11l-18-8 -17-15 57 0 -22 23zM1334 302l-40-7 -26-2 -10-7 -10-12 -7-20 1-24 8-19 16-15 14-7 16-4 18-1 18 1 14 4 14 6 12 9 8 10 5 12 3 14 -1 16 -5 14 -8 12 -10 9 -14 7 -16 4zM94 444l-9-2 -8-8 -9-22 -4-18 4-24 4-12 10-11 10-4 10 5 10 11 6 17 3 18 -3 16 -7 18 -7 10 -10 6zM1018 433l-8 0 -7-7 -4-12 -3-16 1-16 4-16 5-9 8-4 6 2 6 7 4 12 2 16 -1 14 -3 14 -5 10 -5 5zM1334 608l-28 2 -26-4 -21-10 -15-15 -5-9 -4-12 0-24 8-20 15-15 12-3 24-1 44-8 24 9 10 8 8 9 7 13 3 14 -1 18 -5 14 -8 12 -11 10 -15 8 -16 4zM1518 805l-6 0 -16-7 -15-16 3-8 10-10 10-8 10-5 16 12 15 21 -7 9 -20 12z"/><path id="b81" d="M1516 8l-4 2 -12-5 -12-8 -9-9 56 0 -19 20zM1336 298l-8 2 -34-8 -24-2 -16-14 -9-18 -1-22 6-18 14-16 12-7 15-5 15-2 20 0 14 3 14 5 12 7 8 9 7 12 3 12 0 16 -4 14 -6 10 -10 10 -12 7 -16 5zM96 436l-4 0 -4-2 -6-8 -7-16 -3-16 7-32 7-9 8-3 8 4 8 10 6 16 2 14 -2 12 -6 14 -6 10 -8 6zM1014 430l-6-3 -4-7 -3-12 -1-14 1-16 3-12 4-6 6-3 6 3 4 6 3 12 2 16 -2 14 -3 12 -4 7 -6 3zM1322 606l-26-1 -22-5 -17-10 -12-14 -7-20 1-22 8-18 15-13 32-3 42-8 14 4 12 6 10 9 7 9 6 14 1 16 -2 14 -6 14 -10 11 -12 8 -16 6 -18 3zM1518 804l-6 1 -16-7 -9-8 -6-8 5-8 8-9 12-9 8-4 15 12 15 20 -6 9 -20 11z"/><path id="b82" d="M1514 8l-16-5 -18-15 54 0 -20 20zM1328 296l-56-9 -10-7 -8-10 -6-18 1-22 8-16 15-13 12-6 14-3 18-1 16 1 14 4 12 6 10 8 6 8 5 12 2 14 -2 14 -5 12 -8 10 -10 7 -14 6 -14 3zM96 428l-6-4 -5-8 -6-22 6-28 5-6 6-3 6 4 6 9 6 24 -1 10 -5 12 -6 9 -6 3zM1014 426l-4-2 -3-6 -4-24 3-24 4-7 4-2 4 1 4 8 3 24 -4 24 -3 6 -4 2zM1326 602l-26 0 -20-4 -18-9 -13-13 -7-18 0-22 7-16 14-14 71-11 24 9 10 8 7 8 6 12 2 14 -1 14 -6 14 -8 10 -12 9 -14 6 -16 3zM1518 804l-6 1 -12-5 -10-7 -8-9 2-6 8-9 12-10 10-5 14 10 16 22 -12 11 -14 7z"/><path id="b83" d="M1514 7l-16-5 -17-14 52 0 -19 19zM1332 292l-12 1 -44-8 -8-5 -8-8 -8-16 -1-20 6-16 11-12 10-6 14-5 32-2 14 2 12 5 10 6 8 8 6 10 3 12 0 14 -4 12 -6 10 -9 8 -12 6 -14 4zM98 420l-4-3 -4-7 -4-16 5-22 3-5 4-2 4 3 4 7 4 19 -4 18 -4 6 -4 2zM1014 423l-3-3 -2-6 -3-20 3-22 2-6 3-2 3 2 2 6 3 22 -3 20 -2 6 -3 3zM1330 598l-24 1 -22-3 -18-8 -12-11 -8-17 -1-20 6-16 11-13 6-4 26-2 36-7 24 8 16 13 6 11 3 12 0 16 -5 12 -7 10 -9 8 -14 7 -14 3zM1516 805l-6-1 -14-7 -13-13 3-7 8-9 20-13 12 9 17 22 -11 11 -16 8z"/><path id="b84" d="M1514 5l-18-5 -15-12 51 0 -18 17zM1334 288l-16 2 -40-8 -14-10 -8-14 -2-18 5-16 9-12 10-6 12-5 30-3 26 6 10 5 8 7 6 10 3 10 1 12 -3 12 -5 10 -9 8 -11 6 -12 4zM1014 419l-3-7 -1-18 1-20 3-6 3 6 1 20 -1 18 -3 7zM100 413l-4-7 -2-12 2-14 4-6 5 8 2 12 -2 12 -5 7zM1332 594l-24 2 -20-3 -18-7 -12-10 -8-14 -2-18 4-16 10-12 8-6 24-2 34-7 22 7 16 12 7 10 2 10 1 14 -3 12 -7 10 -9 8 -11 6 -14 4zM1516 804l-6 0 -14-7 -7-5 -6-8 11-14 20-13 12 9 17 20 -4 6 -7 5 -16 7z"/><clipPath id="bc"><rect x="-1" y="-1" width="815.0" height="442.0"/></clipPath><g id="bq" clip-path="url(#bc)"><rect x="-2" y="-2" width="817.5" height="444.5" fill="#fff"/><g transform="scale(0.5)"><use href="#b41" fill="#f7f7ff"/><use href="#b40" fill="#f2f2fe"/><use href="#b39" fill="#ededfe"/><use href="#b38" fill="#e8e8fe"/><use href="#b37" fill="#e3e3fd"/><use href="#b36" fill="#ddddfd"/><use href="#b35" fill="#d8d8fd"/><use href="#b34" fill="#d3d3fc"/><use href="#b33" fill="#cecefc"/><use href="#b32" fill="#c8c8fc"/><use href="#b31" fill="#c3c3fb"/><use href="#b30" fill="#bdbdfb"/><use href="#b29" fill="#b8b8fb"/><use href="#b28" fill="#b3b3fb"/><use href="#b27" fill="#adadfa"/><use href="#b26" fill="#a8a8fa"/><use href="#b25" fill="#a2a2fa"/><use href="#b24" fill="#9c9cf9"/><use href="#b23" fill="#9797f9"/><use href="#b22" fill="#9191f9"/><use href="#b21" fill="#8b8bf8"/><use href="#b20" fill="#8585f8"/><use href="#b19" fill="#7f7ff7"/><use href="#b18" fill="#7979f7"/><use href="#b17" fill="#7373f7"/><use href="#b16" fill="#6d6df6"/><use href="#b15" fill="#6666f6"/><use href="#b14" fill="#6060f6"/><use href="#b13" fill="#5a5af5"/><use href="#b12" fill="#5353f5"/><use href="#b11" fill="#4c4cf4"/><use href="#b10" fill="#4646f4"/><use href="#b9" fill="#3f3ff4"/><use href="#b8" fill="#3838f3"/><use href="#b7" fill="#3131f3"/><use href="#b6" fill="#2a2af2"/><use href="#b5" fill="#2222f2"/><use href="#b4" fill="#1b1bf2"/><use href="#b3" fill="#1313f1"/><use href="#b2" fill="#0c0cf1"/><use href="#b1" fill="#0404f0"/><use href="#b0" fill="#0000f0"/><use href="#b42" fill="#fffcfc"/><use href="#b43" fill="#fef7f7"/><use href="#b44" fill="#fdf2f2"/><use href="#b45" fill="#fceded"/><use href="#b46" fill="#fbe8e8"/><use href="#b47" fill="#fbe3e3"/><use href="#b48" fill="#fadddd"/><use href="#b49" fill="#f9d8d8"/><use href="#b50" fill="#f8d3d3"/><use href="#b51" fill="#f7cece"/><use href="#b52" fill="#f6c8c8"/><use href="#b53" fill="#f6c3c3"/><use href="#b54" fill="#f5bdbd"/><use href="#b55" fill="#f4b8b8"/><use href="#b56" fill="#f3b3b3"/><use href="#b57" fill="#f2adad"/><use href="#b58" fill="#f1a8a8"/><use href="#b59" fill="#f0a2a2"/><use href="#b60" fill="#f09c9c"/><use href="#b61" fill="#ef9797"/><use href="#b62" fill="#ee9191"/><use href="#b63" fill="#ed8b8b"/><use href="#b64" fill="#ec8585"/><use href="#b65" fill="#eb7f7f"/><use href="#b66" fill="#ea7979"/><use href="#b67" fill="#e97373"/><use href="#b68" fill="#e86d6d"/><use href="#b69" fill="#e76666"/><use href="#b70" fill="#e66060"/><use href="#b71" fill="#e55a5a"/><use href="#b72" fill="#e45353"/><use href="#b73" fill="#e34c4c"/><use href="#b74" fill="#e24646"/><use href="#b75" fill="#e13f3f"/><use href="#b76" fill="#e03838"/><use href="#b77" fill="#df3131"/><use href="#b78" fill="#de2a2a"/><use href="#b79" fill="#dc2222"/><use href="#b80" fill="#db1b1b"/><use href="#b81" fill="#da1313"/><use href="#b82" fill="#d90c0c"/><use href="#b83" fill="#d80404"/><use href="#b84" fill="#d70000"/><g fill="none" stroke="#3a3a3a" stroke-width="3.2"><use href="#b36"/><use href="#b30"/><use href="#b24"/><use href="#b18"/><use href="#b12"/><use href="#b6"/><use href="#b0"/><use href="#b42"/><use href="#b48"/><use href="#b54"/><use href="#b60"/><use href="#b66"/><use href="#b72"/><use href="#b78"/><use href="#b84"/></g></g><path d="M214 160 C219 178 219 214 214 236 L229 230 C234 214 235 184 229 166 Z" fill="url(#hl)" opacity="0.8"/><path d="M336 160 C331 178 331 214 336 236 L321 230 C316 214 315 184 321 166 Z" fill="url(#hr)" opacity="0.8"/><path d="M266 172 L275.5 170.5 L285 172 L289 176 L292.5 186 L301 189 L309 192 L310 200 L306.5 205.5 L291.5 211.5 L286.5 215.5 L275.5 218.5 L264 216 L258.5 210 L245 203.5 L241 200 L242 192 L250 189 L258.5 186 L262 176 Z" fill="url(#bg1)" stroke="#030303" stroke-width="4.6" stroke-linejoin="round"/><path d="M783 -2 L797 -2 L796 9 L789 15 L783 12 Z" fill="#000" opacity="0.9"/><path d="M591 184 L596 172 L606 163 L616 171 L623 184 Z" fill="#2c2438" opacity="0.72"/><path d="M589 183 L578 186 L571 200 L574 214 L589 221 Z" fill="#2c2438" opacity="0.66"/><ellipse cx="607" cy="225.5" rx="9" ry="4.5" fill="#d62020"/><rect x="588.75" y="183.75" width="34.5" height="35.7" fill="url(#sgl)" stroke="#050005" stroke-width="4.5"/><rect x="591" y="186" width="30" height="31.2" fill="url(#sg)"/><path d="M736 407 Q760 398 787 396 L791 424 Q765 429 741 427 Z" fill="#1a0e18" opacity="0.75"/><path d="M783 384 L795 386 L797 412 L783 412 Z" fill="#000" opacity="0.9"/><rect x="783" y="411" width="40" height="40" fill="#000"/><rect x="788" y="421.5" width="35" height="30" fill="url(#cg)"/></g><g id="pa"><use href="#aq"/><use href="#aq" transform="matrix(-1 0 0 1 1627 0)"/><use href="#aq" transform="matrix(1 0 0 -1 0 881)"/><use href="#aq" transform="matrix(-1 0 0 -1 1627 881)"/></g><g id="pb"><use href="#bq"/><use href="#bq" transform="matrix(-1 0 0 1 1627 0)"/><use href="#bq" transform="matrix(1 0 0 -1 0 881)"/><use href="#bq" transform="matrix(-1 0 0 -1 1627 881)"/></g></defs>
<g transform="translate(477 42)"><use href="#pa"/></g>
<g transform="translate(477 961) scale(1 1.0023)"><use href="#pb"/></g>
<rect x="477" y="41.5" width="1627" height="2.5" fill="#000"/>
<rect x="477" y="959.5" width="1627" height="2.5" fill="#333"/>
<text x="0" y="0" transform="translate(55.6 142.5) scale(0.904 1)" font-family="Liberation Sans, sans-serif" font-size="71">(a) R2SCAN</text><text x="0" y="0" transform="translate(75.5 1184.5) scale(0.93 1)" font-family="Liberation Sans, sans-serif" font-size="70">(b) PBE</text><path d="M43.6 716.8V187.5H475.4V716.8" fill="none" stroke="#000" stroke-width="3"/><path d="M43.6 187.5V716.8" fill="none" stroke="#707070" stroke-width="3.2"/><rect x="61.5" y="201.2" width="395.8" height="63.8" fill="none" stroke="#000" stroke-width="3.4"/><g font-family="DejaVu Sans, sans-serif" font-size="45"><text transform="translate(92.3 248) scale(1.11 1)">Scale:</text><text transform="translate(299.5 248) scale(1.125 1)">Δ n(r)</text><rect x="68.1" y="308.3" width="33.8" height="29.8" fill="#0000eb" stroke="#111" stroke-width="3.6"/><text font-size="46.5" transform="translate(182 339.9) scale(1.103 1)">-0.0300</text><rect x="68.1" y="376.1" width="33.8" height="29.8" fill="#7d7df5" stroke="#111" stroke-width="3.6"/><text font-size="46.5" transform="translate(182 407.7) scale(1.103 1)">-0.0180</text><rect x="68.1" y="444.0" width="33.8" height="29.8" fill="#d2d2fa" stroke="#111" stroke-width="3.6"/><text font-size="46.5" transform="translate(182 475.6) scale(1.103 1)">-0.0060</text><rect x="68.1" y="511.8" width="33.8" height="29.8" fill="#f0d4d6" stroke="#111" stroke-width="3.6"/><text font-size="46.5" transform="translate(169 543.4) scale(1.103 1)">+0.0060</text><rect x="68.1" y="579.7" width="33.8" height="29.8" fill="#e27878" stroke="#111" stroke-width="3.6"/><text font-size="46.5" transform="translate(169 611.3) scale(1.103 1)">+0.0180</text><rect x="68.1" y="647.5" width="33.8" height="29.8" fill="#d60000" stroke="#111" stroke-width="3.6"/><text font-size="46.5" transform="translate(169 679.1) scale(1.103 1)">+0.0300</text></g><g font-family="Liberation Sans, sans-serif" font-size="48.3"><text transform="translate(72.5 857.5) scale(1.063 1)">[001]</text><text transform="translate(288.5 1030.5) scale(1.12 1)">[110]</text></g><path d="M118.2 1020.8V897" stroke="#000" stroke-width="7.8" fill="none"/><path d="M114.3 1017.4H259" stroke="#000" stroke-width="7" fill="none"/><path d="M118.2 878 L129.5 900 L106.9 900 Z" fill="#000"/><path d="M280 1017.4 L257 1006 L257 1028.8 Z" fill="#000"/>
</svg>
</body></html>
